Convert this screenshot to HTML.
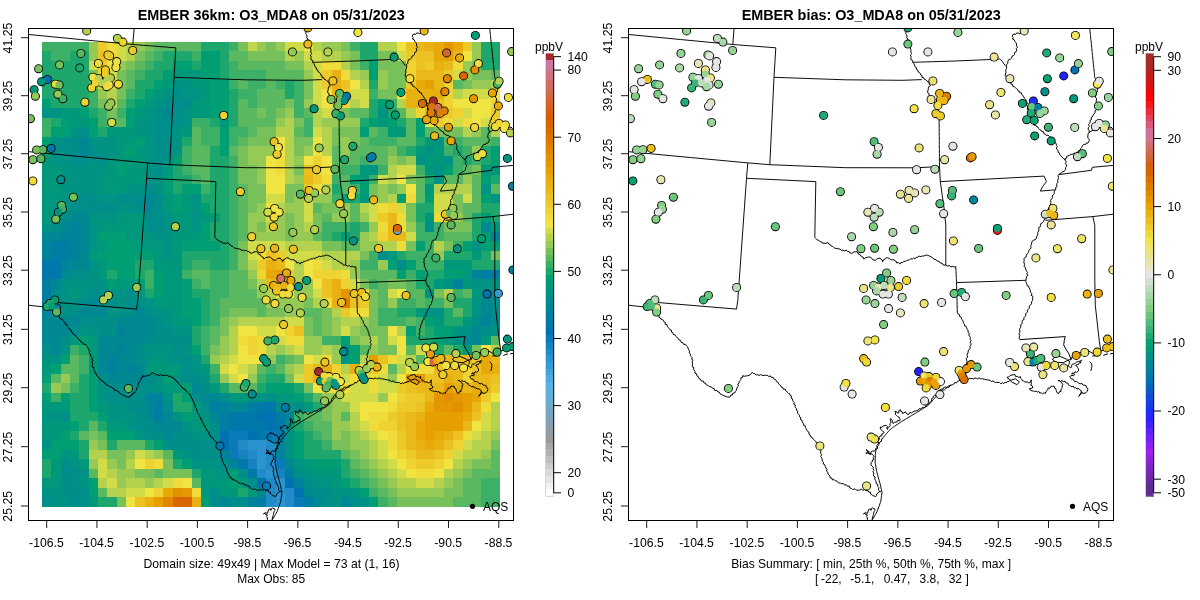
<!DOCTYPE html>
<html><head><meta charset="utf-8"><title>EMBER</title><style>html,body{margin:0;padding:0;background:#fff}body{width:1200px;height:600px;overflow:hidden;font-family:"Liberation Sans",sans-serif}</style></head><body>
<svg width="1200" height="600" viewBox="0 0 1200 600" style="display:block;will-change:transform">
<rect width="1200" height="600" fill="#fff"/>
<defs><clipPath id="cl"><rect x="28.5" y="28.5" width="485" height="492"/></clipPath><clipPath id="cr"><rect x="628.5" y="28.5" width="485" height="492"/></clipPath></defs>
<g shape-rendering="crispEdges">
<rect x="42.00" y="42.00" width="47.02" height="9.78" fill="#3cb067"/>
<rect x="88.72" y="42.00" width="9.64" height="9.78" fill="#96ca54"/>
<rect x="98.07" y="42.00" width="9.64" height="9.78" fill="#ecca29"/>
<rect x="107.41" y="42.00" width="9.64" height="9.78" fill="#efdb3a"/>
<rect x="116.76" y="42.00" width="9.64" height="9.78" fill="#d2db48"/>
<rect x="126.10" y="42.00" width="9.64" height="9.78" fill="#b4d24e"/>
<rect x="135.45" y="42.00" width="9.64" height="9.78" fill="#96ca54"/>
<rect x="144.79" y="42.00" width="9.64" height="9.78" fill="#78c15a"/>
<rect x="154.14" y="42.00" width="47.02" height="9.78" fill="#5ab861"/>
<rect x="200.86" y="42.00" width="28.33" height="9.78" fill="#1ea76d"/>
<rect x="228.90" y="42.00" width="9.64" height="9.78" fill="#3cb067"/>
<rect x="238.24" y="42.00" width="9.64" height="9.78" fill="#78c15a"/>
<rect x="247.59" y="42.00" width="9.64" height="9.78" fill="#c3d74b"/>
<rect x="256.93" y="42.00" width="9.64" height="9.78" fill="#96ca54"/>
<rect x="266.28" y="42.00" width="9.64" height="9.78" fill="#78c15a"/>
<rect x="275.62" y="42.00" width="9.64" height="9.78" fill="#96ca54"/>
<rect x="284.97" y="42.00" width="18.99" height="9.78" fill="#d2db48"/>
<rect x="303.66" y="42.00" width="9.64" height="9.78" fill="#f0e442"/>
<rect x="313.00" y="42.00" width="9.64" height="9.78" fill="#b4d24e"/>
<rect x="322.35" y="42.00" width="18.99" height="9.78" fill="#96ca54"/>
<rect x="341.04" y="42.00" width="9.64" height="9.78" fill="#78c15a"/>
<rect x="350.38" y="42.00" width="9.64" height="9.78" fill="#3cb067"/>
<rect x="359.73" y="42.00" width="18.99" height="9.78" fill="#1ea76d"/>
<rect x="378.42" y="42.00" width="18.99" height="9.78" fill="#b4d24e"/>
<rect x="397.11" y="42.00" width="9.64" height="9.78" fill="#f0e442"/>
<rect x="406.45" y="42.00" width="9.64" height="9.78" fill="#ebc221"/>
<rect x="415.80" y="42.00" width="9.64" height="9.78" fill="#eab919"/>
<rect x="425.14" y="42.00" width="9.64" height="9.78" fill="#e8b010"/>
<rect x="434.49" y="42.00" width="9.64" height="9.78" fill="#e7a808"/>
<rect x="443.83" y="42.00" width="9.64" height="9.78" fill="#e49700"/>
<rect x="453.18" y="42.00" width="9.64" height="9.78" fill="#e7a808"/>
<rect x="462.52" y="42.00" width="9.64" height="9.78" fill="#ecca29"/>
<rect x="471.87" y="42.00" width="9.64" height="9.78" fill="#96ca54"/>
<rect x="481.21" y="42.00" width="18.99" height="9.78" fill="#1ea76d"/>
<rect x="42.00" y="51.48" width="9.64" height="9.78" fill="#1ea76d"/>
<rect x="51.34" y="51.48" width="18.99" height="9.78" fill="#3cb067"/>
<rect x="70.03" y="51.48" width="18.99" height="9.78" fill="#1ea76d"/>
<rect x="88.72" y="51.48" width="9.64" height="9.78" fill="#96ca54"/>
<rect x="98.07" y="51.48" width="9.64" height="9.78" fill="#ebc221"/>
<rect x="107.41" y="51.48" width="9.64" height="9.78" fill="#efdb3a"/>
<rect x="116.76" y="51.48" width="9.64" height="9.78" fill="#d2db48"/>
<rect x="126.10" y="51.48" width="9.64" height="9.78" fill="#b4d24e"/>
<rect x="135.45" y="51.48" width="9.64" height="9.78" fill="#78c15a"/>
<rect x="144.79" y="51.48" width="9.64" height="9.78" fill="#5ab861"/>
<rect x="154.14" y="51.48" width="9.64" height="9.78" fill="#3cb067"/>
<rect x="163.48" y="51.48" width="28.33" height="9.78" fill="#1ea76d"/>
<rect x="191.52" y="51.48" width="9.64" height="9.78" fill="#3cb067"/>
<rect x="200.86" y="51.48" width="18.99" height="9.78" fill="#009e73"/>
<rect x="219.55" y="51.48" width="9.64" height="9.78" fill="#1ea76d"/>
<rect x="228.90" y="51.48" width="18.99" height="9.78" fill="#5ab861"/>
<rect x="247.59" y="51.48" width="37.68" height="9.78" fill="#78c15a"/>
<rect x="284.97" y="51.48" width="9.64" height="9.78" fill="#b4d24e"/>
<rect x="294.31" y="51.48" width="9.64" height="9.78" fill="#96ca54"/>
<rect x="303.66" y="51.48" width="18.99" height="9.78" fill="#d2db48"/>
<rect x="322.35" y="51.48" width="18.99" height="9.78" fill="#b4d24e"/>
<rect x="341.04" y="51.48" width="9.64" height="9.78" fill="#96ca54"/>
<rect x="350.38" y="51.48" width="9.64" height="9.78" fill="#78c15a"/>
<rect x="359.73" y="51.48" width="18.99" height="9.78" fill="#1ea76d"/>
<rect x="378.42" y="51.48" width="18.99" height="9.78" fill="#78c15a"/>
<rect x="397.11" y="51.48" width="9.64" height="9.78" fill="#d2db48"/>
<rect x="406.45" y="51.48" width="9.64" height="9.78" fill="#ecca29"/>
<rect x="415.80" y="51.48" width="18.99" height="9.78" fill="#ebc221"/>
<rect x="434.49" y="51.48" width="9.64" height="9.78" fill="#e7a808"/>
<rect x="443.83" y="51.48" width="9.64" height="9.78" fill="#e69f00"/>
<rect x="453.18" y="51.48" width="9.64" height="9.78" fill="#eab919"/>
<rect x="462.52" y="51.48" width="9.64" height="9.78" fill="#f0e442"/>
<rect x="471.87" y="51.48" width="9.64" height="9.78" fill="#96ca54"/>
<rect x="481.21" y="51.48" width="18.99" height="9.78" fill="#1ea76d"/>
<rect x="42.00" y="60.97" width="47.02" height="9.78" fill="#1ea76d"/>
<rect x="88.72" y="60.97" width="9.64" height="9.78" fill="#d2db48"/>
<rect x="98.07" y="60.97" width="9.64" height="9.78" fill="#ecca29"/>
<rect x="107.41" y="60.97" width="9.64" height="9.78" fill="#f0e442"/>
<rect x="116.76" y="60.97" width="9.64" height="9.78" fill="#96ca54"/>
<rect x="126.10" y="60.97" width="9.64" height="9.78" fill="#78c15a"/>
<rect x="135.45" y="60.97" width="9.64" height="9.78" fill="#5ab861"/>
<rect x="144.79" y="60.97" width="9.64" height="9.78" fill="#3cb067"/>
<rect x="154.14" y="60.97" width="18.99" height="9.78" fill="#1ea76d"/>
<rect x="172.83" y="60.97" width="18.99" height="9.78" fill="#009e73"/>
<rect x="191.52" y="60.97" width="9.64" height="9.78" fill="#1ea76d"/>
<rect x="200.86" y="60.97" width="18.99" height="9.78" fill="#009e73"/>
<rect x="219.55" y="60.97" width="9.64" height="9.78" fill="#1ea76d"/>
<rect x="228.90" y="60.97" width="9.64" height="9.78" fill="#3cb067"/>
<rect x="238.24" y="60.97" width="47.02" height="9.78" fill="#5ab861"/>
<rect x="284.97" y="60.97" width="18.99" height="9.78" fill="#78c15a"/>
<rect x="303.66" y="60.97" width="9.64" height="9.78" fill="#b4d24e"/>
<rect x="313.00" y="60.97" width="9.64" height="9.78" fill="#d2db48"/>
<rect x="322.35" y="60.97" width="18.99" height="9.78" fill="#efdb3a"/>
<rect x="341.04" y="60.97" width="9.64" height="9.78" fill="#b4d24e"/>
<rect x="350.38" y="60.97" width="9.64" height="9.78" fill="#78c15a"/>
<rect x="359.73" y="60.97" width="9.64" height="9.78" fill="#3cb067"/>
<rect x="369.07" y="60.97" width="9.64" height="9.78" fill="#009e73"/>
<rect x="378.42" y="60.97" width="28.33" height="9.78" fill="#78c15a"/>
<rect x="406.45" y="60.97" width="9.64" height="9.78" fill="#eed332"/>
<rect x="415.80" y="60.97" width="9.64" height="9.78" fill="#ebc221"/>
<rect x="425.14" y="60.97" width="9.64" height="9.78" fill="#ecca29"/>
<rect x="434.49" y="60.97" width="9.64" height="9.78" fill="#e8b010"/>
<rect x="443.83" y="60.97" width="9.64" height="9.78" fill="#eab919"/>
<rect x="453.18" y="60.97" width="9.64" height="9.78" fill="#efdb3a"/>
<rect x="462.52" y="60.97" width="9.64" height="9.78" fill="#96ca54"/>
<rect x="471.87" y="60.97" width="9.64" height="9.78" fill="#78c15a"/>
<rect x="481.21" y="60.97" width="18.99" height="9.78" fill="#1ea76d"/>
<rect x="42.00" y="70.45" width="47.02" height="9.78" fill="#1ea76d"/>
<rect x="88.72" y="70.45" width="9.64" height="9.78" fill="#78c15a"/>
<rect x="98.07" y="70.45" width="9.64" height="9.78" fill="#eed332"/>
<rect x="107.41" y="70.45" width="9.64" height="9.78" fill="#d2db48"/>
<rect x="116.76" y="70.45" width="9.64" height="9.78" fill="#78c15a"/>
<rect x="126.10" y="70.45" width="9.64" height="9.78" fill="#5ab861"/>
<rect x="135.45" y="70.45" width="9.64" height="9.78" fill="#3cb067"/>
<rect x="144.79" y="70.45" width="18.99" height="9.78" fill="#1ea76d"/>
<rect x="163.48" y="70.45" width="9.64" height="9.78" fill="#009e73"/>
<rect x="172.83" y="70.45" width="28.33" height="9.78" fill="#00987b"/>
<rect x="200.86" y="70.45" width="18.99" height="9.78" fill="#009e73"/>
<rect x="219.55" y="70.45" width="9.64" height="9.78" fill="#1ea76d"/>
<rect x="228.90" y="70.45" width="37.68" height="9.78" fill="#3cb067"/>
<rect x="266.28" y="70.45" width="37.68" height="9.78" fill="#5ab861"/>
<rect x="303.66" y="70.45" width="9.64" height="9.78" fill="#96ca54"/>
<rect x="313.00" y="70.45" width="9.64" height="9.78" fill="#d2db48"/>
<rect x="322.35" y="70.45" width="9.64" height="9.78" fill="#ecca29"/>
<rect x="331.69" y="70.45" width="9.64" height="9.78" fill="#e8b010"/>
<rect x="341.04" y="70.45" width="9.64" height="9.78" fill="#efdb3a"/>
<rect x="350.38" y="70.45" width="9.64" height="9.78" fill="#b4d24e"/>
<rect x="359.73" y="70.45" width="9.64" height="9.78" fill="#96ca54"/>
<rect x="369.07" y="70.45" width="9.64" height="9.78" fill="#009e73"/>
<rect x="378.42" y="70.45" width="9.64" height="9.78" fill="#96ca54"/>
<rect x="387.76" y="70.45" width="18.99" height="9.78" fill="#78c15a"/>
<rect x="406.45" y="70.45" width="9.64" height="9.78" fill="#eed332"/>
<rect x="415.80" y="70.45" width="28.33" height="9.78" fill="#eab919"/>
<rect x="443.83" y="70.45" width="9.64" height="9.78" fill="#ecca29"/>
<rect x="453.18" y="70.45" width="9.64" height="9.78" fill="#d2db48"/>
<rect x="462.52" y="70.45" width="9.64" height="9.78" fill="#96ca54"/>
<rect x="471.87" y="70.45" width="18.99" height="9.78" fill="#78c15a"/>
<rect x="490.56" y="70.45" width="9.64" height="9.78" fill="#5ab861"/>
<rect x="42.00" y="79.93" width="47.02" height="9.78" fill="#1ea76d"/>
<rect x="88.72" y="79.93" width="9.64" height="9.78" fill="#5ab861"/>
<rect x="98.07" y="79.93" width="18.99" height="9.78" fill="#d2db48"/>
<rect x="116.76" y="79.93" width="9.64" height="9.78" fill="#78c15a"/>
<rect x="126.10" y="79.93" width="9.64" height="9.78" fill="#5ab861"/>
<rect x="135.45" y="79.93" width="18.99" height="9.78" fill="#1ea76d"/>
<rect x="154.14" y="79.93" width="9.64" height="9.78" fill="#009e73"/>
<rect x="163.48" y="79.93" width="9.64" height="9.78" fill="#00987b"/>
<rect x="172.83" y="79.93" width="18.99" height="9.78" fill="#009383"/>
<rect x="191.52" y="79.93" width="18.99" height="9.78" fill="#00987b"/>
<rect x="210.21" y="79.93" width="18.99" height="9.78" fill="#009e73"/>
<rect x="228.90" y="79.93" width="9.64" height="9.78" fill="#3cb067"/>
<rect x="238.24" y="79.93" width="9.64" height="9.78" fill="#5ab861"/>
<rect x="247.59" y="79.93" width="18.99" height="9.78" fill="#3cb067"/>
<rect x="266.28" y="79.93" width="9.64" height="9.78" fill="#5ab861"/>
<rect x="275.62" y="79.93" width="9.64" height="9.78" fill="#3cb067"/>
<rect x="284.97" y="79.93" width="9.64" height="9.78" fill="#1ea76d"/>
<rect x="294.31" y="79.93" width="9.64" height="9.78" fill="#3cb067"/>
<rect x="303.66" y="79.93" width="9.64" height="9.78" fill="#78c15a"/>
<rect x="313.00" y="79.93" width="9.64" height="9.78" fill="#d2db48"/>
<rect x="322.35" y="79.93" width="9.64" height="9.78" fill="#ecca29"/>
<rect x="331.69" y="79.93" width="9.64" height="9.78" fill="#e8b010"/>
<rect x="341.04" y="79.93" width="9.64" height="9.78" fill="#ebc221"/>
<rect x="350.38" y="79.93" width="9.64" height="9.78" fill="#f0e442"/>
<rect x="359.73" y="79.93" width="9.64" height="9.78" fill="#b4d24e"/>
<rect x="369.07" y="79.93" width="9.64" height="9.78" fill="#1ea76d"/>
<rect x="378.42" y="79.93" width="9.64" height="9.78" fill="#96ca54"/>
<rect x="387.76" y="79.93" width="18.99" height="9.78" fill="#78c15a"/>
<rect x="406.45" y="79.93" width="9.64" height="9.78" fill="#ecca29"/>
<rect x="415.80" y="79.93" width="9.64" height="9.78" fill="#e7a808"/>
<rect x="425.14" y="79.93" width="9.64" height="9.78" fill="#e69f00"/>
<rect x="434.49" y="79.93" width="9.64" height="9.78" fill="#eab919"/>
<rect x="443.83" y="79.93" width="9.64" height="9.78" fill="#eed332"/>
<rect x="453.18" y="79.93" width="9.64" height="9.78" fill="#5ab861"/>
<rect x="462.52" y="79.93" width="9.64" height="9.78" fill="#78c15a"/>
<rect x="471.87" y="79.93" width="18.99" height="9.78" fill="#96ca54"/>
<rect x="490.56" y="79.93" width="9.64" height="9.78" fill="#b4d24e"/>
<rect x="42.00" y="89.42" width="47.02" height="9.78" fill="#1ea76d"/>
<rect x="88.72" y="89.42" width="9.64" height="9.78" fill="#3cb067"/>
<rect x="98.07" y="89.42" width="9.64" height="9.78" fill="#96ca54"/>
<rect x="107.41" y="89.42" width="9.64" height="9.78" fill="#b4d24e"/>
<rect x="116.76" y="89.42" width="9.64" height="9.78" fill="#78c15a"/>
<rect x="126.10" y="89.42" width="9.64" height="9.78" fill="#3cb067"/>
<rect x="135.45" y="89.42" width="9.64" height="9.78" fill="#1ea76d"/>
<rect x="144.79" y="89.42" width="9.64" height="9.78" fill="#009e73"/>
<rect x="154.14" y="89.42" width="9.64" height="9.78" fill="#00987b"/>
<rect x="163.48" y="89.42" width="9.64" height="9.78" fill="#009383"/>
<rect x="172.83" y="89.42" width="9.64" height="9.78" fill="#008e8b"/>
<rect x="182.17" y="89.42" width="18.99" height="9.78" fill="#009383"/>
<rect x="200.86" y="89.42" width="9.64" height="9.78" fill="#00987b"/>
<rect x="210.21" y="89.42" width="18.99" height="9.78" fill="#009e73"/>
<rect x="228.90" y="89.42" width="9.64" height="9.78" fill="#1ea76d"/>
<rect x="238.24" y="89.42" width="18.99" height="9.78" fill="#3cb067"/>
<rect x="256.93" y="89.42" width="28.33" height="9.78" fill="#5ab861"/>
<rect x="284.97" y="89.42" width="9.64" height="9.78" fill="#1ea76d"/>
<rect x="294.31" y="89.42" width="9.64" height="9.78" fill="#3cb067"/>
<rect x="303.66" y="89.42" width="9.64" height="9.78" fill="#78c15a"/>
<rect x="313.00" y="89.42" width="9.64" height="9.78" fill="#d2db48"/>
<rect x="322.35" y="89.42" width="9.64" height="9.78" fill="#f0e442"/>
<rect x="331.69" y="89.42" width="9.64" height="9.78" fill="#eab919"/>
<rect x="341.04" y="89.42" width="9.64" height="9.78" fill="#ecca29"/>
<rect x="350.38" y="89.42" width="18.99" height="9.78" fill="#d2db48"/>
<rect x="369.07" y="89.42" width="9.64" height="9.78" fill="#3cb067"/>
<rect x="378.42" y="89.42" width="18.99" height="9.78" fill="#78c15a"/>
<rect x="397.11" y="89.42" width="9.64" height="9.78" fill="#f0e442"/>
<rect x="406.45" y="89.42" width="37.68" height="9.78" fill="#e8b010"/>
<rect x="443.83" y="89.42" width="9.64" height="9.78" fill="#eed332"/>
<rect x="453.18" y="89.42" width="9.64" height="9.78" fill="#b4d24e"/>
<rect x="462.52" y="89.42" width="28.33" height="9.78" fill="#d2db48"/>
<rect x="490.56" y="89.42" width="9.64" height="9.78" fill="#f0e442"/>
<rect x="42.00" y="98.90" width="9.64" height="9.78" fill="#009e73"/>
<rect x="51.34" y="98.90" width="37.68" height="9.78" fill="#1ea76d"/>
<rect x="88.72" y="98.90" width="9.64" height="9.78" fill="#3cb067"/>
<rect x="98.07" y="98.90" width="9.64" height="9.78" fill="#78c15a"/>
<rect x="107.41" y="98.90" width="9.64" height="9.78" fill="#b4d24e"/>
<rect x="116.76" y="98.90" width="9.64" height="9.78" fill="#5ab861"/>
<rect x="126.10" y="98.90" width="9.64" height="9.78" fill="#1ea76d"/>
<rect x="135.45" y="98.90" width="9.64" height="9.78" fill="#009e73"/>
<rect x="144.79" y="98.90" width="9.64" height="9.78" fill="#00987b"/>
<rect x="154.14" y="98.90" width="9.64" height="9.78" fill="#009383"/>
<rect x="163.48" y="98.90" width="28.33" height="9.78" fill="#008e8b"/>
<rect x="191.52" y="98.90" width="18.99" height="9.78" fill="#00987b"/>
<rect x="210.21" y="98.90" width="18.99" height="9.78" fill="#009e73"/>
<rect x="228.90" y="98.90" width="9.64" height="9.78" fill="#1ea76d"/>
<rect x="238.24" y="98.90" width="9.64" height="9.78" fill="#5ab861"/>
<rect x="247.59" y="98.90" width="9.64" height="9.78" fill="#3cb067"/>
<rect x="256.93" y="98.90" width="28.33" height="9.78" fill="#5ab861"/>
<rect x="284.97" y="98.90" width="9.64" height="9.78" fill="#78c15a"/>
<rect x="294.31" y="98.90" width="9.64" height="9.78" fill="#3cb067"/>
<rect x="303.66" y="98.90" width="9.64" height="9.78" fill="#96ca54"/>
<rect x="313.00" y="98.90" width="9.64" height="9.78" fill="#d2db48"/>
<rect x="322.35" y="98.90" width="9.64" height="9.78" fill="#f0e442"/>
<rect x="331.69" y="98.90" width="9.64" height="9.78" fill="#d2db48"/>
<rect x="341.04" y="98.90" width="9.64" height="9.78" fill="#eed332"/>
<rect x="350.38" y="98.90" width="9.64" height="9.78" fill="#b4d24e"/>
<rect x="359.73" y="98.90" width="9.64" height="9.78" fill="#d2db48"/>
<rect x="369.07" y="98.90" width="9.64" height="9.78" fill="#1ea76d"/>
<rect x="378.42" y="98.90" width="9.64" height="9.78" fill="#009e73"/>
<rect x="387.76" y="98.90" width="9.64" height="9.78" fill="#3cb067"/>
<rect x="397.11" y="98.90" width="9.64" height="9.78" fill="#b4d24e"/>
<rect x="406.45" y="98.90" width="18.99" height="9.78" fill="#e8b010"/>
<rect x="425.14" y="98.90" width="9.64" height="9.78" fill="#eab919"/>
<rect x="434.49" y="98.90" width="9.64" height="9.78" fill="#ebc221"/>
<rect x="443.83" y="98.90" width="9.64" height="9.78" fill="#eed332"/>
<rect x="453.18" y="98.90" width="37.68" height="9.78" fill="#f0e442"/>
<rect x="490.56" y="98.90" width="9.64" height="9.78" fill="#eed332"/>
<rect x="42.00" y="108.38" width="18.99" height="9.78" fill="#009383"/>
<rect x="60.69" y="108.38" width="18.99" height="9.78" fill="#00987b"/>
<rect x="79.38" y="108.38" width="9.64" height="9.78" fill="#009e73"/>
<rect x="88.72" y="108.38" width="9.64" height="9.78" fill="#1ea76d"/>
<rect x="98.07" y="108.38" width="9.64" height="9.78" fill="#3cb067"/>
<rect x="107.41" y="108.38" width="9.64" height="9.78" fill="#78c15a"/>
<rect x="116.76" y="108.38" width="9.64" height="9.78" fill="#3cb067"/>
<rect x="126.10" y="108.38" width="9.64" height="9.78" fill="#009e73"/>
<rect x="135.45" y="108.38" width="9.64" height="9.78" fill="#00987b"/>
<rect x="144.79" y="108.38" width="9.64" height="9.78" fill="#009383"/>
<rect x="154.14" y="108.38" width="9.64" height="9.78" fill="#008e8b"/>
<rect x="163.48" y="108.38" width="9.64" height="9.78" fill="#008892"/>
<rect x="172.83" y="108.38" width="9.64" height="9.78" fill="#008e8b"/>
<rect x="182.17" y="108.38" width="9.64" height="9.78" fill="#009383"/>
<rect x="191.52" y="108.38" width="18.99" height="9.78" fill="#00987b"/>
<rect x="210.21" y="108.38" width="18.99" height="9.78" fill="#009e73"/>
<rect x="228.90" y="108.38" width="9.64" height="9.78" fill="#1ea76d"/>
<rect x="238.24" y="108.38" width="18.99" height="9.78" fill="#5ab861"/>
<rect x="256.93" y="108.38" width="9.64" height="9.78" fill="#78c15a"/>
<rect x="266.28" y="108.38" width="9.64" height="9.78" fill="#5ab861"/>
<rect x="275.62" y="108.38" width="9.64" height="9.78" fill="#78c15a"/>
<rect x="284.97" y="108.38" width="9.64" height="9.78" fill="#96ca54"/>
<rect x="294.31" y="108.38" width="9.64" height="9.78" fill="#3cb067"/>
<rect x="303.66" y="108.38" width="9.64" height="9.78" fill="#5ab861"/>
<rect x="313.00" y="108.38" width="9.64" height="9.78" fill="#b4d24e"/>
<rect x="322.35" y="108.38" width="9.64" height="9.78" fill="#d2db48"/>
<rect x="331.69" y="108.38" width="9.64" height="9.78" fill="#96ca54"/>
<rect x="341.04" y="108.38" width="9.64" height="9.78" fill="#78c15a"/>
<rect x="350.38" y="108.38" width="18.99" height="9.78" fill="#5ab861"/>
<rect x="369.07" y="108.38" width="9.64" height="9.78" fill="#1ea76d"/>
<rect x="378.42" y="108.38" width="9.64" height="9.78" fill="#009383"/>
<rect x="387.76" y="108.38" width="9.64" height="9.78" fill="#1ea76d"/>
<rect x="397.11" y="108.38" width="9.64" height="9.78" fill="#5ab861"/>
<rect x="406.45" y="108.38" width="9.64" height="9.78" fill="#b4d24e"/>
<rect x="415.80" y="108.38" width="9.64" height="9.78" fill="#eed332"/>
<rect x="425.14" y="108.38" width="9.64" height="9.78" fill="#eab919"/>
<rect x="434.49" y="108.38" width="9.64" height="9.78" fill="#ebc221"/>
<rect x="443.83" y="108.38" width="9.64" height="9.78" fill="#ecca29"/>
<rect x="453.18" y="108.38" width="9.64" height="9.78" fill="#eed332"/>
<rect x="462.52" y="108.38" width="9.64" height="9.78" fill="#d2db48"/>
<rect x="471.87" y="108.38" width="18.99" height="9.78" fill="#f0e442"/>
<rect x="490.56" y="108.38" width="9.64" height="9.78" fill="#ecca29"/>
<rect x="42.00" y="117.86" width="9.64" height="9.78" fill="#3cb067"/>
<rect x="51.34" y="117.86" width="9.64" height="9.78" fill="#1ea76d"/>
<rect x="60.69" y="117.86" width="9.64" height="9.78" fill="#009e73"/>
<rect x="70.03" y="117.86" width="18.99" height="9.78" fill="#00987b"/>
<rect x="88.72" y="117.86" width="9.64" height="9.78" fill="#009e73"/>
<rect x="98.07" y="117.86" width="9.64" height="9.78" fill="#3cb067"/>
<rect x="107.41" y="117.86" width="18.99" height="9.78" fill="#5ab861"/>
<rect x="126.10" y="117.86" width="9.64" height="9.78" fill="#009e73"/>
<rect x="135.45" y="117.86" width="18.99" height="9.78" fill="#009383"/>
<rect x="154.14" y="117.86" width="28.33" height="9.78" fill="#008e8b"/>
<rect x="182.17" y="117.86" width="9.64" height="9.78" fill="#009383"/>
<rect x="191.52" y="117.86" width="18.99" height="9.78" fill="#3cb067"/>
<rect x="210.21" y="117.86" width="9.64" height="9.78" fill="#1ea76d"/>
<rect x="219.55" y="117.86" width="9.64" height="9.78" fill="#00987b"/>
<rect x="228.90" y="117.86" width="9.64" height="9.78" fill="#1ea76d"/>
<rect x="238.24" y="117.86" width="37.68" height="9.78" fill="#5ab861"/>
<rect x="275.62" y="117.86" width="9.64" height="9.78" fill="#96ca54"/>
<rect x="284.97" y="117.86" width="9.64" height="9.78" fill="#b4d24e"/>
<rect x="294.31" y="117.86" width="9.64" height="9.78" fill="#78c15a"/>
<rect x="303.66" y="117.86" width="9.64" height="9.78" fill="#3cb067"/>
<rect x="313.00" y="117.86" width="9.64" height="9.78" fill="#b4d24e"/>
<rect x="322.35" y="117.86" width="37.68" height="9.78" fill="#96ca54"/>
<rect x="359.73" y="117.86" width="9.64" height="9.78" fill="#1ea76d"/>
<rect x="369.07" y="117.86" width="9.64" height="9.78" fill="#009e73"/>
<rect x="378.42" y="117.86" width="9.64" height="9.78" fill="#00987b"/>
<rect x="387.76" y="117.86" width="9.64" height="9.78" fill="#009e73"/>
<rect x="397.11" y="117.86" width="9.64" height="9.78" fill="#1ea76d"/>
<rect x="406.45" y="117.86" width="9.64" height="9.78" fill="#5ab861"/>
<rect x="415.80" y="117.86" width="9.64" height="9.78" fill="#009e73"/>
<rect x="425.14" y="117.86" width="9.64" height="9.78" fill="#f0e442"/>
<rect x="434.49" y="117.86" width="9.64" height="9.78" fill="#ecca29"/>
<rect x="443.83" y="117.86" width="9.64" height="9.78" fill="#efdb3a"/>
<rect x="453.18" y="117.86" width="9.64" height="9.78" fill="#d2db48"/>
<rect x="462.52" y="117.86" width="9.64" height="9.78" fill="#efdb3a"/>
<rect x="471.87" y="117.86" width="9.64" height="9.78" fill="#f0e442"/>
<rect x="481.21" y="117.86" width="9.64" height="9.78" fill="#d2db48"/>
<rect x="490.56" y="117.86" width="9.64" height="9.78" fill="#ecca29"/>
<rect x="42.00" y="127.35" width="9.64" height="9.78" fill="#3cb067"/>
<rect x="51.34" y="127.35" width="18.99" height="9.78" fill="#009e73"/>
<rect x="70.03" y="127.35" width="9.64" height="9.78" fill="#009383"/>
<rect x="79.38" y="127.35" width="9.64" height="9.78" fill="#008e8b"/>
<rect x="88.72" y="127.35" width="9.64" height="9.78" fill="#009e73"/>
<rect x="98.07" y="127.35" width="9.64" height="9.78" fill="#1ea76d"/>
<rect x="107.41" y="127.35" width="28.33" height="9.78" fill="#00987b"/>
<rect x="135.45" y="127.35" width="18.99" height="9.78" fill="#009383"/>
<rect x="154.14" y="127.35" width="18.99" height="9.78" fill="#008e8b"/>
<rect x="172.83" y="127.35" width="9.64" height="9.78" fill="#009383"/>
<rect x="182.17" y="127.35" width="9.64" height="9.78" fill="#00987b"/>
<rect x="191.52" y="127.35" width="9.64" height="9.78" fill="#5ab861"/>
<rect x="200.86" y="127.35" width="18.99" height="9.78" fill="#3cb067"/>
<rect x="219.55" y="127.35" width="9.64" height="9.78" fill="#009e73"/>
<rect x="228.90" y="127.35" width="18.99" height="9.78" fill="#3cb067"/>
<rect x="247.59" y="127.35" width="9.64" height="9.78" fill="#5ab861"/>
<rect x="256.93" y="127.35" width="18.99" height="9.78" fill="#78c15a"/>
<rect x="275.62" y="127.35" width="18.99" height="9.78" fill="#b4d24e"/>
<rect x="294.31" y="127.35" width="9.64" height="9.78" fill="#5ab861"/>
<rect x="303.66" y="127.35" width="9.64" height="9.78" fill="#3cb067"/>
<rect x="313.00" y="127.35" width="9.64" height="9.78" fill="#d2db48"/>
<rect x="322.35" y="127.35" width="9.64" height="9.78" fill="#b4d24e"/>
<rect x="331.69" y="127.35" width="28.33" height="9.78" fill="#78c15a"/>
<rect x="359.73" y="127.35" width="9.64" height="9.78" fill="#009e73"/>
<rect x="369.07" y="127.35" width="9.64" height="9.78" fill="#5ab861"/>
<rect x="378.42" y="127.35" width="9.64" height="9.78" fill="#3cb067"/>
<rect x="387.76" y="127.35" width="18.99" height="9.78" fill="#00987b"/>
<rect x="406.45" y="127.35" width="9.64" height="9.78" fill="#5ab861"/>
<rect x="415.80" y="127.35" width="9.64" height="9.78" fill="#009e73"/>
<rect x="425.14" y="127.35" width="9.64" height="9.78" fill="#5ab861"/>
<rect x="434.49" y="127.35" width="28.33" height="9.78" fill="#78c15a"/>
<rect x="462.52" y="127.35" width="9.64" height="9.78" fill="#b4d24e"/>
<rect x="471.87" y="127.35" width="9.64" height="9.78" fill="#96ca54"/>
<rect x="481.21" y="127.35" width="9.64" height="9.78" fill="#5ab861"/>
<rect x="490.56" y="127.35" width="9.64" height="9.78" fill="#b4d24e"/>
<rect x="42.00" y="136.83" width="9.64" height="9.78" fill="#009e73"/>
<rect x="51.34" y="136.83" width="9.64" height="9.78" fill="#009383"/>
<rect x="60.69" y="136.83" width="18.99" height="9.78" fill="#008e8b"/>
<rect x="79.38" y="136.83" width="9.64" height="9.78" fill="#008892"/>
<rect x="88.72" y="136.83" width="28.33" height="9.78" fill="#009383"/>
<rect x="116.76" y="136.83" width="18.99" height="9.78" fill="#00987b"/>
<rect x="135.45" y="136.83" width="9.64" height="9.78" fill="#009e73"/>
<rect x="144.79" y="136.83" width="9.64" height="9.78" fill="#009383"/>
<rect x="154.14" y="136.83" width="18.99" height="9.78" fill="#008e8b"/>
<rect x="172.83" y="136.83" width="9.64" height="9.78" fill="#009383"/>
<rect x="182.17" y="136.83" width="9.64" height="9.78" fill="#1ea76d"/>
<rect x="191.52" y="136.83" width="9.64" height="9.78" fill="#5ab861"/>
<rect x="200.86" y="136.83" width="18.99" height="9.78" fill="#3cb067"/>
<rect x="219.55" y="136.83" width="9.64" height="9.78" fill="#009e73"/>
<rect x="228.90" y="136.83" width="9.64" height="9.78" fill="#3cb067"/>
<rect x="238.24" y="136.83" width="9.64" height="9.78" fill="#5ab861"/>
<rect x="247.59" y="136.83" width="28.33" height="9.78" fill="#78c15a"/>
<rect x="275.62" y="136.83" width="9.64" height="9.78" fill="#f0e442"/>
<rect x="284.97" y="136.83" width="9.64" height="9.78" fill="#b4d24e"/>
<rect x="294.31" y="136.83" width="18.99" height="9.78" fill="#78c15a"/>
<rect x="313.00" y="136.83" width="9.64" height="9.78" fill="#f0e442"/>
<rect x="322.35" y="136.83" width="9.64" height="9.78" fill="#b4d24e"/>
<rect x="331.69" y="136.83" width="9.64" height="9.78" fill="#78c15a"/>
<rect x="341.04" y="136.83" width="9.64" height="9.78" fill="#96ca54"/>
<rect x="350.38" y="136.83" width="9.64" height="9.78" fill="#78c15a"/>
<rect x="359.73" y="136.83" width="9.64" height="9.78" fill="#5ab861"/>
<rect x="369.07" y="136.83" width="28.33" height="9.78" fill="#3cb067"/>
<rect x="397.11" y="136.83" width="18.99" height="9.78" fill="#5ab861"/>
<rect x="415.80" y="136.83" width="9.64" height="9.78" fill="#1ea76d"/>
<rect x="425.14" y="136.83" width="9.64" height="9.78" fill="#00987b"/>
<rect x="434.49" y="136.83" width="9.64" height="9.78" fill="#009383"/>
<rect x="443.83" y="136.83" width="9.64" height="9.78" fill="#5ab861"/>
<rect x="453.18" y="136.83" width="9.64" height="9.78" fill="#3cb067"/>
<rect x="462.52" y="136.83" width="28.33" height="9.78" fill="#5ab861"/>
<rect x="490.56" y="136.83" width="9.64" height="9.78" fill="#3cb067"/>
<rect x="42.00" y="146.31" width="9.64" height="9.78" fill="#009e73"/>
<rect x="51.34" y="146.31" width="28.33" height="9.78" fill="#008e8b"/>
<rect x="79.38" y="146.31" width="9.64" height="9.78" fill="#008892"/>
<rect x="88.72" y="146.31" width="9.64" height="9.78" fill="#008e8b"/>
<rect x="98.07" y="146.31" width="18.99" height="9.78" fill="#009383"/>
<rect x="116.76" y="146.31" width="9.64" height="9.78" fill="#00987b"/>
<rect x="126.10" y="146.31" width="9.64" height="9.78" fill="#009e73"/>
<rect x="135.45" y="146.31" width="9.64" height="9.78" fill="#00987b"/>
<rect x="144.79" y="146.31" width="9.64" height="9.78" fill="#009383"/>
<rect x="154.14" y="146.31" width="18.99" height="9.78" fill="#008e8b"/>
<rect x="172.83" y="146.31" width="9.64" height="9.78" fill="#009383"/>
<rect x="182.17" y="146.31" width="9.64" height="9.78" fill="#3cb067"/>
<rect x="191.52" y="146.31" width="18.99" height="9.78" fill="#5ab861"/>
<rect x="210.21" y="146.31" width="9.64" height="9.78" fill="#1ea76d"/>
<rect x="219.55" y="146.31" width="9.64" height="9.78" fill="#009e73"/>
<rect x="228.90" y="146.31" width="9.64" height="9.78" fill="#5ab861"/>
<rect x="238.24" y="146.31" width="9.64" height="9.78" fill="#78c15a"/>
<rect x="247.59" y="146.31" width="28.33" height="9.78" fill="#96ca54"/>
<rect x="275.62" y="146.31" width="9.64" height="9.78" fill="#f0e442"/>
<rect x="284.97" y="146.31" width="9.64" height="9.78" fill="#b4d24e"/>
<rect x="294.31" y="146.31" width="9.64" height="9.78" fill="#78c15a"/>
<rect x="303.66" y="146.31" width="9.64" height="9.78" fill="#96ca54"/>
<rect x="313.00" y="146.31" width="9.64" height="9.78" fill="#f0e442"/>
<rect x="322.35" y="146.31" width="9.64" height="9.78" fill="#b4d24e"/>
<rect x="331.69" y="146.31" width="9.64" height="9.78" fill="#5ab861"/>
<rect x="341.04" y="146.31" width="9.64" height="9.78" fill="#96ca54"/>
<rect x="350.38" y="146.31" width="37.68" height="9.78" fill="#5ab861"/>
<rect x="387.76" y="146.31" width="9.64" height="9.78" fill="#78c15a"/>
<rect x="397.11" y="146.31" width="9.64" height="9.78" fill="#3cb067"/>
<rect x="406.45" y="146.31" width="9.64" height="9.78" fill="#1ea76d"/>
<rect x="415.80" y="146.31" width="9.64" height="9.78" fill="#00987b"/>
<rect x="425.14" y="146.31" width="9.64" height="9.78" fill="#009383"/>
<rect x="434.49" y="146.31" width="9.64" height="9.78" fill="#00987b"/>
<rect x="443.83" y="146.31" width="9.64" height="9.78" fill="#3cb067"/>
<rect x="453.18" y="146.31" width="9.64" height="9.78" fill="#1ea76d"/>
<rect x="462.52" y="146.31" width="9.64" height="9.78" fill="#3cb067"/>
<rect x="471.87" y="146.31" width="9.64" height="9.78" fill="#96ca54"/>
<rect x="481.21" y="146.31" width="9.64" height="9.78" fill="#1ea76d"/>
<rect x="490.56" y="146.31" width="9.64" height="9.78" fill="#009e73"/>
<rect x="42.00" y="155.80" width="9.64" height="9.78" fill="#00987b"/>
<rect x="51.34" y="155.80" width="18.99" height="9.78" fill="#009383"/>
<rect x="70.03" y="155.80" width="18.99" height="9.78" fill="#008e8b"/>
<rect x="88.72" y="155.80" width="9.64" height="9.78" fill="#009383"/>
<rect x="98.07" y="155.80" width="9.64" height="9.78" fill="#008e8b"/>
<rect x="107.41" y="155.80" width="37.68" height="9.78" fill="#00987b"/>
<rect x="144.79" y="155.80" width="9.64" height="9.78" fill="#009383"/>
<rect x="154.14" y="155.80" width="9.64" height="9.78" fill="#008e8b"/>
<rect x="163.48" y="155.80" width="9.64" height="9.78" fill="#009383"/>
<rect x="172.83" y="155.80" width="9.64" height="9.78" fill="#009e73"/>
<rect x="182.17" y="155.80" width="9.64" height="9.78" fill="#3cb067"/>
<rect x="191.52" y="155.80" width="18.99" height="9.78" fill="#5ab861"/>
<rect x="210.21" y="155.80" width="18.99" height="9.78" fill="#1ea76d"/>
<rect x="228.90" y="155.80" width="9.64" height="9.78" fill="#3cb067"/>
<rect x="238.24" y="155.80" width="9.64" height="9.78" fill="#78c15a"/>
<rect x="247.59" y="155.80" width="18.99" height="9.78" fill="#96ca54"/>
<rect x="266.28" y="155.80" width="9.64" height="9.78" fill="#f0e442"/>
<rect x="275.62" y="155.80" width="9.64" height="9.78" fill="#efdb3a"/>
<rect x="284.97" y="155.80" width="9.64" height="9.78" fill="#b4d24e"/>
<rect x="294.31" y="155.80" width="9.64" height="9.78" fill="#96ca54"/>
<rect x="303.66" y="155.80" width="9.64" height="9.78" fill="#f0e442"/>
<rect x="313.00" y="155.80" width="9.64" height="9.78" fill="#eed332"/>
<rect x="322.35" y="155.80" width="9.64" height="9.78" fill="#f0e442"/>
<rect x="331.69" y="155.80" width="28.33" height="9.78" fill="#5ab861"/>
<rect x="359.73" y="155.80" width="9.64" height="9.78" fill="#3cb067"/>
<rect x="369.07" y="155.80" width="18.99" height="9.78" fill="#5ab861"/>
<rect x="387.76" y="155.80" width="9.64" height="9.78" fill="#96ca54"/>
<rect x="397.11" y="155.80" width="9.64" height="9.78" fill="#78c15a"/>
<rect x="406.45" y="155.80" width="9.64" height="9.78" fill="#96ca54"/>
<rect x="415.80" y="155.80" width="9.64" height="9.78" fill="#009383"/>
<rect x="425.14" y="155.80" width="18.99" height="9.78" fill="#00987b"/>
<rect x="443.83" y="155.80" width="9.64" height="9.78" fill="#009383"/>
<rect x="453.18" y="155.80" width="9.64" height="9.78" fill="#3cb067"/>
<rect x="462.52" y="155.80" width="9.64" height="9.78" fill="#1ea76d"/>
<rect x="471.87" y="155.80" width="9.64" height="9.78" fill="#3cb067"/>
<rect x="481.21" y="155.80" width="9.64" height="9.78" fill="#1ea76d"/>
<rect x="490.56" y="155.80" width="9.64" height="9.78" fill="#009e73"/>
<rect x="42.00" y="165.28" width="18.99" height="9.78" fill="#00987b"/>
<rect x="60.69" y="165.28" width="47.02" height="9.78" fill="#009383"/>
<rect x="107.41" y="165.28" width="9.64" height="9.78" fill="#00987b"/>
<rect x="116.76" y="165.28" width="9.64" height="9.78" fill="#009e73"/>
<rect x="126.10" y="165.28" width="18.99" height="9.78" fill="#00987b"/>
<rect x="144.79" y="165.28" width="9.64" height="9.78" fill="#009383"/>
<rect x="154.14" y="165.28" width="9.64" height="9.78" fill="#008e8b"/>
<rect x="163.48" y="165.28" width="9.64" height="9.78" fill="#00987b"/>
<rect x="172.83" y="165.28" width="9.64" height="9.78" fill="#1ea76d"/>
<rect x="182.17" y="165.28" width="9.64" height="9.78" fill="#3cb067"/>
<rect x="191.52" y="165.28" width="18.99" height="9.78" fill="#5ab861"/>
<rect x="210.21" y="165.28" width="18.99" height="9.78" fill="#1ea76d"/>
<rect x="228.90" y="165.28" width="9.64" height="9.78" fill="#3cb067"/>
<rect x="238.24" y="165.28" width="18.99" height="9.78" fill="#78c15a"/>
<rect x="256.93" y="165.28" width="9.64" height="9.78" fill="#96ca54"/>
<rect x="266.28" y="165.28" width="9.64" height="9.78" fill="#f0e442"/>
<rect x="275.62" y="165.28" width="9.64" height="9.78" fill="#efdb3a"/>
<rect x="284.97" y="165.28" width="9.64" height="9.78" fill="#b4d24e"/>
<rect x="294.31" y="165.28" width="9.64" height="9.78" fill="#78c15a"/>
<rect x="303.66" y="165.28" width="9.64" height="9.78" fill="#ebc221"/>
<rect x="313.00" y="165.28" width="9.64" height="9.78" fill="#eed332"/>
<rect x="322.35" y="165.28" width="9.64" height="9.78" fill="#f0e442"/>
<rect x="331.69" y="165.28" width="9.64" height="9.78" fill="#5ab861"/>
<rect x="341.04" y="165.28" width="18.99" height="9.78" fill="#3cb067"/>
<rect x="359.73" y="165.28" width="9.64" height="9.78" fill="#00987b"/>
<rect x="369.07" y="165.28" width="9.64" height="9.78" fill="#009383"/>
<rect x="378.42" y="165.28" width="9.64" height="9.78" fill="#3cb067"/>
<rect x="387.76" y="165.28" width="9.64" height="9.78" fill="#b4d24e"/>
<rect x="397.11" y="165.28" width="18.99" height="9.78" fill="#d2db48"/>
<rect x="415.80" y="165.28" width="9.64" height="9.78" fill="#3cb067"/>
<rect x="425.14" y="165.28" width="9.64" height="9.78" fill="#00987b"/>
<rect x="434.49" y="165.28" width="9.64" height="9.78" fill="#009383"/>
<rect x="443.83" y="165.28" width="9.64" height="9.78" fill="#009e73"/>
<rect x="453.18" y="165.28" width="9.64" height="9.78" fill="#3cb067"/>
<rect x="462.52" y="165.28" width="9.64" height="9.78" fill="#5ab861"/>
<rect x="471.87" y="165.28" width="9.64" height="9.78" fill="#78c15a"/>
<rect x="481.21" y="165.28" width="18.99" height="9.78" fill="#00987b"/>
<rect x="42.00" y="174.76" width="18.99" height="9.78" fill="#00987b"/>
<rect x="60.69" y="174.76" width="37.68" height="9.78" fill="#009383"/>
<rect x="98.07" y="174.76" width="47.02" height="9.78" fill="#00987b"/>
<rect x="144.79" y="174.76" width="18.99" height="9.78" fill="#009383"/>
<rect x="163.48" y="174.76" width="9.64" height="9.78" fill="#009e73"/>
<rect x="172.83" y="174.76" width="18.99" height="9.78" fill="#1ea76d"/>
<rect x="191.52" y="174.76" width="9.64" height="9.78" fill="#3cb067"/>
<rect x="200.86" y="174.76" width="9.64" height="9.78" fill="#5ab861"/>
<rect x="210.21" y="174.76" width="18.99" height="9.78" fill="#1ea76d"/>
<rect x="228.90" y="174.76" width="9.64" height="9.78" fill="#3cb067"/>
<rect x="238.24" y="174.76" width="18.99" height="9.78" fill="#78c15a"/>
<rect x="256.93" y="174.76" width="9.64" height="9.78" fill="#96ca54"/>
<rect x="266.28" y="174.76" width="18.99" height="9.78" fill="#f0e442"/>
<rect x="284.97" y="174.76" width="9.64" height="9.78" fill="#b4d24e"/>
<rect x="294.31" y="174.76" width="9.64" height="9.78" fill="#96ca54"/>
<rect x="303.66" y="174.76" width="9.64" height="9.78" fill="#eab919"/>
<rect x="313.00" y="174.76" width="9.64" height="9.78" fill="#ecca29"/>
<rect x="322.35" y="174.76" width="9.64" height="9.78" fill="#efdb3a"/>
<rect x="331.69" y="174.76" width="9.64" height="9.78" fill="#3cb067"/>
<rect x="341.04" y="174.76" width="9.64" height="9.78" fill="#5ab861"/>
<rect x="350.38" y="174.76" width="9.64" height="9.78" fill="#009e73"/>
<rect x="359.73" y="174.76" width="9.64" height="9.78" fill="#00987b"/>
<rect x="369.07" y="174.76" width="9.64" height="9.78" fill="#3cb067"/>
<rect x="378.42" y="174.76" width="9.64" height="9.78" fill="#d2db48"/>
<rect x="387.76" y="174.76" width="9.64" height="9.78" fill="#b4d24e"/>
<rect x="397.11" y="174.76" width="9.64" height="9.78" fill="#f0e442"/>
<rect x="406.45" y="174.76" width="9.64" height="9.78" fill="#78c15a"/>
<rect x="415.80" y="174.76" width="9.64" height="9.78" fill="#5ab861"/>
<rect x="425.14" y="174.76" width="9.64" height="9.78" fill="#1ea76d"/>
<rect x="434.49" y="174.76" width="9.64" height="9.78" fill="#009383"/>
<rect x="443.83" y="174.76" width="18.99" height="9.78" fill="#5ab861"/>
<rect x="462.52" y="174.76" width="9.64" height="9.78" fill="#96ca54"/>
<rect x="471.87" y="174.76" width="9.64" height="9.78" fill="#5ab861"/>
<rect x="481.21" y="174.76" width="9.64" height="9.78" fill="#009e73"/>
<rect x="490.56" y="174.76" width="9.64" height="9.78" fill="#1ea76d"/>
<rect x="42.00" y="184.25" width="18.99" height="9.78" fill="#00987b"/>
<rect x="60.69" y="184.25" width="37.68" height="9.78" fill="#009383"/>
<rect x="98.07" y="184.25" width="28.33" height="9.78" fill="#00987b"/>
<rect x="126.10" y="184.25" width="18.99" height="9.78" fill="#009383"/>
<rect x="144.79" y="184.25" width="9.64" height="9.78" fill="#008e8b"/>
<rect x="154.14" y="184.25" width="9.64" height="9.78" fill="#009383"/>
<rect x="163.48" y="184.25" width="9.64" height="9.78" fill="#009e73"/>
<rect x="172.83" y="184.25" width="9.64" height="9.78" fill="#1ea76d"/>
<rect x="182.17" y="184.25" width="18.99" height="9.78" fill="#009e73"/>
<rect x="200.86" y="184.25" width="9.64" height="9.78" fill="#3cb067"/>
<rect x="210.21" y="184.25" width="18.99" height="9.78" fill="#1ea76d"/>
<rect x="228.90" y="184.25" width="9.64" height="9.78" fill="#3cb067"/>
<rect x="238.24" y="184.25" width="9.64" height="9.78" fill="#5ab861"/>
<rect x="247.59" y="184.25" width="18.99" height="9.78" fill="#78c15a"/>
<rect x="266.28" y="184.25" width="18.99" height="9.78" fill="#f0e442"/>
<rect x="284.97" y="184.25" width="18.99" height="9.78" fill="#78c15a"/>
<rect x="303.66" y="184.25" width="9.64" height="9.78" fill="#ecca29"/>
<rect x="313.00" y="184.25" width="9.64" height="9.78" fill="#efdb3a"/>
<rect x="322.35" y="184.25" width="9.64" height="9.78" fill="#b4d24e"/>
<rect x="331.69" y="184.25" width="9.64" height="9.78" fill="#1ea76d"/>
<rect x="341.04" y="184.25" width="9.64" height="9.78" fill="#5ab861"/>
<rect x="350.38" y="184.25" width="9.64" height="9.78" fill="#3cb067"/>
<rect x="359.73" y="184.25" width="9.64" height="9.78" fill="#009e73"/>
<rect x="369.07" y="184.25" width="9.64" height="9.78" fill="#78c15a"/>
<rect x="378.42" y="184.25" width="9.64" height="9.78" fill="#96ca54"/>
<rect x="387.76" y="184.25" width="9.64" height="9.78" fill="#78c15a"/>
<rect x="397.11" y="184.25" width="9.64" height="9.78" fill="#96ca54"/>
<rect x="406.45" y="184.25" width="9.64" height="9.78" fill="#f0e442"/>
<rect x="415.80" y="184.25" width="9.64" height="9.78" fill="#5ab861"/>
<rect x="425.14" y="184.25" width="9.64" height="9.78" fill="#00987b"/>
<rect x="434.49" y="184.25" width="37.68" height="9.78" fill="#b4d24e"/>
<rect x="471.87" y="184.25" width="9.64" height="9.78" fill="#5ab861"/>
<rect x="481.21" y="184.25" width="9.64" height="9.78" fill="#009383"/>
<rect x="490.56" y="184.25" width="9.64" height="9.78" fill="#5ab861"/>
<rect x="42.00" y="193.73" width="18.99" height="9.78" fill="#00987b"/>
<rect x="60.69" y="193.73" width="18.99" height="9.78" fill="#009383"/>
<rect x="79.38" y="193.73" width="18.99" height="9.78" fill="#008e8b"/>
<rect x="98.07" y="193.73" width="18.99" height="9.78" fill="#009383"/>
<rect x="116.76" y="193.73" width="28.33" height="9.78" fill="#008e8b"/>
<rect x="144.79" y="193.73" width="9.64" height="9.78" fill="#008892"/>
<rect x="154.14" y="193.73" width="9.64" height="9.78" fill="#008e8b"/>
<rect x="163.48" y="193.73" width="9.64" height="9.78" fill="#00987b"/>
<rect x="172.83" y="193.73" width="9.64" height="9.78" fill="#009e73"/>
<rect x="182.17" y="193.73" width="9.64" height="9.78" fill="#00987b"/>
<rect x="191.52" y="193.73" width="9.64" height="9.78" fill="#009383"/>
<rect x="200.86" y="193.73" width="28.33" height="9.78" fill="#1ea76d"/>
<rect x="228.90" y="193.73" width="9.64" height="9.78" fill="#3cb067"/>
<rect x="238.24" y="193.73" width="9.64" height="9.78" fill="#5ab861"/>
<rect x="247.59" y="193.73" width="18.99" height="9.78" fill="#78c15a"/>
<rect x="266.28" y="193.73" width="18.99" height="9.78" fill="#d2db48"/>
<rect x="284.97" y="193.73" width="9.64" height="9.78" fill="#78c15a"/>
<rect x="294.31" y="193.73" width="9.64" height="9.78" fill="#96ca54"/>
<rect x="303.66" y="193.73" width="9.64" height="9.78" fill="#d2db48"/>
<rect x="313.00" y="193.73" width="18.99" height="9.78" fill="#96ca54"/>
<rect x="331.69" y="193.73" width="9.64" height="9.78" fill="#3cb067"/>
<rect x="341.04" y="193.73" width="9.64" height="9.78" fill="#009e73"/>
<rect x="350.38" y="193.73" width="9.64" height="9.78" fill="#1ea76d"/>
<rect x="359.73" y="193.73" width="9.64" height="9.78" fill="#00987b"/>
<rect x="369.07" y="193.73" width="9.64" height="9.78" fill="#78c15a"/>
<rect x="378.42" y="193.73" width="9.64" height="9.78" fill="#96ca54"/>
<rect x="387.76" y="193.73" width="9.64" height="9.78" fill="#b4d24e"/>
<rect x="397.11" y="193.73" width="9.64" height="9.78" fill="#009e73"/>
<rect x="406.45" y="193.73" width="9.64" height="9.78" fill="#efdb3a"/>
<rect x="415.80" y="193.73" width="9.64" height="9.78" fill="#5ab861"/>
<rect x="425.14" y="193.73" width="9.64" height="9.78" fill="#009e73"/>
<rect x="434.49" y="193.73" width="18.99" height="9.78" fill="#d2db48"/>
<rect x="453.18" y="193.73" width="9.64" height="9.78" fill="#78c15a"/>
<rect x="462.52" y="193.73" width="9.64" height="9.78" fill="#d2db48"/>
<rect x="471.87" y="193.73" width="9.64" height="9.78" fill="#5ab861"/>
<rect x="481.21" y="193.73" width="9.64" height="9.78" fill="#009e73"/>
<rect x="490.56" y="193.73" width="9.64" height="9.78" fill="#009383"/>
<rect x="42.00" y="203.21" width="9.64" height="9.78" fill="#00987b"/>
<rect x="51.34" y="203.21" width="18.99" height="9.78" fill="#009383"/>
<rect x="70.03" y="203.21" width="47.02" height="9.78" fill="#008e8b"/>
<rect x="116.76" y="203.21" width="18.99" height="9.78" fill="#009383"/>
<rect x="135.45" y="203.21" width="9.64" height="9.78" fill="#008e8b"/>
<rect x="144.79" y="203.21" width="9.64" height="9.78" fill="#008892"/>
<rect x="154.14" y="203.21" width="9.64" height="9.78" fill="#008e8b"/>
<rect x="163.48" y="203.21" width="9.64" height="9.78" fill="#00987b"/>
<rect x="172.83" y="203.21" width="9.64" height="9.78" fill="#009e73"/>
<rect x="182.17" y="203.21" width="9.64" height="9.78" fill="#00987b"/>
<rect x="191.52" y="203.21" width="9.64" height="9.78" fill="#009383"/>
<rect x="200.86" y="203.21" width="9.64" height="9.78" fill="#009e73"/>
<rect x="210.21" y="203.21" width="18.99" height="9.78" fill="#1ea76d"/>
<rect x="228.90" y="203.21" width="9.64" height="9.78" fill="#3cb067"/>
<rect x="238.24" y="203.21" width="9.64" height="9.78" fill="#5ab861"/>
<rect x="247.59" y="203.21" width="9.64" height="9.78" fill="#78c15a"/>
<rect x="256.93" y="203.21" width="9.64" height="9.78" fill="#96ca54"/>
<rect x="266.28" y="203.21" width="9.64" height="9.78" fill="#f0e442"/>
<rect x="275.62" y="203.21" width="9.64" height="9.78" fill="#b4d24e"/>
<rect x="284.97" y="203.21" width="18.99" height="9.78" fill="#96ca54"/>
<rect x="303.66" y="203.21" width="9.64" height="9.78" fill="#d2db48"/>
<rect x="313.00" y="203.21" width="9.64" height="9.78" fill="#5ab861"/>
<rect x="322.35" y="203.21" width="18.99" height="9.78" fill="#78c15a"/>
<rect x="341.04" y="203.21" width="9.64" height="9.78" fill="#96ca54"/>
<rect x="350.38" y="203.21" width="9.64" height="9.78" fill="#5ab861"/>
<rect x="359.73" y="203.21" width="9.64" height="9.78" fill="#b4d24e"/>
<rect x="369.07" y="203.21" width="9.64" height="9.78" fill="#d2db48"/>
<rect x="378.42" y="203.21" width="9.64" height="9.78" fill="#efdb3a"/>
<rect x="387.76" y="203.21" width="9.64" height="9.78" fill="#eed332"/>
<rect x="397.11" y="203.21" width="9.64" height="9.78" fill="#d2db48"/>
<rect x="406.45" y="203.21" width="9.64" height="9.78" fill="#78c15a"/>
<rect x="415.80" y="203.21" width="18.99" height="9.78" fill="#1ea76d"/>
<rect x="434.49" y="203.21" width="18.99" height="9.78" fill="#d2db48"/>
<rect x="453.18" y="203.21" width="9.64" height="9.78" fill="#78c15a"/>
<rect x="462.52" y="203.21" width="18.99" height="9.78" fill="#5ab861"/>
<rect x="481.21" y="203.21" width="18.99" height="9.78" fill="#1ea76d"/>
<rect x="42.00" y="212.70" width="9.64" height="9.78" fill="#00987b"/>
<rect x="51.34" y="212.70" width="9.64" height="9.78" fill="#009383"/>
<rect x="60.69" y="212.70" width="9.64" height="9.78" fill="#008e8b"/>
<rect x="70.03" y="212.70" width="18.99" height="9.78" fill="#008892"/>
<rect x="88.72" y="212.70" width="28.33" height="9.78" fill="#009383"/>
<rect x="116.76" y="212.70" width="28.33" height="9.78" fill="#00987b"/>
<rect x="144.79" y="212.70" width="18.99" height="9.78" fill="#008e8b"/>
<rect x="163.48" y="212.70" width="9.64" height="9.78" fill="#009383"/>
<rect x="172.83" y="212.70" width="18.99" height="9.78" fill="#00987b"/>
<rect x="191.52" y="212.70" width="9.64" height="9.78" fill="#009383"/>
<rect x="200.86" y="212.70" width="9.64" height="9.78" fill="#00987b"/>
<rect x="210.21" y="212.70" width="9.64" height="9.78" fill="#009e73"/>
<rect x="219.55" y="212.70" width="9.64" height="9.78" fill="#1ea76d"/>
<rect x="228.90" y="212.70" width="9.64" height="9.78" fill="#3cb067"/>
<rect x="238.24" y="212.70" width="9.64" height="9.78" fill="#5ab861"/>
<rect x="247.59" y="212.70" width="18.99" height="9.78" fill="#96ca54"/>
<rect x="266.28" y="212.70" width="9.64" height="9.78" fill="#d2db48"/>
<rect x="275.62" y="212.70" width="9.64" height="9.78" fill="#96ca54"/>
<rect x="284.97" y="212.70" width="9.64" height="9.78" fill="#78c15a"/>
<rect x="294.31" y="212.70" width="9.64" height="9.78" fill="#96ca54"/>
<rect x="303.66" y="212.70" width="9.64" height="9.78" fill="#d2db48"/>
<rect x="313.00" y="212.70" width="9.64" height="9.78" fill="#78c15a"/>
<rect x="322.35" y="212.70" width="9.64" height="9.78" fill="#5ab861"/>
<rect x="331.69" y="212.70" width="18.99" height="9.78" fill="#96ca54"/>
<rect x="350.38" y="212.70" width="9.64" height="9.78" fill="#5ab861"/>
<rect x="359.73" y="212.70" width="9.64" height="9.78" fill="#96ca54"/>
<rect x="369.07" y="212.70" width="9.64" height="9.78" fill="#d2db48"/>
<rect x="378.42" y="212.70" width="9.64" height="9.78" fill="#ecca29"/>
<rect x="387.76" y="212.70" width="9.64" height="9.78" fill="#eab919"/>
<rect x="397.11" y="212.70" width="9.64" height="9.78" fill="#efdb3a"/>
<rect x="406.45" y="212.70" width="9.64" height="9.78" fill="#78c15a"/>
<rect x="415.80" y="212.70" width="9.64" height="9.78" fill="#1ea76d"/>
<rect x="425.14" y="212.70" width="9.64" height="9.78" fill="#00987b"/>
<rect x="434.49" y="212.70" width="9.64" height="9.78" fill="#efdb3a"/>
<rect x="443.83" y="212.70" width="9.64" height="9.78" fill="#eed332"/>
<rect x="453.18" y="212.70" width="9.64" height="9.78" fill="#96ca54"/>
<rect x="462.52" y="212.70" width="9.64" height="9.78" fill="#5ab861"/>
<rect x="471.87" y="212.70" width="9.64" height="9.78" fill="#1ea76d"/>
<rect x="481.21" y="212.70" width="9.64" height="9.78" fill="#009e73"/>
<rect x="490.56" y="212.70" width="9.64" height="9.78" fill="#1ea76d"/>
<rect x="42.00" y="222.18" width="9.64" height="9.78" fill="#009383"/>
<rect x="51.34" y="222.18" width="9.64" height="9.78" fill="#008e8b"/>
<rect x="60.69" y="222.18" width="9.64" height="9.78" fill="#008892"/>
<rect x="70.03" y="222.18" width="9.64" height="9.78" fill="#00829a"/>
<rect x="79.38" y="222.18" width="9.64" height="9.78" fill="#008892"/>
<rect x="88.72" y="222.18" width="9.64" height="9.78" fill="#009383"/>
<rect x="98.07" y="222.18" width="47.02" height="9.78" fill="#00987b"/>
<rect x="144.79" y="222.18" width="18.99" height="9.78" fill="#008e8b"/>
<rect x="163.48" y="222.18" width="9.64" height="9.78" fill="#009383"/>
<rect x="172.83" y="222.18" width="18.99" height="9.78" fill="#00987b"/>
<rect x="191.52" y="222.18" width="9.64" height="9.78" fill="#009383"/>
<rect x="200.86" y="222.18" width="9.64" height="9.78" fill="#009e73"/>
<rect x="210.21" y="222.18" width="18.99" height="9.78" fill="#1ea76d"/>
<rect x="228.90" y="222.18" width="9.64" height="9.78" fill="#3cb067"/>
<rect x="238.24" y="222.18" width="9.64" height="9.78" fill="#5ab861"/>
<rect x="247.59" y="222.18" width="9.64" height="9.78" fill="#96ca54"/>
<rect x="256.93" y="222.18" width="9.64" height="9.78" fill="#78c15a"/>
<rect x="266.28" y="222.18" width="9.64" height="9.78" fill="#b4d24e"/>
<rect x="275.62" y="222.18" width="9.64" height="9.78" fill="#96ca54"/>
<rect x="284.97" y="222.18" width="9.64" height="9.78" fill="#78c15a"/>
<rect x="294.31" y="222.18" width="9.64" height="9.78" fill="#96ca54"/>
<rect x="303.66" y="222.18" width="9.64" height="9.78" fill="#b4d24e"/>
<rect x="313.00" y="222.18" width="9.64" height="9.78" fill="#78c15a"/>
<rect x="322.35" y="222.18" width="28.33" height="9.78" fill="#3cb067"/>
<rect x="350.38" y="222.18" width="9.64" height="9.78" fill="#1ea76d"/>
<rect x="359.73" y="222.18" width="9.64" height="9.78" fill="#3cb067"/>
<rect x="369.07" y="222.18" width="9.64" height="9.78" fill="#96ca54"/>
<rect x="378.42" y="222.18" width="9.64" height="9.78" fill="#efdb3a"/>
<rect x="387.76" y="222.18" width="9.64" height="9.78" fill="#eab919"/>
<rect x="397.11" y="222.18" width="9.64" height="9.78" fill="#efdb3a"/>
<rect x="406.45" y="222.18" width="9.64" height="9.78" fill="#96ca54"/>
<rect x="415.80" y="222.18" width="9.64" height="9.78" fill="#3cb067"/>
<rect x="425.14" y="222.18" width="9.64" height="9.78" fill="#008e8b"/>
<rect x="434.49" y="222.18" width="9.64" height="9.78" fill="#3cb067"/>
<rect x="443.83" y="222.18" width="28.33" height="9.78" fill="#78c15a"/>
<rect x="471.87" y="222.18" width="9.64" height="9.78" fill="#1ea76d"/>
<rect x="481.21" y="222.18" width="9.64" height="9.78" fill="#008892"/>
<rect x="490.56" y="222.18" width="9.64" height="9.78" fill="#00987b"/>
<rect x="42.00" y="231.66" width="18.99" height="9.78" fill="#008892"/>
<rect x="60.69" y="231.66" width="18.99" height="9.78" fill="#00829a"/>
<rect x="79.38" y="231.66" width="9.64" height="9.78" fill="#008892"/>
<rect x="88.72" y="231.66" width="9.64" height="9.78" fill="#009383"/>
<rect x="98.07" y="231.66" width="28.33" height="9.78" fill="#009e73"/>
<rect x="126.10" y="231.66" width="18.99" height="9.78" fill="#00987b"/>
<rect x="144.79" y="231.66" width="28.33" height="9.78" fill="#009383"/>
<rect x="172.83" y="231.66" width="28.33" height="9.78" fill="#00987b"/>
<rect x="200.86" y="231.66" width="9.64" height="9.78" fill="#009e73"/>
<rect x="210.21" y="231.66" width="18.99" height="9.78" fill="#1ea76d"/>
<rect x="228.90" y="231.66" width="9.64" height="9.78" fill="#3cb067"/>
<rect x="238.24" y="231.66" width="9.64" height="9.78" fill="#5ab861"/>
<rect x="247.59" y="231.66" width="37.68" height="9.78" fill="#96ca54"/>
<rect x="284.97" y="231.66" width="9.64" height="9.78" fill="#78c15a"/>
<rect x="294.31" y="231.66" width="18.99" height="9.78" fill="#96ca54"/>
<rect x="313.00" y="231.66" width="9.64" height="9.78" fill="#5ab861"/>
<rect x="322.35" y="231.66" width="9.64" height="9.78" fill="#3cb067"/>
<rect x="331.69" y="231.66" width="9.64" height="9.78" fill="#1ea76d"/>
<rect x="341.04" y="231.66" width="9.64" height="9.78" fill="#009e73"/>
<rect x="350.38" y="231.66" width="9.64" height="9.78" fill="#1ea76d"/>
<rect x="359.73" y="231.66" width="9.64" height="9.78" fill="#96ca54"/>
<rect x="369.07" y="231.66" width="9.64" height="9.78" fill="#b4d24e"/>
<rect x="378.42" y="231.66" width="9.64" height="9.78" fill="#eed332"/>
<rect x="387.76" y="231.66" width="18.99" height="9.78" fill="#eab919"/>
<rect x="406.45" y="231.66" width="9.64" height="9.78" fill="#d2db48"/>
<rect x="415.80" y="231.66" width="28.33" height="9.78" fill="#3cb067"/>
<rect x="443.83" y="231.66" width="28.33" height="9.78" fill="#5ab861"/>
<rect x="471.87" y="231.66" width="9.64" height="9.78" fill="#1ea76d"/>
<rect x="481.21" y="231.66" width="9.64" height="9.78" fill="#009e73"/>
<rect x="490.56" y="231.66" width="9.64" height="9.78" fill="#00829a"/>
<rect x="42.00" y="241.14" width="9.64" height="9.78" fill="#00829a"/>
<rect x="51.34" y="241.14" width="18.99" height="9.78" fill="#007da2"/>
<rect x="70.03" y="241.14" width="9.64" height="9.78" fill="#00829a"/>
<rect x="79.38" y="241.14" width="9.64" height="9.78" fill="#008892"/>
<rect x="88.72" y="241.14" width="9.64" height="9.78" fill="#009383"/>
<rect x="98.07" y="241.14" width="9.64" height="9.78" fill="#00987b"/>
<rect x="107.41" y="241.14" width="28.33" height="9.78" fill="#009e73"/>
<rect x="135.45" y="241.14" width="28.33" height="9.78" fill="#00987b"/>
<rect x="163.48" y="241.14" width="9.64" height="9.78" fill="#009383"/>
<rect x="172.83" y="241.14" width="9.64" height="9.78" fill="#00987b"/>
<rect x="182.17" y="241.14" width="37.68" height="9.78" fill="#009e73"/>
<rect x="219.55" y="241.14" width="9.64" height="9.78" fill="#1ea76d"/>
<rect x="228.90" y="241.14" width="9.64" height="9.78" fill="#3cb067"/>
<rect x="238.24" y="241.14" width="9.64" height="9.78" fill="#78c15a"/>
<rect x="247.59" y="241.14" width="37.68" height="9.78" fill="#d2db48"/>
<rect x="284.97" y="241.14" width="37.68" height="9.78" fill="#b4d24e"/>
<rect x="322.35" y="241.14" width="18.99" height="9.78" fill="#78c15a"/>
<rect x="341.04" y="241.14" width="18.99" height="9.78" fill="#5ab861"/>
<rect x="359.73" y="241.14" width="18.99" height="9.78" fill="#96ca54"/>
<rect x="378.42" y="241.14" width="18.99" height="9.78" fill="#b4d24e"/>
<rect x="397.11" y="241.14" width="9.64" height="9.78" fill="#efdb3a"/>
<rect x="406.45" y="241.14" width="9.64" height="9.78" fill="#78c15a"/>
<rect x="415.80" y="241.14" width="9.64" height="9.78" fill="#009e73"/>
<rect x="425.14" y="241.14" width="9.64" height="9.78" fill="#3cb067"/>
<rect x="434.49" y="241.14" width="9.64" height="9.78" fill="#b4d24e"/>
<rect x="443.83" y="241.14" width="9.64" height="9.78" fill="#78c15a"/>
<rect x="453.18" y="241.14" width="9.64" height="9.78" fill="#3cb067"/>
<rect x="462.52" y="241.14" width="9.64" height="9.78" fill="#009e73"/>
<rect x="471.87" y="241.14" width="9.64" height="9.78" fill="#009383"/>
<rect x="481.21" y="241.14" width="18.99" height="9.78" fill="#009e73"/>
<rect x="42.00" y="250.63" width="9.64" height="9.78" fill="#00829a"/>
<rect x="51.34" y="250.63" width="18.99" height="9.78" fill="#007da2"/>
<rect x="70.03" y="250.63" width="9.64" height="9.78" fill="#00829a"/>
<rect x="79.38" y="250.63" width="9.64" height="9.78" fill="#008892"/>
<rect x="88.72" y="250.63" width="9.64" height="9.78" fill="#00987b"/>
<rect x="98.07" y="250.63" width="56.37" height="9.78" fill="#009e73"/>
<rect x="154.14" y="250.63" width="9.64" height="9.78" fill="#00987b"/>
<rect x="163.48" y="250.63" width="9.64" height="9.78" fill="#009383"/>
<rect x="172.83" y="250.63" width="9.64" height="9.78" fill="#00987b"/>
<rect x="182.17" y="250.63" width="47.02" height="9.78" fill="#1ea76d"/>
<rect x="228.90" y="250.63" width="9.64" height="9.78" fill="#3cb067"/>
<rect x="238.24" y="250.63" width="9.64" height="9.78" fill="#78c15a"/>
<rect x="247.59" y="250.63" width="9.64" height="9.78" fill="#d2db48"/>
<rect x="256.93" y="250.63" width="9.64" height="9.78" fill="#efdb3a"/>
<rect x="266.28" y="250.63" width="9.64" height="9.78" fill="#ebc221"/>
<rect x="275.62" y="250.63" width="9.64" height="9.78" fill="#ecca29"/>
<rect x="284.97" y="250.63" width="37.68" height="9.78" fill="#d2db48"/>
<rect x="322.35" y="250.63" width="37.68" height="9.78" fill="#b4d24e"/>
<rect x="359.73" y="250.63" width="9.64" height="9.78" fill="#78c15a"/>
<rect x="369.07" y="250.63" width="9.64" height="9.78" fill="#3cb067"/>
<rect x="378.42" y="250.63" width="9.64" height="9.78" fill="#008e8b"/>
<rect x="387.76" y="250.63" width="9.64" height="9.78" fill="#00987b"/>
<rect x="397.11" y="250.63" width="9.64" height="9.78" fill="#1ea76d"/>
<rect x="406.45" y="250.63" width="28.33" height="9.78" fill="#3cb067"/>
<rect x="434.49" y="250.63" width="9.64" height="9.78" fill="#96ca54"/>
<rect x="443.83" y="250.63" width="28.33" height="9.78" fill="#1ea76d"/>
<rect x="471.87" y="250.63" width="9.64" height="9.78" fill="#00987b"/>
<rect x="481.21" y="250.63" width="9.64" height="9.78" fill="#1ea76d"/>
<rect x="490.56" y="250.63" width="9.64" height="9.78" fill="#78c15a"/>
<rect x="42.00" y="260.11" width="18.99" height="9.78" fill="#0078aa"/>
<rect x="60.69" y="260.11" width="9.64" height="9.78" fill="#00829a"/>
<rect x="70.03" y="260.11" width="18.99" height="9.78" fill="#008892"/>
<rect x="88.72" y="260.11" width="9.64" height="9.78" fill="#009383"/>
<rect x="98.07" y="260.11" width="9.64" height="9.78" fill="#00987b"/>
<rect x="107.41" y="260.11" width="28.33" height="9.78" fill="#009e73"/>
<rect x="135.45" y="260.11" width="18.99" height="9.78" fill="#1ea76d"/>
<rect x="154.14" y="260.11" width="28.33" height="9.78" fill="#00987b"/>
<rect x="182.17" y="260.11" width="9.64" height="9.78" fill="#1ea76d"/>
<rect x="191.52" y="260.11" width="18.99" height="9.78" fill="#3cb067"/>
<rect x="210.21" y="260.11" width="18.99" height="9.78" fill="#1ea76d"/>
<rect x="228.90" y="260.11" width="9.64" height="9.78" fill="#3cb067"/>
<rect x="238.24" y="260.11" width="9.64" height="9.78" fill="#78c15a"/>
<rect x="247.59" y="260.11" width="9.64" height="9.78" fill="#b4d24e"/>
<rect x="256.93" y="260.11" width="9.64" height="9.78" fill="#ecca29"/>
<rect x="266.28" y="260.11" width="9.64" height="9.78" fill="#e8b010"/>
<rect x="275.62" y="260.11" width="9.64" height="9.78" fill="#eab919"/>
<rect x="284.97" y="260.11" width="9.64" height="9.78" fill="#f0e442"/>
<rect x="294.31" y="260.11" width="9.64" height="9.78" fill="#b4d24e"/>
<rect x="303.66" y="260.11" width="9.64" height="9.78" fill="#f0e442"/>
<rect x="313.00" y="260.11" width="9.64" height="9.78" fill="#efdb3a"/>
<rect x="322.35" y="260.11" width="9.64" height="9.78" fill="#d2db48"/>
<rect x="331.69" y="260.11" width="18.99" height="9.78" fill="#b4d24e"/>
<rect x="350.38" y="260.11" width="9.64" height="9.78" fill="#96ca54"/>
<rect x="359.73" y="260.11" width="18.99" height="9.78" fill="#3cb067"/>
<rect x="378.42" y="260.11" width="9.64" height="9.78" fill="#96ca54"/>
<rect x="387.76" y="260.11" width="9.64" height="9.78" fill="#009e73"/>
<rect x="397.11" y="260.11" width="9.64" height="9.78" fill="#008e8b"/>
<rect x="406.45" y="260.11" width="9.64" height="9.78" fill="#009e73"/>
<rect x="415.80" y="260.11" width="28.33" height="9.78" fill="#3cb067"/>
<rect x="443.83" y="260.11" width="28.33" height="9.78" fill="#00987b"/>
<rect x="471.87" y="260.11" width="28.33" height="9.78" fill="#1ea76d"/>
<rect x="42.00" y="269.59" width="18.99" height="9.78" fill="#0078aa"/>
<rect x="60.69" y="269.59" width="9.64" height="9.78" fill="#008892"/>
<rect x="70.03" y="269.59" width="18.99" height="9.78" fill="#008e8b"/>
<rect x="88.72" y="269.59" width="9.64" height="9.78" fill="#009383"/>
<rect x="98.07" y="269.59" width="9.64" height="9.78" fill="#00987b"/>
<rect x="107.41" y="269.59" width="9.64" height="9.78" fill="#1ea76d"/>
<rect x="116.76" y="269.59" width="18.99" height="9.78" fill="#009e73"/>
<rect x="135.45" y="269.59" width="9.64" height="9.78" fill="#1ea76d"/>
<rect x="144.79" y="269.59" width="9.64" height="9.78" fill="#3cb067"/>
<rect x="154.14" y="269.59" width="9.64" height="9.78" fill="#009e73"/>
<rect x="163.48" y="269.59" width="18.99" height="9.78" fill="#00987b"/>
<rect x="182.17" y="269.59" width="9.64" height="9.78" fill="#3cb067"/>
<rect x="191.52" y="269.59" width="18.99" height="9.78" fill="#5ab861"/>
<rect x="210.21" y="269.59" width="18.99" height="9.78" fill="#3cb067"/>
<rect x="228.90" y="269.59" width="18.99" height="9.78" fill="#5ab861"/>
<rect x="247.59" y="269.59" width="9.64" height="9.78" fill="#96ca54"/>
<rect x="256.93" y="269.59" width="9.64" height="9.78" fill="#eed332"/>
<rect x="266.28" y="269.59" width="9.64" height="9.78" fill="#e7a808"/>
<rect x="275.62" y="269.59" width="9.64" height="9.78" fill="#e69f00"/>
<rect x="284.97" y="269.59" width="9.64" height="9.78" fill="#ecca29"/>
<rect x="294.31" y="269.59" width="9.64" height="9.78" fill="#b4d24e"/>
<rect x="303.66" y="269.59" width="9.64" height="9.78" fill="#f0e442"/>
<rect x="313.00" y="269.59" width="28.33" height="9.78" fill="#eed332"/>
<rect x="341.04" y="269.59" width="9.64" height="9.78" fill="#efdb3a"/>
<rect x="350.38" y="269.59" width="9.64" height="9.78" fill="#96ca54"/>
<rect x="359.73" y="269.59" width="37.68" height="9.78" fill="#5ab861"/>
<rect x="397.11" y="269.59" width="9.64" height="9.78" fill="#009e73"/>
<rect x="406.45" y="269.59" width="9.64" height="9.78" fill="#3cb067"/>
<rect x="415.80" y="269.59" width="9.64" height="9.78" fill="#009e73"/>
<rect x="425.14" y="269.59" width="18.99" height="9.78" fill="#1ea76d"/>
<rect x="443.83" y="269.59" width="18.99" height="9.78" fill="#009e73"/>
<rect x="462.52" y="269.59" width="9.64" height="9.78" fill="#00987b"/>
<rect x="471.87" y="269.59" width="9.64" height="9.78" fill="#00829a"/>
<rect x="481.21" y="269.59" width="18.99" height="9.78" fill="#007da2"/>
<rect x="42.00" y="279.08" width="9.64" height="9.78" fill="#007da2"/>
<rect x="51.34" y="279.08" width="9.64" height="9.78" fill="#008892"/>
<rect x="60.69" y="279.08" width="47.02" height="9.78" fill="#009383"/>
<rect x="107.41" y="279.08" width="9.64" height="9.78" fill="#009e73"/>
<rect x="116.76" y="279.08" width="18.99" height="9.78" fill="#00987b"/>
<rect x="135.45" y="279.08" width="9.64" height="9.78" fill="#009e73"/>
<rect x="144.79" y="279.08" width="9.64" height="9.78" fill="#3cb067"/>
<rect x="154.14" y="279.08" width="9.64" height="9.78" fill="#009e73"/>
<rect x="163.48" y="279.08" width="18.99" height="9.78" fill="#00987b"/>
<rect x="182.17" y="279.08" width="9.64" height="9.78" fill="#009e73"/>
<rect x="191.52" y="279.08" width="9.64" height="9.78" fill="#3cb067"/>
<rect x="200.86" y="279.08" width="9.64" height="9.78" fill="#5ab861"/>
<rect x="210.21" y="279.08" width="18.99" height="9.78" fill="#3cb067"/>
<rect x="228.90" y="279.08" width="18.99" height="9.78" fill="#5ab861"/>
<rect x="247.59" y="279.08" width="9.64" height="9.78" fill="#78c15a"/>
<rect x="256.93" y="279.08" width="9.64" height="9.78" fill="#b4d24e"/>
<rect x="266.28" y="279.08" width="9.64" height="9.78" fill="#eab919"/>
<rect x="275.62" y="279.08" width="9.64" height="9.78" fill="#e8b010"/>
<rect x="284.97" y="279.08" width="9.64" height="9.78" fill="#ecca29"/>
<rect x="294.31" y="279.08" width="9.64" height="9.78" fill="#b4d24e"/>
<rect x="303.66" y="279.08" width="9.64" height="9.78" fill="#96ca54"/>
<rect x="313.00" y="279.08" width="9.64" height="9.78" fill="#f0e442"/>
<rect x="322.35" y="279.08" width="9.64" height="9.78" fill="#ebc221"/>
<rect x="331.69" y="279.08" width="9.64" height="9.78" fill="#e8b010"/>
<rect x="341.04" y="279.08" width="9.64" height="9.78" fill="#eed332"/>
<rect x="350.38" y="279.08" width="9.64" height="9.78" fill="#d2db48"/>
<rect x="359.73" y="279.08" width="9.64" height="9.78" fill="#78c15a"/>
<rect x="369.07" y="279.08" width="9.64" height="9.78" fill="#3cb067"/>
<rect x="378.42" y="279.08" width="9.64" height="9.78" fill="#5ab861"/>
<rect x="387.76" y="279.08" width="18.99" height="9.78" fill="#78c15a"/>
<rect x="406.45" y="279.08" width="9.64" height="9.78" fill="#5ab861"/>
<rect x="415.80" y="279.08" width="18.99" height="9.78" fill="#1ea76d"/>
<rect x="434.49" y="279.08" width="9.64" height="9.78" fill="#00987b"/>
<rect x="443.83" y="279.08" width="9.64" height="9.78" fill="#009383"/>
<rect x="453.18" y="279.08" width="9.64" height="9.78" fill="#00829a"/>
<rect x="462.52" y="279.08" width="9.64" height="9.78" fill="#00987b"/>
<rect x="471.87" y="279.08" width="28.33" height="9.78" fill="#009383"/>
<rect x="42.00" y="288.56" width="9.64" height="9.78" fill="#007da2"/>
<rect x="51.34" y="288.56" width="9.64" height="9.78" fill="#008e8b"/>
<rect x="60.69" y="288.56" width="9.64" height="9.78" fill="#009383"/>
<rect x="70.03" y="288.56" width="9.64" height="9.78" fill="#00987b"/>
<rect x="79.38" y="288.56" width="9.64" height="9.78" fill="#009383"/>
<rect x="88.72" y="288.56" width="18.99" height="9.78" fill="#008e8b"/>
<rect x="107.41" y="288.56" width="18.99" height="9.78" fill="#009383"/>
<rect x="126.10" y="288.56" width="9.64" height="9.78" fill="#008e8b"/>
<rect x="135.45" y="288.56" width="9.64" height="9.78" fill="#00987b"/>
<rect x="144.79" y="288.56" width="9.64" height="9.78" fill="#1ea76d"/>
<rect x="154.14" y="288.56" width="9.64" height="9.78" fill="#009e73"/>
<rect x="163.48" y="288.56" width="18.99" height="9.78" fill="#00987b"/>
<rect x="182.17" y="288.56" width="9.64" height="9.78" fill="#009e73"/>
<rect x="191.52" y="288.56" width="18.99" height="9.78" fill="#1ea76d"/>
<rect x="210.21" y="288.56" width="18.99" height="9.78" fill="#3cb067"/>
<rect x="228.90" y="288.56" width="28.33" height="9.78" fill="#5ab861"/>
<rect x="256.93" y="288.56" width="9.64" height="9.78" fill="#96ca54"/>
<rect x="266.28" y="288.56" width="9.64" height="9.78" fill="#b4d24e"/>
<rect x="275.62" y="288.56" width="18.99" height="9.78" fill="#f0e442"/>
<rect x="294.31" y="288.56" width="18.99" height="9.78" fill="#96ca54"/>
<rect x="313.00" y="288.56" width="9.64" height="9.78" fill="#d2db48"/>
<rect x="322.35" y="288.56" width="9.64" height="9.78" fill="#ebc221"/>
<rect x="331.69" y="288.56" width="9.64" height="9.78" fill="#e8b010"/>
<rect x="341.04" y="288.56" width="9.64" height="9.78" fill="#e49700"/>
<rect x="350.38" y="288.56" width="9.64" height="9.78" fill="#eed332"/>
<rect x="359.73" y="288.56" width="9.64" height="9.78" fill="#d2db48"/>
<rect x="369.07" y="288.56" width="9.64" height="9.78" fill="#78c15a"/>
<rect x="378.42" y="288.56" width="9.64" height="9.78" fill="#5ab861"/>
<rect x="387.76" y="288.56" width="9.64" height="9.78" fill="#d2db48"/>
<rect x="397.11" y="288.56" width="9.64" height="9.78" fill="#f0e442"/>
<rect x="406.45" y="288.56" width="18.99" height="9.78" fill="#5ab861"/>
<rect x="425.14" y="288.56" width="9.64" height="9.78" fill="#009383"/>
<rect x="434.49" y="288.56" width="9.64" height="9.78" fill="#78c15a"/>
<rect x="443.83" y="288.56" width="9.64" height="9.78" fill="#b4d24e"/>
<rect x="453.18" y="288.56" width="9.64" height="9.78" fill="#3cb067"/>
<rect x="462.52" y="288.56" width="9.64" height="9.78" fill="#5ab861"/>
<rect x="471.87" y="288.56" width="9.64" height="9.78" fill="#00987b"/>
<rect x="481.21" y="288.56" width="18.99" height="9.78" fill="#008e8b"/>
<rect x="42.00" y="298.04" width="9.64" height="9.78" fill="#00829a"/>
<rect x="51.34" y="298.04" width="9.64" height="9.78" fill="#008e8b"/>
<rect x="60.69" y="298.04" width="18.99" height="9.78" fill="#009383"/>
<rect x="79.38" y="298.04" width="9.64" height="9.78" fill="#008e8b"/>
<rect x="88.72" y="298.04" width="9.64" height="9.78" fill="#008892"/>
<rect x="98.07" y="298.04" width="18.99" height="9.78" fill="#008e8b"/>
<rect x="116.76" y="298.04" width="9.64" height="9.78" fill="#009383"/>
<rect x="126.10" y="298.04" width="18.99" height="9.78" fill="#008e8b"/>
<rect x="144.79" y="298.04" width="9.64" height="9.78" fill="#009383"/>
<rect x="154.14" y="298.04" width="28.33" height="9.78" fill="#00987b"/>
<rect x="182.17" y="298.04" width="18.99" height="9.78" fill="#009e73"/>
<rect x="200.86" y="298.04" width="9.64" height="9.78" fill="#1ea76d"/>
<rect x="210.21" y="298.04" width="9.64" height="9.78" fill="#3cb067"/>
<rect x="219.55" y="298.04" width="47.02" height="9.78" fill="#5ab861"/>
<rect x="266.28" y="298.04" width="37.68" height="9.78" fill="#96ca54"/>
<rect x="303.66" y="298.04" width="9.64" height="9.78" fill="#78c15a"/>
<rect x="313.00" y="298.04" width="9.64" height="9.78" fill="#b4d24e"/>
<rect x="322.35" y="298.04" width="9.64" height="9.78" fill="#efdb3a"/>
<rect x="331.69" y="298.04" width="9.64" height="9.78" fill="#e8b010"/>
<rect x="341.04" y="298.04" width="9.64" height="9.78" fill="#de7e00"/>
<rect x="350.38" y="298.04" width="9.64" height="9.78" fill="#ebc221"/>
<rect x="359.73" y="298.04" width="9.64" height="9.78" fill="#ecca29"/>
<rect x="369.07" y="298.04" width="9.64" height="9.78" fill="#78c15a"/>
<rect x="378.42" y="298.04" width="9.64" height="9.78" fill="#5ab861"/>
<rect x="387.76" y="298.04" width="9.64" height="9.78" fill="#96ca54"/>
<rect x="397.11" y="298.04" width="18.99" height="9.78" fill="#3cb067"/>
<rect x="415.80" y="298.04" width="9.64" height="9.78" fill="#5ab861"/>
<rect x="425.14" y="298.04" width="18.99" height="9.78" fill="#3cb067"/>
<rect x="443.83" y="298.04" width="9.64" height="9.78" fill="#78c15a"/>
<rect x="453.18" y="298.04" width="18.99" height="9.78" fill="#1ea76d"/>
<rect x="471.87" y="298.04" width="9.64" height="9.78" fill="#009383"/>
<rect x="481.21" y="298.04" width="9.64" height="9.78" fill="#008892"/>
<rect x="490.56" y="298.04" width="9.64" height="9.78" fill="#008e8b"/>
<rect x="42.00" y="307.53" width="9.64" height="9.78" fill="#00829a"/>
<rect x="51.34" y="307.53" width="9.64" height="9.78" fill="#008e8b"/>
<rect x="60.69" y="307.53" width="9.64" height="9.78" fill="#009383"/>
<rect x="70.03" y="307.53" width="9.64" height="9.78" fill="#008e8b"/>
<rect x="79.38" y="307.53" width="28.33" height="9.78" fill="#008892"/>
<rect x="107.41" y="307.53" width="18.99" height="9.78" fill="#009383"/>
<rect x="126.10" y="307.53" width="9.64" height="9.78" fill="#008e8b"/>
<rect x="135.45" y="307.53" width="9.64" height="9.78" fill="#008892"/>
<rect x="144.79" y="307.53" width="9.64" height="9.78" fill="#008e8b"/>
<rect x="154.14" y="307.53" width="18.99" height="9.78" fill="#009383"/>
<rect x="172.83" y="307.53" width="9.64" height="9.78" fill="#00987b"/>
<rect x="182.17" y="307.53" width="18.99" height="9.78" fill="#009e73"/>
<rect x="200.86" y="307.53" width="9.64" height="9.78" fill="#1ea76d"/>
<rect x="210.21" y="307.53" width="9.64" height="9.78" fill="#3cb067"/>
<rect x="219.55" y="307.53" width="9.64" height="9.78" fill="#5ab861"/>
<rect x="228.90" y="307.53" width="28.33" height="9.78" fill="#78c15a"/>
<rect x="256.93" y="307.53" width="9.64" height="9.78" fill="#5ab861"/>
<rect x="266.28" y="307.53" width="18.99" height="9.78" fill="#78c15a"/>
<rect x="284.97" y="307.53" width="18.99" height="9.78" fill="#96ca54"/>
<rect x="303.66" y="307.53" width="18.99" height="9.78" fill="#5ab861"/>
<rect x="322.35" y="307.53" width="9.64" height="9.78" fill="#78c15a"/>
<rect x="331.69" y="307.53" width="9.64" height="9.78" fill="#b4d24e"/>
<rect x="341.04" y="307.53" width="9.64" height="9.78" fill="#ecca29"/>
<rect x="350.38" y="307.53" width="18.99" height="9.78" fill="#efdb3a"/>
<rect x="369.07" y="307.53" width="9.64" height="9.78" fill="#78c15a"/>
<rect x="378.42" y="307.53" width="18.99" height="9.78" fill="#3cb067"/>
<rect x="397.11" y="307.53" width="18.99" height="9.78" fill="#1ea76d"/>
<rect x="415.80" y="307.53" width="9.64" height="9.78" fill="#00987b"/>
<rect x="425.14" y="307.53" width="18.99" height="9.78" fill="#009383"/>
<rect x="443.83" y="307.53" width="9.64" height="9.78" fill="#1ea76d"/>
<rect x="453.18" y="307.53" width="9.64" height="9.78" fill="#5ab861"/>
<rect x="462.52" y="307.53" width="9.64" height="9.78" fill="#1ea76d"/>
<rect x="471.87" y="307.53" width="9.64" height="9.78" fill="#009383"/>
<rect x="481.21" y="307.53" width="9.64" height="9.78" fill="#008892"/>
<rect x="490.56" y="307.53" width="9.64" height="9.78" fill="#008e8b"/>
<rect x="42.00" y="317.01" width="37.68" height="9.78" fill="#008892"/>
<rect x="79.38" y="317.01" width="37.68" height="9.78" fill="#008e8b"/>
<rect x="116.76" y="317.01" width="37.68" height="9.78" fill="#008892"/>
<rect x="154.14" y="317.01" width="9.64" height="9.78" fill="#008e8b"/>
<rect x="163.48" y="317.01" width="9.64" height="9.78" fill="#009383"/>
<rect x="172.83" y="317.01" width="18.99" height="9.78" fill="#00987b"/>
<rect x="191.52" y="317.01" width="9.64" height="9.78" fill="#009e73"/>
<rect x="200.86" y="317.01" width="9.64" height="9.78" fill="#1ea76d"/>
<rect x="210.21" y="317.01" width="9.64" height="9.78" fill="#3cb067"/>
<rect x="219.55" y="317.01" width="9.64" height="9.78" fill="#78c15a"/>
<rect x="228.90" y="317.01" width="9.64" height="9.78" fill="#96ca54"/>
<rect x="238.24" y="317.01" width="47.02" height="9.78" fill="#b4d24e"/>
<rect x="284.97" y="317.01" width="18.99" height="9.78" fill="#d2db48"/>
<rect x="303.66" y="317.01" width="9.64" height="9.78" fill="#78c15a"/>
<rect x="313.00" y="317.01" width="9.64" height="9.78" fill="#5ab861"/>
<rect x="322.35" y="317.01" width="9.64" height="9.78" fill="#78c15a"/>
<rect x="331.69" y="317.01" width="9.64" height="9.78" fill="#96ca54"/>
<rect x="341.04" y="317.01" width="18.99" height="9.78" fill="#b4d24e"/>
<rect x="359.73" y="317.01" width="9.64" height="9.78" fill="#96ca54"/>
<rect x="369.07" y="317.01" width="9.64" height="9.78" fill="#78c15a"/>
<rect x="378.42" y="317.01" width="28.33" height="9.78" fill="#3cb067"/>
<rect x="406.45" y="317.01" width="9.64" height="9.78" fill="#5ab861"/>
<rect x="415.80" y="317.01" width="9.64" height="9.78" fill="#3cb067"/>
<rect x="425.14" y="317.01" width="9.64" height="9.78" fill="#009e73"/>
<rect x="434.49" y="317.01" width="9.64" height="9.78" fill="#00987b"/>
<rect x="443.83" y="317.01" width="18.99" height="9.78" fill="#1ea76d"/>
<rect x="462.52" y="317.01" width="9.64" height="9.78" fill="#00987b"/>
<rect x="471.87" y="317.01" width="9.64" height="9.78" fill="#008e8b"/>
<rect x="481.21" y="317.01" width="9.64" height="9.78" fill="#00829a"/>
<rect x="490.56" y="317.01" width="9.64" height="9.78" fill="#008e8b"/>
<rect x="42.00" y="326.49" width="28.33" height="9.78" fill="#008892"/>
<rect x="70.03" y="326.49" width="9.64" height="9.78" fill="#008e8b"/>
<rect x="79.38" y="326.49" width="18.99" height="9.78" fill="#009383"/>
<rect x="98.07" y="326.49" width="18.99" height="9.78" fill="#008e8b"/>
<rect x="116.76" y="326.49" width="9.64" height="9.78" fill="#00829a"/>
<rect x="126.10" y="326.49" width="28.33" height="9.78" fill="#008892"/>
<rect x="154.14" y="326.49" width="18.99" height="9.78" fill="#008e8b"/>
<rect x="172.83" y="326.49" width="18.99" height="9.78" fill="#009383"/>
<rect x="191.52" y="326.49" width="9.64" height="9.78" fill="#1ea76d"/>
<rect x="200.86" y="326.49" width="9.64" height="9.78" fill="#3cb067"/>
<rect x="210.21" y="326.49" width="9.64" height="9.78" fill="#5ab861"/>
<rect x="219.55" y="326.49" width="9.64" height="9.78" fill="#78c15a"/>
<rect x="228.90" y="326.49" width="9.64" height="9.78" fill="#b4d24e"/>
<rect x="238.24" y="326.49" width="18.99" height="9.78" fill="#f0e442"/>
<rect x="256.93" y="326.49" width="18.99" height="9.78" fill="#d2db48"/>
<rect x="275.62" y="326.49" width="9.64" height="9.78" fill="#f0e442"/>
<rect x="284.97" y="326.49" width="9.64" height="9.78" fill="#eed332"/>
<rect x="294.31" y="326.49" width="9.64" height="9.78" fill="#ebc221"/>
<rect x="303.66" y="326.49" width="9.64" height="9.78" fill="#78c15a"/>
<rect x="313.00" y="326.49" width="9.64" height="9.78" fill="#5ab861"/>
<rect x="322.35" y="326.49" width="9.64" height="9.78" fill="#78c15a"/>
<rect x="331.69" y="326.49" width="9.64" height="9.78" fill="#96ca54"/>
<rect x="341.04" y="326.49" width="9.64" height="9.78" fill="#d2db48"/>
<rect x="350.38" y="326.49" width="9.64" height="9.78" fill="#96ca54"/>
<rect x="359.73" y="326.49" width="28.33" height="9.78" fill="#78c15a"/>
<rect x="387.76" y="326.49" width="9.64" height="9.78" fill="#f0e442"/>
<rect x="397.11" y="326.49" width="9.64" height="9.78" fill="#b4d24e"/>
<rect x="406.45" y="326.49" width="9.64" height="9.78" fill="#009e73"/>
<rect x="415.80" y="326.49" width="9.64" height="9.78" fill="#3cb067"/>
<rect x="425.14" y="326.49" width="9.64" height="9.78" fill="#1ea76d"/>
<rect x="434.49" y="326.49" width="18.99" height="9.78" fill="#009e73"/>
<rect x="453.18" y="326.49" width="18.99" height="9.78" fill="#009383"/>
<rect x="471.87" y="326.49" width="9.64" height="9.78" fill="#008892"/>
<rect x="481.21" y="326.49" width="9.64" height="9.78" fill="#008e8b"/>
<rect x="490.56" y="326.49" width="9.64" height="9.78" fill="#009383"/>
<rect x="42.00" y="335.97" width="18.99" height="9.78" fill="#008892"/>
<rect x="60.69" y="335.97" width="9.64" height="9.78" fill="#008e8b"/>
<rect x="70.03" y="335.97" width="9.64" height="9.78" fill="#00987b"/>
<rect x="79.38" y="335.97" width="9.64" height="9.78" fill="#009e73"/>
<rect x="88.72" y="335.97" width="9.64" height="9.78" fill="#00987b"/>
<rect x="98.07" y="335.97" width="47.02" height="9.78" fill="#008892"/>
<rect x="144.79" y="335.97" width="47.02" height="9.78" fill="#008e8b"/>
<rect x="191.52" y="335.97" width="9.64" height="9.78" fill="#1ea76d"/>
<rect x="200.86" y="335.97" width="9.64" height="9.78" fill="#3cb067"/>
<rect x="210.21" y="335.97" width="9.64" height="9.78" fill="#5ab861"/>
<rect x="219.55" y="335.97" width="9.64" height="9.78" fill="#96ca54"/>
<rect x="228.90" y="335.97" width="9.64" height="9.78" fill="#b4d24e"/>
<rect x="238.24" y="335.97" width="9.64" height="9.78" fill="#efdb3a"/>
<rect x="247.59" y="335.97" width="9.64" height="9.78" fill="#eed332"/>
<rect x="256.93" y="335.97" width="9.64" height="9.78" fill="#efdb3a"/>
<rect x="266.28" y="335.97" width="9.64" height="9.78" fill="#b4d24e"/>
<rect x="275.62" y="335.97" width="9.64" height="9.78" fill="#d2db48"/>
<rect x="284.97" y="335.97" width="18.99" height="9.78" fill="#efdb3a"/>
<rect x="303.66" y="335.97" width="18.99" height="9.78" fill="#96ca54"/>
<rect x="322.35" y="335.97" width="18.99" height="9.78" fill="#3cb067"/>
<rect x="341.04" y="335.97" width="9.64" height="9.78" fill="#009e73"/>
<rect x="350.38" y="335.97" width="9.64" height="9.78" fill="#78c15a"/>
<rect x="359.73" y="335.97" width="9.64" height="9.78" fill="#96ca54"/>
<rect x="369.07" y="335.97" width="9.64" height="9.78" fill="#b4d24e"/>
<rect x="378.42" y="335.97" width="9.64" height="9.78" fill="#78c15a"/>
<rect x="387.76" y="335.97" width="9.64" height="9.78" fill="#d2db48"/>
<rect x="397.11" y="335.97" width="9.64" height="9.78" fill="#f0e442"/>
<rect x="406.45" y="335.97" width="28.33" height="9.78" fill="#1ea76d"/>
<rect x="434.49" y="335.97" width="9.64" height="9.78" fill="#009e73"/>
<rect x="443.83" y="335.97" width="9.64" height="9.78" fill="#00987b"/>
<rect x="453.18" y="335.97" width="9.64" height="9.78" fill="#009383"/>
<rect x="462.52" y="335.97" width="18.99" height="9.78" fill="#008892"/>
<rect x="481.21" y="335.97" width="9.64" height="9.78" fill="#00987b"/>
<rect x="490.56" y="335.97" width="9.64" height="9.78" fill="#5ab861"/>
<rect x="42.00" y="345.46" width="9.64" height="9.78" fill="#008e8b"/>
<rect x="51.34" y="345.46" width="9.64" height="9.78" fill="#008892"/>
<rect x="60.69" y="345.46" width="9.64" height="9.78" fill="#009383"/>
<rect x="70.03" y="345.46" width="9.64" height="9.78" fill="#3cb067"/>
<rect x="79.38" y="345.46" width="9.64" height="9.78" fill="#1ea76d"/>
<rect x="88.72" y="345.46" width="9.64" height="9.78" fill="#00987b"/>
<rect x="98.07" y="345.46" width="18.99" height="9.78" fill="#008892"/>
<rect x="116.76" y="345.46" width="9.64" height="9.78" fill="#00829a"/>
<rect x="126.10" y="345.46" width="9.64" height="9.78" fill="#008892"/>
<rect x="135.45" y="345.46" width="9.64" height="9.78" fill="#008e8b"/>
<rect x="144.79" y="345.46" width="28.33" height="9.78" fill="#009383"/>
<rect x="172.83" y="345.46" width="9.64" height="9.78" fill="#008e8b"/>
<rect x="182.17" y="345.46" width="9.64" height="9.78" fill="#009383"/>
<rect x="191.52" y="345.46" width="9.64" height="9.78" fill="#009e73"/>
<rect x="200.86" y="345.46" width="9.64" height="9.78" fill="#3cb067"/>
<rect x="210.21" y="345.46" width="9.64" height="9.78" fill="#78c15a"/>
<rect x="219.55" y="345.46" width="9.64" height="9.78" fill="#96ca54"/>
<rect x="228.90" y="345.46" width="9.64" height="9.78" fill="#b4d24e"/>
<rect x="238.24" y="345.46" width="9.64" height="9.78" fill="#f0e442"/>
<rect x="247.59" y="345.46" width="9.64" height="9.78" fill="#eed332"/>
<rect x="256.93" y="345.46" width="9.64" height="9.78" fill="#efdb3a"/>
<rect x="266.28" y="345.46" width="9.64" height="9.78" fill="#b4d24e"/>
<rect x="275.62" y="345.46" width="9.64" height="9.78" fill="#96ca54"/>
<rect x="284.97" y="345.46" width="9.64" height="9.78" fill="#b4d24e"/>
<rect x="294.31" y="345.46" width="9.64" height="9.78" fill="#d2db48"/>
<rect x="303.66" y="345.46" width="18.99" height="9.78" fill="#96ca54"/>
<rect x="322.35" y="345.46" width="9.64" height="9.78" fill="#b4d24e"/>
<rect x="331.69" y="345.46" width="9.64" height="9.78" fill="#96ca54"/>
<rect x="341.04" y="345.46" width="9.64" height="9.78" fill="#009383"/>
<rect x="350.38" y="345.46" width="9.64" height="9.78" fill="#009e73"/>
<rect x="359.73" y="345.46" width="9.64" height="9.78" fill="#5ab861"/>
<rect x="369.07" y="345.46" width="9.64" height="9.78" fill="#96ca54"/>
<rect x="378.42" y="345.46" width="18.99" height="9.78" fill="#78c15a"/>
<rect x="397.11" y="345.46" width="9.64" height="9.78" fill="#f0e442"/>
<rect x="406.45" y="345.46" width="9.64" height="9.78" fill="#5ab861"/>
<rect x="415.80" y="345.46" width="9.64" height="9.78" fill="#d2db48"/>
<rect x="425.14" y="345.46" width="9.64" height="9.78" fill="#ecca29"/>
<rect x="434.49" y="345.46" width="9.64" height="9.78" fill="#1ea76d"/>
<rect x="443.83" y="345.46" width="9.64" height="9.78" fill="#5ab861"/>
<rect x="453.18" y="345.46" width="9.64" height="9.78" fill="#1ea76d"/>
<rect x="462.52" y="345.46" width="9.64" height="9.78" fill="#00987b"/>
<rect x="471.87" y="345.46" width="9.64" height="9.78" fill="#78c15a"/>
<rect x="481.21" y="345.46" width="9.64" height="9.78" fill="#f0e442"/>
<rect x="490.56" y="345.46" width="9.64" height="9.78" fill="#b4d24e"/>
<rect x="42.00" y="354.94" width="18.99" height="9.78" fill="#009383"/>
<rect x="60.69" y="354.94" width="9.64" height="9.78" fill="#009e73"/>
<rect x="70.03" y="354.94" width="9.64" height="9.78" fill="#5ab861"/>
<rect x="79.38" y="354.94" width="9.64" height="9.78" fill="#3cb067"/>
<rect x="88.72" y="354.94" width="9.64" height="9.78" fill="#00987b"/>
<rect x="98.07" y="354.94" width="9.64" height="9.78" fill="#008892"/>
<rect x="107.41" y="354.94" width="9.64" height="9.78" fill="#00829a"/>
<rect x="116.76" y="354.94" width="18.99" height="9.78" fill="#008892"/>
<rect x="135.45" y="354.94" width="9.64" height="9.78" fill="#008e8b"/>
<rect x="144.79" y="354.94" width="9.64" height="9.78" fill="#009383"/>
<rect x="154.14" y="354.94" width="9.64" height="9.78" fill="#00987b"/>
<rect x="163.48" y="354.94" width="18.99" height="9.78" fill="#009383"/>
<rect x="182.17" y="354.94" width="9.64" height="9.78" fill="#008e8b"/>
<rect x="191.52" y="354.94" width="9.64" height="9.78" fill="#009383"/>
<rect x="200.86" y="354.94" width="9.64" height="9.78" fill="#1ea76d"/>
<rect x="210.21" y="354.94" width="9.64" height="9.78" fill="#96ca54"/>
<rect x="219.55" y="354.94" width="9.64" height="9.78" fill="#b4d24e"/>
<rect x="228.90" y="354.94" width="9.64" height="9.78" fill="#d2db48"/>
<rect x="238.24" y="354.94" width="28.33" height="9.78" fill="#f0e442"/>
<rect x="266.28" y="354.94" width="9.64" height="9.78" fill="#96ca54"/>
<rect x="275.62" y="354.94" width="9.64" height="9.78" fill="#3cb067"/>
<rect x="284.97" y="354.94" width="9.64" height="9.78" fill="#5ab861"/>
<rect x="294.31" y="354.94" width="9.64" height="9.78" fill="#78c15a"/>
<rect x="303.66" y="354.94" width="9.64" height="9.78" fill="#f0e442"/>
<rect x="313.00" y="354.94" width="9.64" height="9.78" fill="#d2db48"/>
<rect x="322.35" y="354.94" width="9.64" height="9.78" fill="#efdb3a"/>
<rect x="331.69" y="354.94" width="9.64" height="9.78" fill="#96ca54"/>
<rect x="341.04" y="354.94" width="9.64" height="9.78" fill="#009383"/>
<rect x="350.38" y="354.94" width="9.64" height="9.78" fill="#009e73"/>
<rect x="359.73" y="354.94" width="9.64" height="9.78" fill="#b4d24e"/>
<rect x="369.07" y="354.94" width="9.64" height="9.78" fill="#e69f00"/>
<rect x="378.42" y="354.94" width="9.64" height="9.78" fill="#ebc221"/>
<rect x="387.76" y="354.94" width="9.64" height="9.78" fill="#efdb3a"/>
<rect x="397.11" y="354.94" width="9.64" height="9.78" fill="#d2db48"/>
<rect x="406.45" y="354.94" width="9.64" height="9.78" fill="#b4d24e"/>
<rect x="415.80" y="354.94" width="9.64" height="9.78" fill="#5ab861"/>
<rect x="425.14" y="354.94" width="9.64" height="9.78" fill="#efdb3a"/>
<rect x="434.49" y="354.94" width="18.99" height="9.78" fill="#eab919"/>
<rect x="453.18" y="354.94" width="9.64" height="9.78" fill="#ebc221"/>
<rect x="462.52" y="354.94" width="9.64" height="9.78" fill="#eab919"/>
<rect x="471.87" y="354.94" width="9.64" height="9.78" fill="#ecca29"/>
<rect x="481.21" y="354.94" width="9.64" height="9.78" fill="#e7a808"/>
<rect x="490.56" y="354.94" width="9.64" height="9.78" fill="#eab919"/>
<rect x="42.00" y="364.42" width="9.64" height="9.78" fill="#00987b"/>
<rect x="51.34" y="364.42" width="9.64" height="9.78" fill="#009e73"/>
<rect x="60.69" y="364.42" width="18.99" height="9.78" fill="#5ab861"/>
<rect x="79.38" y="364.42" width="9.64" height="9.78" fill="#3cb067"/>
<rect x="88.72" y="364.42" width="9.64" height="9.78" fill="#00987b"/>
<rect x="98.07" y="364.42" width="9.64" height="9.78" fill="#008892"/>
<rect x="107.41" y="364.42" width="9.64" height="9.78" fill="#00829a"/>
<rect x="116.76" y="364.42" width="9.64" height="9.78" fill="#008892"/>
<rect x="126.10" y="364.42" width="9.64" height="9.78" fill="#00829a"/>
<rect x="135.45" y="364.42" width="9.64" height="9.78" fill="#008892"/>
<rect x="144.79" y="364.42" width="37.68" height="9.78" fill="#00987b"/>
<rect x="182.17" y="364.42" width="9.64" height="9.78" fill="#008e8b"/>
<rect x="191.52" y="364.42" width="9.64" height="9.78" fill="#009383"/>
<rect x="200.86" y="364.42" width="9.64" height="9.78" fill="#00987b"/>
<rect x="210.21" y="364.42" width="9.64" height="9.78" fill="#3cb067"/>
<rect x="219.55" y="364.42" width="9.64" height="9.78" fill="#d2db48"/>
<rect x="228.90" y="364.42" width="9.64" height="9.78" fill="#f0e442"/>
<rect x="238.24" y="364.42" width="9.64" height="9.78" fill="#d2db48"/>
<rect x="247.59" y="364.42" width="9.64" height="9.78" fill="#b4d24e"/>
<rect x="256.93" y="364.42" width="9.64" height="9.78" fill="#5ab861"/>
<rect x="266.28" y="364.42" width="9.64" height="9.78" fill="#3cb067"/>
<rect x="275.62" y="364.42" width="9.64" height="9.78" fill="#5ab861"/>
<rect x="284.97" y="364.42" width="9.64" height="9.78" fill="#96ca54"/>
<rect x="294.31" y="364.42" width="9.64" height="9.78" fill="#b4d24e"/>
<rect x="303.66" y="364.42" width="9.64" height="9.78" fill="#ecca29"/>
<rect x="313.00" y="364.42" width="9.64" height="9.78" fill="#eab919"/>
<rect x="322.35" y="364.42" width="9.64" height="9.78" fill="#e8b010"/>
<rect x="331.69" y="364.42" width="9.64" height="9.78" fill="#eed332"/>
<rect x="341.04" y="364.42" width="9.64" height="9.78" fill="#b4d24e"/>
<rect x="350.38" y="364.42" width="9.64" height="9.78" fill="#e8b010"/>
<rect x="359.73" y="364.42" width="9.64" height="9.78" fill="#f0e442"/>
<rect x="369.07" y="364.42" width="9.64" height="9.78" fill="#ecca29"/>
<rect x="378.42" y="364.42" width="9.64" height="9.78" fill="#efdb3a"/>
<rect x="387.76" y="364.42" width="9.64" height="9.78" fill="#5ab861"/>
<rect x="397.11" y="364.42" width="9.64" height="9.78" fill="#b4d24e"/>
<rect x="406.45" y="364.42" width="9.64" height="9.78" fill="#f0e442"/>
<rect x="415.80" y="364.42" width="18.99" height="9.78" fill="#efdb3a"/>
<rect x="434.49" y="364.42" width="28.33" height="9.78" fill="#eab919"/>
<rect x="462.52" y="364.42" width="9.64" height="9.78" fill="#eed332"/>
<rect x="471.87" y="364.42" width="9.64" height="9.78" fill="#ebc221"/>
<rect x="481.21" y="364.42" width="9.64" height="9.78" fill="#e7a808"/>
<rect x="490.56" y="364.42" width="9.64" height="9.78" fill="#e8b010"/>
<rect x="42.00" y="373.91" width="9.64" height="9.78" fill="#009e73"/>
<rect x="51.34" y="373.91" width="9.64" height="9.78" fill="#5ab861"/>
<rect x="60.69" y="373.91" width="9.64" height="9.78" fill="#96ca54"/>
<rect x="70.03" y="373.91" width="9.64" height="9.78" fill="#5ab861"/>
<rect x="79.38" y="373.91" width="9.64" height="9.78" fill="#1ea76d"/>
<rect x="88.72" y="373.91" width="9.64" height="9.78" fill="#009e73"/>
<rect x="98.07" y="373.91" width="9.64" height="9.78" fill="#008e8b"/>
<rect x="107.41" y="373.91" width="37.68" height="9.78" fill="#008892"/>
<rect x="144.79" y="373.91" width="9.64" height="9.78" fill="#008e8b"/>
<rect x="154.14" y="373.91" width="9.64" height="9.78" fill="#009383"/>
<rect x="163.48" y="373.91" width="9.64" height="9.78" fill="#009e73"/>
<rect x="172.83" y="373.91" width="9.64" height="9.78" fill="#009383"/>
<rect x="182.17" y="373.91" width="18.99" height="9.78" fill="#008e8b"/>
<rect x="200.86" y="373.91" width="9.64" height="9.78" fill="#009383"/>
<rect x="210.21" y="373.91" width="9.64" height="9.78" fill="#1ea76d"/>
<rect x="219.55" y="373.91" width="9.64" height="9.78" fill="#96ca54"/>
<rect x="228.90" y="373.91" width="9.64" height="9.78" fill="#d2db48"/>
<rect x="238.24" y="373.91" width="9.64" height="9.78" fill="#f0e442"/>
<rect x="247.59" y="373.91" width="9.64" height="9.78" fill="#96ca54"/>
<rect x="256.93" y="373.91" width="9.64" height="9.78" fill="#3cb067"/>
<rect x="266.28" y="373.91" width="18.99" height="9.78" fill="#1ea76d"/>
<rect x="284.97" y="373.91" width="9.64" height="9.78" fill="#78c15a"/>
<rect x="294.31" y="373.91" width="9.64" height="9.78" fill="#d2db48"/>
<rect x="303.66" y="373.91" width="9.64" height="9.78" fill="#ecca29"/>
<rect x="313.00" y="373.91" width="9.64" height="9.78" fill="#e8b010"/>
<rect x="322.35" y="373.91" width="9.64" height="9.78" fill="#eab919"/>
<rect x="331.69" y="373.91" width="9.64" height="9.78" fill="#ecca29"/>
<rect x="341.04" y="373.91" width="9.64" height="9.78" fill="#d2db48"/>
<rect x="350.38" y="373.91" width="9.64" height="9.78" fill="#efdb3a"/>
<rect x="359.73" y="373.91" width="9.64" height="9.78" fill="#d2db48"/>
<rect x="369.07" y="373.91" width="9.64" height="9.78" fill="#efdb3a"/>
<rect x="378.42" y="373.91" width="9.64" height="9.78" fill="#d2db48"/>
<rect x="387.76" y="373.91" width="9.64" height="9.78" fill="#96ca54"/>
<rect x="397.11" y="373.91" width="9.64" height="9.78" fill="#f0e442"/>
<rect x="406.45" y="373.91" width="9.64" height="9.78" fill="#e69f00"/>
<rect x="415.80" y="373.91" width="9.64" height="9.78" fill="#e49700"/>
<rect x="425.14" y="373.91" width="18.99" height="9.78" fill="#ebc221"/>
<rect x="443.83" y="373.91" width="9.64" height="9.78" fill="#e8b010"/>
<rect x="453.18" y="373.91" width="9.64" height="9.78" fill="#eab919"/>
<rect x="462.52" y="373.91" width="9.64" height="9.78" fill="#eed332"/>
<rect x="471.87" y="373.91" width="18.99" height="9.78" fill="#eab919"/>
<rect x="490.56" y="373.91" width="9.64" height="9.78" fill="#ebc221"/>
<rect x="42.00" y="383.39" width="9.64" height="9.78" fill="#1ea76d"/>
<rect x="51.34" y="383.39" width="9.64" height="9.78" fill="#96ca54"/>
<rect x="60.69" y="383.39" width="9.64" height="9.78" fill="#78c15a"/>
<rect x="70.03" y="383.39" width="9.64" height="9.78" fill="#3cb067"/>
<rect x="79.38" y="383.39" width="9.64" height="9.78" fill="#1ea76d"/>
<rect x="88.72" y="383.39" width="9.64" height="9.78" fill="#009e73"/>
<rect x="98.07" y="383.39" width="9.64" height="9.78" fill="#009383"/>
<rect x="107.41" y="383.39" width="47.02" height="9.78" fill="#008e8b"/>
<rect x="154.14" y="383.39" width="9.64" height="9.78" fill="#009383"/>
<rect x="163.48" y="383.39" width="18.99" height="9.78" fill="#00987b"/>
<rect x="182.17" y="383.39" width="9.64" height="9.78" fill="#009e73"/>
<rect x="191.52" y="383.39" width="9.64" height="9.78" fill="#008892"/>
<rect x="200.86" y="383.39" width="9.64" height="9.78" fill="#008e8b"/>
<rect x="210.21" y="383.39" width="9.64" height="9.78" fill="#00987b"/>
<rect x="219.55" y="383.39" width="9.64" height="9.78" fill="#1ea76d"/>
<rect x="228.90" y="383.39" width="28.33" height="9.78" fill="#5ab861"/>
<rect x="256.93" y="383.39" width="9.64" height="9.78" fill="#1ea76d"/>
<rect x="266.28" y="383.39" width="28.33" height="9.78" fill="#009e73"/>
<rect x="294.31" y="383.39" width="9.64" height="9.78" fill="#1ea76d"/>
<rect x="303.66" y="383.39" width="9.64" height="9.78" fill="#78c15a"/>
<rect x="313.00" y="383.39" width="9.64" height="9.78" fill="#f0e442"/>
<rect x="322.35" y="383.39" width="28.33" height="9.78" fill="#efdb3a"/>
<rect x="350.38" y="383.39" width="18.99" height="9.78" fill="#d2db48"/>
<rect x="369.07" y="383.39" width="9.64" height="9.78" fill="#efdb3a"/>
<rect x="378.42" y="383.39" width="18.99" height="9.78" fill="#d2db48"/>
<rect x="397.11" y="383.39" width="9.64" height="9.78" fill="#ecca29"/>
<rect x="406.45" y="383.39" width="9.64" height="9.78" fill="#ebc221"/>
<rect x="415.80" y="383.39" width="28.33" height="9.78" fill="#eab919"/>
<rect x="443.83" y="383.39" width="9.64" height="9.78" fill="#e69f00"/>
<rect x="453.18" y="383.39" width="9.64" height="9.78" fill="#e8b010"/>
<rect x="462.52" y="383.39" width="9.64" height="9.78" fill="#eab919"/>
<rect x="471.87" y="383.39" width="9.64" height="9.78" fill="#e8b010"/>
<rect x="481.21" y="383.39" width="9.64" height="9.78" fill="#eab919"/>
<rect x="490.56" y="383.39" width="9.64" height="9.78" fill="#ecca29"/>
<rect x="42.00" y="392.87" width="9.64" height="9.78" fill="#009e73"/>
<rect x="51.34" y="392.87" width="9.64" height="9.78" fill="#3cb067"/>
<rect x="60.69" y="392.87" width="9.64" height="9.78" fill="#009e73"/>
<rect x="70.03" y="392.87" width="18.99" height="9.78" fill="#1ea76d"/>
<rect x="88.72" y="392.87" width="9.64" height="9.78" fill="#009e73"/>
<rect x="98.07" y="392.87" width="9.64" height="9.78" fill="#009383"/>
<rect x="107.41" y="392.87" width="37.68" height="9.78" fill="#008e8b"/>
<rect x="144.79" y="392.87" width="18.99" height="9.78" fill="#00829a"/>
<rect x="163.48" y="392.87" width="9.64" height="9.78" fill="#009383"/>
<rect x="172.83" y="392.87" width="9.64" height="9.78" fill="#1ea76d"/>
<rect x="182.17" y="392.87" width="9.64" height="9.78" fill="#009e73"/>
<rect x="191.52" y="392.87" width="9.64" height="9.78" fill="#008e8b"/>
<rect x="200.86" y="392.87" width="18.99" height="9.78" fill="#008892"/>
<rect x="219.55" y="392.87" width="9.64" height="9.78" fill="#008e8b"/>
<rect x="228.90" y="392.87" width="18.99" height="9.78" fill="#00987b"/>
<rect x="247.59" y="392.87" width="18.99" height="9.78" fill="#009383"/>
<rect x="266.28" y="392.87" width="9.64" height="9.78" fill="#008e8b"/>
<rect x="275.62" y="392.87" width="18.99" height="9.78" fill="#00987b"/>
<rect x="294.31" y="392.87" width="9.64" height="9.78" fill="#009e73"/>
<rect x="303.66" y="392.87" width="9.64" height="9.78" fill="#1ea76d"/>
<rect x="313.00" y="392.87" width="9.64" height="9.78" fill="#5ab861"/>
<rect x="322.35" y="392.87" width="18.99" height="9.78" fill="#96ca54"/>
<rect x="341.04" y="392.87" width="37.68" height="9.78" fill="#d2db48"/>
<rect x="378.42" y="392.87" width="9.64" height="9.78" fill="#96ca54"/>
<rect x="387.76" y="392.87" width="9.64" height="9.78" fill="#f0e442"/>
<rect x="397.11" y="392.87" width="9.64" height="9.78" fill="#eed332"/>
<rect x="406.45" y="392.87" width="18.99" height="9.78" fill="#ecca29"/>
<rect x="425.14" y="392.87" width="9.64" height="9.78" fill="#eab919"/>
<rect x="434.49" y="392.87" width="9.64" height="9.78" fill="#e49700"/>
<rect x="443.83" y="392.87" width="9.64" height="9.78" fill="#e28f00"/>
<rect x="453.18" y="392.87" width="9.64" height="9.78" fill="#e49700"/>
<rect x="462.52" y="392.87" width="9.64" height="9.78" fill="#e69f00"/>
<rect x="471.87" y="392.87" width="9.64" height="9.78" fill="#e7a808"/>
<rect x="481.21" y="392.87" width="9.64" height="9.78" fill="#ecca29"/>
<rect x="490.56" y="392.87" width="9.64" height="9.78" fill="#f0e442"/>
<rect x="42.00" y="402.36" width="28.33" height="9.78" fill="#00987b"/>
<rect x="70.03" y="402.36" width="18.99" height="9.78" fill="#1ea76d"/>
<rect x="88.72" y="402.36" width="9.64" height="9.78" fill="#009e73"/>
<rect x="98.07" y="402.36" width="9.64" height="9.78" fill="#00987b"/>
<rect x="107.41" y="402.36" width="18.99" height="9.78" fill="#009383"/>
<rect x="126.10" y="402.36" width="18.99" height="9.78" fill="#008e8b"/>
<rect x="144.79" y="402.36" width="9.64" height="9.78" fill="#008892"/>
<rect x="154.14" y="402.36" width="9.64" height="9.78" fill="#007da2"/>
<rect x="163.48" y="402.36" width="9.64" height="9.78" fill="#008e8b"/>
<rect x="172.83" y="402.36" width="18.99" height="9.78" fill="#1ea76d"/>
<rect x="191.52" y="402.36" width="9.64" height="9.78" fill="#00987b"/>
<rect x="200.86" y="402.36" width="9.64" height="9.78" fill="#008e8b"/>
<rect x="210.21" y="402.36" width="9.64" height="9.78" fill="#007da2"/>
<rect x="219.55" y="402.36" width="9.64" height="9.78" fill="#00829a"/>
<rect x="228.90" y="402.36" width="18.99" height="9.78" fill="#008892"/>
<rect x="247.59" y="402.36" width="9.64" height="9.78" fill="#007da2"/>
<rect x="256.93" y="402.36" width="18.99" height="9.78" fill="#0078aa"/>
<rect x="275.62" y="402.36" width="9.64" height="9.78" fill="#008e8b"/>
<rect x="284.97" y="402.36" width="9.64" height="9.78" fill="#009383"/>
<rect x="294.31" y="402.36" width="9.64" height="9.78" fill="#008e8b"/>
<rect x="303.66" y="402.36" width="9.64" height="9.78" fill="#00987b"/>
<rect x="313.00" y="402.36" width="9.64" height="9.78" fill="#1ea76d"/>
<rect x="322.35" y="402.36" width="9.64" height="9.78" fill="#78c15a"/>
<rect x="331.69" y="402.36" width="18.99" height="9.78" fill="#96ca54"/>
<rect x="350.38" y="402.36" width="9.64" height="9.78" fill="#d2db48"/>
<rect x="359.73" y="402.36" width="28.33" height="9.78" fill="#f0e442"/>
<rect x="387.76" y="402.36" width="9.64" height="9.78" fill="#efdb3a"/>
<rect x="397.11" y="402.36" width="18.99" height="9.78" fill="#ecca29"/>
<rect x="415.80" y="402.36" width="9.64" height="9.78" fill="#ebc221"/>
<rect x="425.14" y="402.36" width="9.64" height="9.78" fill="#e7a808"/>
<rect x="434.49" y="402.36" width="18.99" height="9.78" fill="#e49700"/>
<rect x="453.18" y="402.36" width="9.64" height="9.78" fill="#e28f00"/>
<rect x="462.52" y="402.36" width="9.64" height="9.78" fill="#e69f00"/>
<rect x="471.87" y="402.36" width="9.64" height="9.78" fill="#eab919"/>
<rect x="481.21" y="402.36" width="9.64" height="9.78" fill="#efdb3a"/>
<rect x="490.56" y="402.36" width="9.64" height="9.78" fill="#b4d24e"/>
<rect x="42.00" y="411.84" width="18.99" height="9.78" fill="#009383"/>
<rect x="60.69" y="411.84" width="9.64" height="9.78" fill="#008e8b"/>
<rect x="70.03" y="411.84" width="28.33" height="9.78" fill="#1ea76d"/>
<rect x="98.07" y="411.84" width="9.64" height="9.78" fill="#009e73"/>
<rect x="107.41" y="411.84" width="28.33" height="9.78" fill="#009383"/>
<rect x="135.45" y="411.84" width="9.64" height="9.78" fill="#008e8b"/>
<rect x="144.79" y="411.84" width="9.64" height="9.78" fill="#008892"/>
<rect x="154.14" y="411.84" width="9.64" height="9.78" fill="#007da2"/>
<rect x="163.48" y="411.84" width="9.64" height="9.78" fill="#008892"/>
<rect x="172.83" y="411.84" width="9.64" height="9.78" fill="#009383"/>
<rect x="182.17" y="411.84" width="9.64" height="9.78" fill="#009e73"/>
<rect x="191.52" y="411.84" width="9.64" height="9.78" fill="#00987b"/>
<rect x="200.86" y="411.84" width="9.64" height="9.78" fill="#009383"/>
<rect x="210.21" y="411.84" width="9.64" height="9.78" fill="#008892"/>
<rect x="219.55" y="411.84" width="9.64" height="9.78" fill="#007da2"/>
<rect x="228.90" y="411.84" width="28.33" height="9.78" fill="#0078aa"/>
<rect x="256.93" y="411.84" width="18.99" height="9.78" fill="#0072b2"/>
<rect x="275.62" y="411.84" width="9.64" height="9.78" fill="#007da2"/>
<rect x="284.97" y="411.84" width="9.64" height="9.78" fill="#00829a"/>
<rect x="294.31" y="411.84" width="9.64" height="9.78" fill="#3cb067"/>
<rect x="303.66" y="411.84" width="18.99" height="9.78" fill="#5ab861"/>
<rect x="322.35" y="411.84" width="9.64" height="9.78" fill="#78c15a"/>
<rect x="331.69" y="411.84" width="9.64" height="9.78" fill="#96ca54"/>
<rect x="341.04" y="411.84" width="9.64" height="9.78" fill="#5ab861"/>
<rect x="350.38" y="411.84" width="9.64" height="9.78" fill="#b4d24e"/>
<rect x="359.73" y="411.84" width="9.64" height="9.78" fill="#f0e442"/>
<rect x="369.07" y="411.84" width="18.99" height="9.78" fill="#efdb3a"/>
<rect x="387.76" y="411.84" width="9.64" height="9.78" fill="#ecca29"/>
<rect x="397.11" y="411.84" width="9.64" height="9.78" fill="#ebc221"/>
<rect x="406.45" y="411.84" width="9.64" height="9.78" fill="#eab919"/>
<rect x="415.80" y="411.84" width="9.64" height="9.78" fill="#e8b010"/>
<rect x="425.14" y="411.84" width="37.68" height="9.78" fill="#e69f00"/>
<rect x="462.52" y="411.84" width="9.64" height="9.78" fill="#e7a808"/>
<rect x="471.87" y="411.84" width="9.64" height="9.78" fill="#ebc221"/>
<rect x="481.21" y="411.84" width="9.64" height="9.78" fill="#d2db48"/>
<rect x="490.56" y="411.84" width="9.64" height="9.78" fill="#b4d24e"/>
<rect x="42.00" y="421.32" width="28.33" height="9.78" fill="#00987b"/>
<rect x="70.03" y="421.32" width="9.64" height="9.78" fill="#009e73"/>
<rect x="79.38" y="421.32" width="9.64" height="9.78" fill="#1ea76d"/>
<rect x="88.72" y="421.32" width="9.64" height="9.78" fill="#5ab861"/>
<rect x="98.07" y="421.32" width="9.64" height="9.78" fill="#1ea76d"/>
<rect x="107.41" y="421.32" width="18.99" height="9.78" fill="#00987b"/>
<rect x="126.10" y="421.32" width="9.64" height="9.78" fill="#009383"/>
<rect x="135.45" y="421.32" width="18.99" height="9.78" fill="#008e8b"/>
<rect x="154.14" y="421.32" width="28.33" height="9.78" fill="#008892"/>
<rect x="182.17" y="421.32" width="9.64" height="9.78" fill="#009383"/>
<rect x="191.52" y="421.32" width="18.99" height="9.78" fill="#00987b"/>
<rect x="210.21" y="421.32" width="9.64" height="9.78" fill="#008e8b"/>
<rect x="219.55" y="421.32" width="9.64" height="9.78" fill="#007da2"/>
<rect x="228.90" y="421.32" width="37.68" height="9.78" fill="#0078aa"/>
<rect x="266.28" y="421.32" width="9.64" height="9.78" fill="#0072b2"/>
<rect x="275.62" y="421.32" width="9.64" height="9.78" fill="#0078aa"/>
<rect x="284.97" y="421.32" width="9.64" height="9.78" fill="#009383"/>
<rect x="294.31" y="421.32" width="9.64" height="9.78" fill="#1ea76d"/>
<rect x="303.66" y="421.32" width="9.64" height="9.78" fill="#3cb067"/>
<rect x="313.00" y="421.32" width="18.99" height="9.78" fill="#5ab861"/>
<rect x="331.69" y="421.32" width="18.99" height="9.78" fill="#96ca54"/>
<rect x="350.38" y="421.32" width="9.64" height="9.78" fill="#b4d24e"/>
<rect x="359.73" y="421.32" width="9.64" height="9.78" fill="#d2db48"/>
<rect x="369.07" y="421.32" width="9.64" height="9.78" fill="#efdb3a"/>
<rect x="378.42" y="421.32" width="18.99" height="9.78" fill="#eed332"/>
<rect x="397.11" y="421.32" width="9.64" height="9.78" fill="#ebc221"/>
<rect x="406.45" y="421.32" width="9.64" height="9.78" fill="#eab919"/>
<rect x="415.80" y="421.32" width="9.64" height="9.78" fill="#e7a808"/>
<rect x="425.14" y="421.32" width="37.68" height="9.78" fill="#e69f00"/>
<rect x="462.52" y="421.32" width="9.64" height="9.78" fill="#eab919"/>
<rect x="471.87" y="421.32" width="9.64" height="9.78" fill="#f0e442"/>
<rect x="481.21" y="421.32" width="9.64" height="9.78" fill="#d2db48"/>
<rect x="490.56" y="421.32" width="9.64" height="9.78" fill="#b4d24e"/>
<rect x="42.00" y="430.81" width="18.99" height="9.78" fill="#00987b"/>
<rect x="60.69" y="430.81" width="9.64" height="9.78" fill="#009e73"/>
<rect x="70.03" y="430.81" width="9.64" height="9.78" fill="#1ea76d"/>
<rect x="79.38" y="430.81" width="9.64" height="9.78" fill="#5ab861"/>
<rect x="88.72" y="430.81" width="9.64" height="9.78" fill="#78c15a"/>
<rect x="98.07" y="430.81" width="9.64" height="9.78" fill="#5ab861"/>
<rect x="107.41" y="430.81" width="28.33" height="9.78" fill="#009e73"/>
<rect x="135.45" y="430.81" width="9.64" height="9.78" fill="#009383"/>
<rect x="144.79" y="430.81" width="18.99" height="9.78" fill="#008e8b"/>
<rect x="163.48" y="430.81" width="9.64" height="9.78" fill="#008892"/>
<rect x="172.83" y="430.81" width="18.99" height="9.78" fill="#008e8b"/>
<rect x="191.52" y="430.81" width="18.99" height="9.78" fill="#009383"/>
<rect x="210.21" y="430.81" width="9.64" height="9.78" fill="#008e8b"/>
<rect x="219.55" y="430.81" width="9.64" height="9.78" fill="#0072b2"/>
<rect x="228.90" y="430.81" width="18.99" height="9.78" fill="#0b7ab9"/>
<rect x="247.59" y="430.81" width="9.64" height="9.78" fill="#0072b2"/>
<rect x="256.93" y="430.81" width="9.64" height="9.78" fill="#0078aa"/>
<rect x="266.28" y="430.81" width="9.64" height="9.78" fill="#0b7ab9"/>
<rect x="275.62" y="430.81" width="9.64" height="9.78" fill="#0078aa"/>
<rect x="284.97" y="430.81" width="9.64" height="9.78" fill="#009383"/>
<rect x="294.31" y="430.81" width="9.64" height="9.78" fill="#009e73"/>
<rect x="303.66" y="430.81" width="9.64" height="9.78" fill="#1ea76d"/>
<rect x="313.00" y="430.81" width="9.64" height="9.78" fill="#3cb067"/>
<rect x="322.35" y="430.81" width="9.64" height="9.78" fill="#5ab861"/>
<rect x="331.69" y="430.81" width="9.64" height="9.78" fill="#96ca54"/>
<rect x="341.04" y="430.81" width="9.64" height="9.78" fill="#78c15a"/>
<rect x="350.38" y="430.81" width="9.64" height="9.78" fill="#96ca54"/>
<rect x="359.73" y="430.81" width="9.64" height="9.78" fill="#b4d24e"/>
<rect x="369.07" y="430.81" width="9.64" height="9.78" fill="#d2db48"/>
<rect x="378.42" y="430.81" width="9.64" height="9.78" fill="#f0e442"/>
<rect x="387.76" y="430.81" width="9.64" height="9.78" fill="#efdb3a"/>
<rect x="397.11" y="430.81" width="9.64" height="9.78" fill="#ecca29"/>
<rect x="406.45" y="430.81" width="9.64" height="9.78" fill="#eab919"/>
<rect x="415.80" y="430.81" width="9.64" height="9.78" fill="#e7a808"/>
<rect x="425.14" y="430.81" width="9.64" height="9.78" fill="#e69f00"/>
<rect x="434.49" y="430.81" width="9.64" height="9.78" fill="#e7a808"/>
<rect x="443.83" y="430.81" width="9.64" height="9.78" fill="#e8b010"/>
<rect x="453.18" y="430.81" width="9.64" height="9.78" fill="#ebc221"/>
<rect x="462.52" y="430.81" width="9.64" height="9.78" fill="#efdb3a"/>
<rect x="471.87" y="430.81" width="9.64" height="9.78" fill="#d2db48"/>
<rect x="481.21" y="430.81" width="9.64" height="9.78" fill="#b4d24e"/>
<rect x="490.56" y="430.81" width="9.64" height="9.78" fill="#96ca54"/>
<rect x="42.00" y="440.29" width="9.64" height="9.78" fill="#009383"/>
<rect x="51.34" y="440.29" width="28.33" height="9.78" fill="#009e73"/>
<rect x="79.38" y="440.29" width="9.64" height="9.78" fill="#1ea76d"/>
<rect x="88.72" y="440.29" width="9.64" height="9.78" fill="#96ca54"/>
<rect x="98.07" y="440.29" width="9.64" height="9.78" fill="#78c15a"/>
<rect x="107.41" y="440.29" width="9.64" height="9.78" fill="#1ea76d"/>
<rect x="116.76" y="440.29" width="28.33" height="9.78" fill="#5ab861"/>
<rect x="144.79" y="440.29" width="9.64" height="9.78" fill="#1ea76d"/>
<rect x="154.14" y="440.29" width="9.64" height="9.78" fill="#009e73"/>
<rect x="163.48" y="440.29" width="56.37" height="9.78" fill="#008e8b"/>
<rect x="219.55" y="440.29" width="9.64" height="9.78" fill="#0072b2"/>
<rect x="228.90" y="440.29" width="9.64" height="9.78" fill="#0b7ab9"/>
<rect x="238.24" y="440.29" width="9.64" height="9.78" fill="#208bc7"/>
<rect x="247.59" y="440.29" width="18.99" height="9.78" fill="#2b93ce"/>
<rect x="266.28" y="440.29" width="9.64" height="9.78" fill="#208bc7"/>
<rect x="275.62" y="440.29" width="9.64" height="9.78" fill="#00829a"/>
<rect x="284.97" y="440.29" width="9.64" height="9.78" fill="#009383"/>
<rect x="294.31" y="440.29" width="9.64" height="9.78" fill="#009e73"/>
<rect x="303.66" y="440.29" width="18.99" height="9.78" fill="#1ea76d"/>
<rect x="322.35" y="440.29" width="9.64" height="9.78" fill="#3cb067"/>
<rect x="331.69" y="440.29" width="18.99" height="9.78" fill="#78c15a"/>
<rect x="350.38" y="440.29" width="18.99" height="9.78" fill="#96ca54"/>
<rect x="369.07" y="440.29" width="9.64" height="9.78" fill="#b4d24e"/>
<rect x="378.42" y="440.29" width="9.64" height="9.78" fill="#d2db48"/>
<rect x="387.76" y="440.29" width="9.64" height="9.78" fill="#efdb3a"/>
<rect x="397.11" y="440.29" width="9.64" height="9.78" fill="#ecca29"/>
<rect x="406.45" y="440.29" width="9.64" height="9.78" fill="#eab919"/>
<rect x="415.80" y="440.29" width="9.64" height="9.78" fill="#e8b010"/>
<rect x="425.14" y="440.29" width="9.64" height="9.78" fill="#e7a808"/>
<rect x="434.49" y="440.29" width="9.64" height="9.78" fill="#e8b010"/>
<rect x="443.83" y="440.29" width="9.64" height="9.78" fill="#ebc221"/>
<rect x="453.18" y="440.29" width="9.64" height="9.78" fill="#eed332"/>
<rect x="462.52" y="440.29" width="9.64" height="9.78" fill="#d2db48"/>
<rect x="471.87" y="440.29" width="18.99" height="9.78" fill="#b4d24e"/>
<rect x="490.56" y="440.29" width="9.64" height="9.78" fill="#78c15a"/>
<rect x="42.00" y="449.77" width="18.99" height="9.78" fill="#009e73"/>
<rect x="60.69" y="449.77" width="9.64" height="9.78" fill="#009383"/>
<rect x="70.03" y="449.77" width="9.64" height="9.78" fill="#00987b"/>
<rect x="79.38" y="449.77" width="9.64" height="9.78" fill="#1ea76d"/>
<rect x="88.72" y="449.77" width="18.99" height="9.78" fill="#b4d24e"/>
<rect x="107.41" y="449.77" width="18.99" height="9.78" fill="#78c15a"/>
<rect x="126.10" y="449.77" width="9.64" height="9.78" fill="#96ca54"/>
<rect x="135.45" y="449.77" width="9.64" height="9.78" fill="#d2db48"/>
<rect x="144.79" y="449.77" width="9.64" height="9.78" fill="#b4d24e"/>
<rect x="154.14" y="449.77" width="9.64" height="9.78" fill="#96ca54"/>
<rect x="163.48" y="449.77" width="9.64" height="9.78" fill="#5ab861"/>
<rect x="172.83" y="449.77" width="9.64" height="9.78" fill="#00987b"/>
<rect x="182.17" y="449.77" width="9.64" height="9.78" fill="#009383"/>
<rect x="191.52" y="449.77" width="28.33" height="9.78" fill="#008e8b"/>
<rect x="219.55" y="449.77" width="9.64" height="9.78" fill="#00829a"/>
<rect x="228.90" y="449.77" width="9.64" height="9.78" fill="#0b7ab9"/>
<rect x="238.24" y="449.77" width="9.64" height="9.78" fill="#1682c0"/>
<rect x="247.59" y="449.77" width="9.64" height="9.78" fill="#208bc7"/>
<rect x="256.93" y="449.77" width="9.64" height="9.78" fill="#2b93ce"/>
<rect x="266.28" y="449.77" width="9.64" height="9.78" fill="#208bc7"/>
<rect x="275.62" y="449.77" width="9.64" height="9.78" fill="#00829a"/>
<rect x="284.97" y="449.77" width="9.64" height="9.78" fill="#009383"/>
<rect x="294.31" y="449.77" width="9.64" height="9.78" fill="#009e73"/>
<rect x="303.66" y="449.77" width="37.68" height="9.78" fill="#1ea76d"/>
<rect x="341.04" y="449.77" width="9.64" height="9.78" fill="#5ab861"/>
<rect x="350.38" y="449.77" width="9.64" height="9.78" fill="#78c15a"/>
<rect x="359.73" y="449.77" width="9.64" height="9.78" fill="#96ca54"/>
<rect x="369.07" y="449.77" width="9.64" height="9.78" fill="#b4d24e"/>
<rect x="378.42" y="449.77" width="9.64" height="9.78" fill="#d2db48"/>
<rect x="387.76" y="449.77" width="9.64" height="9.78" fill="#f0e442"/>
<rect x="397.11" y="449.77" width="9.64" height="9.78" fill="#eed332"/>
<rect x="406.45" y="449.77" width="9.64" height="9.78" fill="#ecca29"/>
<rect x="415.80" y="449.77" width="18.99" height="9.78" fill="#eab919"/>
<rect x="434.49" y="449.77" width="9.64" height="9.78" fill="#ebc221"/>
<rect x="443.83" y="449.77" width="9.64" height="9.78" fill="#eed332"/>
<rect x="453.18" y="449.77" width="9.64" height="9.78" fill="#d2db48"/>
<rect x="462.52" y="449.77" width="18.99" height="9.78" fill="#b4d24e"/>
<rect x="481.21" y="449.77" width="9.64" height="9.78" fill="#96ca54"/>
<rect x="490.56" y="449.77" width="9.64" height="9.78" fill="#5ab861"/>
<rect x="42.00" y="459.25" width="9.64" height="9.78" fill="#1ea76d"/>
<rect x="51.34" y="459.25" width="9.64" height="9.78" fill="#00987b"/>
<rect x="60.69" y="459.25" width="9.64" height="9.78" fill="#008e8b"/>
<rect x="70.03" y="459.25" width="9.64" height="9.78" fill="#009383"/>
<rect x="79.38" y="459.25" width="9.64" height="9.78" fill="#00987b"/>
<rect x="88.72" y="459.25" width="9.64" height="9.78" fill="#96ca54"/>
<rect x="98.07" y="459.25" width="9.64" height="9.78" fill="#d2db48"/>
<rect x="107.41" y="459.25" width="9.64" height="9.78" fill="#96ca54"/>
<rect x="116.76" y="459.25" width="9.64" height="9.78" fill="#78c15a"/>
<rect x="126.10" y="459.25" width="9.64" height="9.78" fill="#b4d24e"/>
<rect x="135.45" y="459.25" width="9.64" height="9.78" fill="#f0e442"/>
<rect x="144.79" y="459.25" width="9.64" height="9.78" fill="#eed332"/>
<rect x="154.14" y="459.25" width="9.64" height="9.78" fill="#efdb3a"/>
<rect x="163.48" y="459.25" width="9.64" height="9.78" fill="#78c15a"/>
<rect x="172.83" y="459.25" width="9.64" height="9.78" fill="#1ea76d"/>
<rect x="182.17" y="459.25" width="9.64" height="9.78" fill="#009e73"/>
<rect x="191.52" y="459.25" width="28.33" height="9.78" fill="#009383"/>
<rect x="219.55" y="459.25" width="9.64" height="9.78" fill="#008e8b"/>
<rect x="228.90" y="459.25" width="9.64" height="9.78" fill="#00829a"/>
<rect x="238.24" y="459.25" width="9.64" height="9.78" fill="#0078aa"/>
<rect x="247.59" y="459.25" width="9.64" height="9.78" fill="#1682c0"/>
<rect x="256.93" y="459.25" width="9.64" height="9.78" fill="#2b93ce"/>
<rect x="266.28" y="459.25" width="9.64" height="9.78" fill="#208bc7"/>
<rect x="275.62" y="459.25" width="9.64" height="9.78" fill="#0b7ab9"/>
<rect x="284.97" y="459.25" width="9.64" height="9.78" fill="#008892"/>
<rect x="294.31" y="459.25" width="9.64" height="9.78" fill="#009383"/>
<rect x="303.66" y="459.25" width="9.64" height="9.78" fill="#00987b"/>
<rect x="313.00" y="459.25" width="28.33" height="9.78" fill="#009e73"/>
<rect x="341.04" y="459.25" width="9.64" height="9.78" fill="#1ea76d"/>
<rect x="350.38" y="459.25" width="9.64" height="9.78" fill="#5ab861"/>
<rect x="359.73" y="459.25" width="9.64" height="9.78" fill="#78c15a"/>
<rect x="369.07" y="459.25" width="9.64" height="9.78" fill="#96ca54"/>
<rect x="378.42" y="459.25" width="9.64" height="9.78" fill="#b4d24e"/>
<rect x="387.76" y="459.25" width="9.64" height="9.78" fill="#d2db48"/>
<rect x="397.11" y="459.25" width="9.64" height="9.78" fill="#f0e442"/>
<rect x="406.45" y="459.25" width="9.64" height="9.78" fill="#eed332"/>
<rect x="415.80" y="459.25" width="18.99" height="9.78" fill="#ecca29"/>
<rect x="434.49" y="459.25" width="9.64" height="9.78" fill="#eed332"/>
<rect x="443.83" y="459.25" width="9.64" height="9.78" fill="#f0e442"/>
<rect x="453.18" y="459.25" width="9.64" height="9.78" fill="#b4d24e"/>
<rect x="462.52" y="459.25" width="9.64" height="9.78" fill="#96ca54"/>
<rect x="471.87" y="459.25" width="18.99" height="9.78" fill="#78c15a"/>
<rect x="490.56" y="459.25" width="9.64" height="9.78" fill="#5ab861"/>
<rect x="42.00" y="468.74" width="9.64" height="9.78" fill="#1ea76d"/>
<rect x="51.34" y="468.74" width="9.64" height="9.78" fill="#00987b"/>
<rect x="60.69" y="468.74" width="18.99" height="9.78" fill="#008e8b"/>
<rect x="79.38" y="468.74" width="9.64" height="9.78" fill="#009383"/>
<rect x="88.72" y="468.74" width="9.64" height="9.78" fill="#5ab861"/>
<rect x="98.07" y="468.74" width="9.64" height="9.78" fill="#d2db48"/>
<rect x="107.41" y="468.74" width="9.64" height="9.78" fill="#b4d24e"/>
<rect x="116.76" y="468.74" width="18.99" height="9.78" fill="#96ca54"/>
<rect x="135.45" y="468.74" width="18.99" height="9.78" fill="#78c15a"/>
<rect x="154.14" y="468.74" width="9.64" height="9.78" fill="#5ab861"/>
<rect x="163.48" y="468.74" width="28.33" height="9.78" fill="#78c15a"/>
<rect x="191.52" y="468.74" width="9.64" height="9.78" fill="#1ea76d"/>
<rect x="200.86" y="468.74" width="18.99" height="9.78" fill="#00987b"/>
<rect x="219.55" y="468.74" width="9.64" height="9.78" fill="#009383"/>
<rect x="228.90" y="468.74" width="9.64" height="9.78" fill="#009e73"/>
<rect x="238.24" y="468.74" width="9.64" height="9.78" fill="#008e8b"/>
<rect x="247.59" y="468.74" width="9.64" height="9.78" fill="#0078aa"/>
<rect x="256.93" y="468.74" width="9.64" height="9.78" fill="#208bc7"/>
<rect x="266.28" y="468.74" width="9.64" height="9.78" fill="#2b93ce"/>
<rect x="275.62" y="468.74" width="9.64" height="9.78" fill="#1682c0"/>
<rect x="284.97" y="468.74" width="9.64" height="9.78" fill="#007da2"/>
<rect x="294.31" y="468.74" width="9.64" height="9.78" fill="#008e8b"/>
<rect x="303.66" y="468.74" width="9.64" height="9.78" fill="#009383"/>
<rect x="313.00" y="468.74" width="28.33" height="9.78" fill="#00987b"/>
<rect x="341.04" y="468.74" width="9.64" height="9.78" fill="#1ea76d"/>
<rect x="350.38" y="468.74" width="9.64" height="9.78" fill="#3cb067"/>
<rect x="359.73" y="468.74" width="9.64" height="9.78" fill="#5ab861"/>
<rect x="369.07" y="468.74" width="9.64" height="9.78" fill="#78c15a"/>
<rect x="378.42" y="468.74" width="9.64" height="9.78" fill="#96ca54"/>
<rect x="387.76" y="468.74" width="9.64" height="9.78" fill="#b4d24e"/>
<rect x="397.11" y="468.74" width="9.64" height="9.78" fill="#d2db48"/>
<rect x="406.45" y="468.74" width="9.64" height="9.78" fill="#f0e442"/>
<rect x="415.80" y="468.74" width="18.99" height="9.78" fill="#efdb3a"/>
<rect x="434.49" y="468.74" width="9.64" height="9.78" fill="#f0e442"/>
<rect x="443.83" y="468.74" width="9.64" height="9.78" fill="#b4d24e"/>
<rect x="453.18" y="468.74" width="9.64" height="9.78" fill="#96ca54"/>
<rect x="462.52" y="468.74" width="9.64" height="9.78" fill="#78c15a"/>
<rect x="471.87" y="468.74" width="28.33" height="9.78" fill="#5ab861"/>
<rect x="42.00" y="478.22" width="18.99" height="9.78" fill="#00987b"/>
<rect x="60.69" y="478.22" width="18.99" height="9.78" fill="#008e8b"/>
<rect x="79.38" y="478.22" width="9.64" height="9.78" fill="#009383"/>
<rect x="88.72" y="478.22" width="9.64" height="9.78" fill="#009e73"/>
<rect x="98.07" y="478.22" width="9.64" height="9.78" fill="#b4d24e"/>
<rect x="107.41" y="478.22" width="9.64" height="9.78" fill="#d2db48"/>
<rect x="116.76" y="478.22" width="9.64" height="9.78" fill="#96ca54"/>
<rect x="126.10" y="478.22" width="18.99" height="9.78" fill="#b4d24e"/>
<rect x="144.79" y="478.22" width="9.64" height="9.78" fill="#96ca54"/>
<rect x="154.14" y="478.22" width="9.64" height="9.78" fill="#b4d24e"/>
<rect x="163.48" y="478.22" width="9.64" height="9.78" fill="#d2db48"/>
<rect x="172.83" y="478.22" width="9.64" height="9.78" fill="#efdb3a"/>
<rect x="182.17" y="478.22" width="9.64" height="9.78" fill="#f0e442"/>
<rect x="191.52" y="478.22" width="9.64" height="9.78" fill="#5ab861"/>
<rect x="200.86" y="478.22" width="28.33" height="9.78" fill="#00987b"/>
<rect x="228.90" y="478.22" width="9.64" height="9.78" fill="#009e73"/>
<rect x="238.24" y="478.22" width="9.64" height="9.78" fill="#00987b"/>
<rect x="247.59" y="478.22" width="9.64" height="9.78" fill="#008e8b"/>
<rect x="256.93" y="478.22" width="9.64" height="9.78" fill="#0072b2"/>
<rect x="266.28" y="478.22" width="9.64" height="9.78" fill="#208bc7"/>
<rect x="275.62" y="478.22" width="9.64" height="9.78" fill="#2b93ce"/>
<rect x="284.97" y="478.22" width="9.64" height="9.78" fill="#0072b2"/>
<rect x="294.31" y="478.22" width="9.64" height="9.78" fill="#00829a"/>
<rect x="303.66" y="478.22" width="9.64" height="9.78" fill="#008e8b"/>
<rect x="313.00" y="478.22" width="18.99" height="9.78" fill="#009383"/>
<rect x="331.69" y="478.22" width="9.64" height="9.78" fill="#00987b"/>
<rect x="341.04" y="478.22" width="9.64" height="9.78" fill="#009e73"/>
<rect x="350.38" y="478.22" width="9.64" height="9.78" fill="#1ea76d"/>
<rect x="359.73" y="478.22" width="9.64" height="9.78" fill="#3cb067"/>
<rect x="369.07" y="478.22" width="9.64" height="9.78" fill="#5ab861"/>
<rect x="378.42" y="478.22" width="9.64" height="9.78" fill="#78c15a"/>
<rect x="387.76" y="478.22" width="9.64" height="9.78" fill="#96ca54"/>
<rect x="397.11" y="478.22" width="18.99" height="9.78" fill="#b4d24e"/>
<rect x="415.80" y="478.22" width="18.99" height="9.78" fill="#d2db48"/>
<rect x="434.49" y="478.22" width="9.64" height="9.78" fill="#b4d24e"/>
<rect x="443.83" y="478.22" width="9.64" height="9.78" fill="#96ca54"/>
<rect x="453.18" y="478.22" width="9.64" height="9.78" fill="#78c15a"/>
<rect x="462.52" y="478.22" width="18.99" height="9.78" fill="#5ab861"/>
<rect x="481.21" y="478.22" width="18.99" height="9.78" fill="#3cb067"/>
<rect x="42.00" y="487.70" width="18.99" height="9.78" fill="#009383"/>
<rect x="60.69" y="487.70" width="28.33" height="9.78" fill="#008e8b"/>
<rect x="88.72" y="487.70" width="9.64" height="9.78" fill="#009e73"/>
<rect x="98.07" y="487.70" width="9.64" height="9.78" fill="#5ab861"/>
<rect x="107.41" y="487.70" width="18.99" height="9.78" fill="#b4d24e"/>
<rect x="126.10" y="487.70" width="18.99" height="9.78" fill="#d2db48"/>
<rect x="144.79" y="487.70" width="9.64" height="9.78" fill="#f0e442"/>
<rect x="154.14" y="487.70" width="9.64" height="9.78" fill="#eed332"/>
<rect x="163.48" y="487.70" width="9.64" height="9.78" fill="#e7a808"/>
<rect x="172.83" y="487.70" width="9.64" height="9.78" fill="#e28f00"/>
<rect x="182.17" y="487.70" width="9.64" height="9.78" fill="#e49700"/>
<rect x="191.52" y="487.70" width="9.64" height="9.78" fill="#efdb3a"/>
<rect x="200.86" y="487.70" width="9.64" height="9.78" fill="#00987b"/>
<rect x="210.21" y="487.70" width="9.64" height="9.78" fill="#008e8b"/>
<rect x="219.55" y="487.70" width="18.99" height="9.78" fill="#00987b"/>
<rect x="238.24" y="487.70" width="9.64" height="9.78" fill="#1ea76d"/>
<rect x="247.59" y="487.70" width="9.64" height="9.78" fill="#00987b"/>
<rect x="256.93" y="487.70" width="9.64" height="9.78" fill="#008892"/>
<rect x="266.28" y="487.70" width="9.64" height="9.78" fill="#208bc7"/>
<rect x="275.62" y="487.70" width="9.64" height="9.78" fill="#2b93ce"/>
<rect x="284.97" y="487.70" width="9.64" height="9.78" fill="#208bc7"/>
<rect x="294.31" y="487.70" width="9.64" height="9.78" fill="#0072b2"/>
<rect x="303.66" y="487.70" width="9.64" height="9.78" fill="#008892"/>
<rect x="313.00" y="487.70" width="18.99" height="9.78" fill="#008e8b"/>
<rect x="331.69" y="487.70" width="28.33" height="9.78" fill="#009383"/>
<rect x="359.73" y="487.70" width="9.64" height="9.78" fill="#009e73"/>
<rect x="369.07" y="487.70" width="9.64" height="9.78" fill="#3cb067"/>
<rect x="378.42" y="487.70" width="9.64" height="9.78" fill="#5ab861"/>
<rect x="387.76" y="487.70" width="9.64" height="9.78" fill="#78c15a"/>
<rect x="397.11" y="487.70" width="47.02" height="9.78" fill="#96ca54"/>
<rect x="443.83" y="487.70" width="18.99" height="9.78" fill="#78c15a"/>
<rect x="462.52" y="487.70" width="18.99" height="9.78" fill="#5ab861"/>
<rect x="481.21" y="487.70" width="18.99" height="9.78" fill="#3cb067"/>
<rect x="42.00" y="497.19" width="9.64" height="9.78" fill="#008e8b"/>
<rect x="51.34" y="497.19" width="18.99" height="9.78" fill="#009383"/>
<rect x="70.03" y="497.19" width="18.99" height="9.78" fill="#008e8b"/>
<rect x="88.72" y="497.19" width="9.64" height="9.78" fill="#00987b"/>
<rect x="98.07" y="497.19" width="18.99" height="9.78" fill="#1ea76d"/>
<rect x="116.76" y="497.19" width="9.64" height="9.78" fill="#78c15a"/>
<rect x="126.10" y="497.19" width="9.64" height="9.78" fill="#f0e442"/>
<rect x="135.45" y="497.19" width="9.64" height="9.78" fill="#ebc221"/>
<rect x="144.79" y="497.19" width="9.64" height="9.78" fill="#e8b010"/>
<rect x="154.14" y="497.19" width="9.64" height="9.78" fill="#e69f00"/>
<rect x="163.48" y="497.19" width="9.64" height="9.78" fill="#e08700"/>
<rect x="172.83" y="497.19" width="18.99" height="9.78" fill="#d76600"/>
<rect x="191.52" y="497.19" width="9.64" height="9.78" fill="#e8b010"/>
<rect x="200.86" y="497.19" width="9.64" height="9.78" fill="#009e73"/>
<rect x="210.21" y="497.19" width="9.64" height="9.78" fill="#008e8b"/>
<rect x="219.55" y="497.19" width="9.64" height="9.78" fill="#008892"/>
<rect x="228.90" y="497.19" width="18.99" height="9.78" fill="#008e8b"/>
<rect x="247.59" y="497.19" width="9.64" height="9.78" fill="#00829a"/>
<rect x="256.93" y="497.19" width="9.64" height="9.78" fill="#007da2"/>
<rect x="266.28" y="497.19" width="9.64" height="9.78" fill="#208bc7"/>
<rect x="275.62" y="497.19" width="9.64" height="9.78" fill="#2b93ce"/>
<rect x="284.97" y="497.19" width="9.64" height="9.78" fill="#208bc7"/>
<rect x="294.31" y="497.19" width="9.64" height="9.78" fill="#0b7ab9"/>
<rect x="303.66" y="497.19" width="9.64" height="9.78" fill="#007da2"/>
<rect x="313.00" y="497.19" width="9.64" height="9.78" fill="#008892"/>
<rect x="322.35" y="497.19" width="9.64" height="9.78" fill="#008e8b"/>
<rect x="331.69" y="497.19" width="9.64" height="9.78" fill="#009383"/>
<rect x="341.04" y="497.19" width="9.64" height="9.78" fill="#008892"/>
<rect x="350.38" y="497.19" width="9.64" height="9.78" fill="#008e8b"/>
<rect x="359.73" y="497.19" width="9.64" height="9.78" fill="#009383"/>
<rect x="369.07" y="497.19" width="9.64" height="9.78" fill="#009e73"/>
<rect x="378.42" y="497.19" width="9.64" height="9.78" fill="#3cb067"/>
<rect x="387.76" y="497.19" width="9.64" height="9.78" fill="#5ab861"/>
<rect x="397.11" y="497.19" width="56.37" height="9.78" fill="#78c15a"/>
<rect x="453.18" y="497.19" width="28.33" height="9.78" fill="#5ab861"/>
<rect x="481.21" y="497.19" width="18.99" height="9.78" fill="#3cb067"/>
</g>
<g clip-path="url(#cl)" fill="none" stroke="#000" stroke-width="0.95" stroke-linejoin="round">
<path d="M28.8 34.5 L80.3 39.5 L132.8 44.5 L175.8 47.8 M132.8 44.5 L134.1 29.0 M175.8 47.8 L174.1 77.3 L169.8 164.7 M174.1 77.3 L245.3 79.8 L302.8 80.3 L321.8 79.6 M28.8 151.7 L90.3 157.5 L147.8 162.9 L169.8 164.7 L245.3 167.7 L315.3 167.8 L339.5 166.6 M147.8 162.9 L146.6 178.3 L137.8 300.3 L136.6 309.1 M146.6 178.3 L215.8 181.6 M215.8 181.6 L214.8 237.3 M356.6 282.6 L425.8 280.3 M339.5 166.6 L340.3 181.6 L344.1 207.8 L345.8 225.3 L345.8 265.1 M312.8 62.3 L355.3 61.0 L390.3 59.5 L399.8 59.0 L402.3 61.3 L405.3 65.8 M340.3 181.6 L444.1 176.1 L446.6 181.6 L442.8 186.3 L440.3 191.1 L455.3 189.8 M459.1 174.6 L491.6 170.3 L492.3 167.3 L514.0 165.3 M445.3 220.3 L492.8 216.6 L514.0 214.1 M492.8 216.6 L494.8 225.3 L494.8 280.3 L495.3 305.3 L499.2 340.3 L500.7 350.2 M136.6 309.1 L55.3 302.3 L52.3 304.8 L49.3 306.8 L47.8 307.3 L28.8 305.3"/>
<path stroke-width="1.0" d="M214.8 237.3 L216.0 238.6 L217.2 239.9 L218.9 240.5 L220.2 241.7 L221.7 241.7 L222.5 243.3 L224.1 243.1 L226.1 243.5 L227.8 242.2 L228.6 244.0 L230.4 244.7 L231.2 246.1 L232.8 246.5 L233.9 247.6 L235.3 248.4 L237.1 248.4 L238.8 249.0 L240.2 249.0 L241.2 250.4 L242.9 250.1 L244.6 250.9 L246.3 250.1 L247.4 251.5 L249.1 251.4 L249.9 253.0 L251.6 253.2 L252.9 253.0 L253.8 251.8 L255.2 251.8 L256.6 251.7 L257.9 252.8 L258.7 254.4 L260.5 255.0 L261.4 256.7 L263.3 257.3 L263.9 259.2 L265.4 257.6 L267.3 257.4 L268.8 256.8 L270.3 257.3 L271.8 258.3 L272.8 259.8 L275.3 260.3 L276.6 259.3 L277.9 258.4 L280.3 258.2 L281.0 259.5 L282.4 260.1 L282.6 261.7 L283.5 259.7 L285.4 258.9 L286.3 257.8 L287.8 257.8 L289.5 258.6 L290.8 259.7 L292.4 259.8 L294.1 259.7 L294.8 260.9 L296.3 261.4 L296.6 262.9 L298.7 262.6 L300.3 264.0 L301.1 262.4 L302.9 262.5 L303.8 261.3 L305.2 261.3 L306.5 260.8 L307.8 260.1 L309.3 259.9 L310.6 258.8 L312.4 259.0 L313.5 258.0 L315.2 258.7 L316.3 257.1 L317.8 257.3 L319.1 256.1 L320.9 256.7 L322.3 255.8 L323.7 256.2 L325.0 255.4 L326.4 255.0 L327.8 255.5 L329.6 256.0 L331.2 256.9 L332.8 257.8 L333.9 259.2 L335.9 259.5 L337.2 261.0 L339.1 261.3 L340.2 263.0 L342.2 263.2 L343.2 265.0 L345.8 265.1 L347.5 266.2 L349.3 265.6 L350.9 266.8 L352.8 266.4 L354.3 267.2 L355.8 266.5 M355.8 266.6 L355.9 267.9 L355.9 269.2 L356.0 270.6 L356.1 271.9 L356.1 273.2 L356.2 274.6 L356.2 275.9 L356.3 277.2 L356.4 278.6 L356.4 279.9 L356.5 281.3 L356.6 282.6 L356.6 284.0 L356.6 285.3 L356.7 286.7 L356.7 288.0 L356.7 289.4 L356.8 290.7 L356.8 292.1 L356.8 293.4 L356.9 294.8 L356.9 296.1 L356.9 297.5 L357.0 298.8 L357.0 300.2 L357.0 301.5 L357.1 302.9 L357.1 304.2 L357.1 305.6 L357.2 306.9 L357.2 308.2 L357.2 309.6 L357.3 310.9 L357.3 312.3 L357.8 313.8 L359.5 314.6 L359.6 316.4 L361.3 317.2 L361.5 319.2 L362.8 320.3 L363.2 321.7 L363.4 323.1 L364.5 324.2 L364.5 325.8 L366.2 326.4 L366.5 327.8 L367.3 329.3 L368.1 330.7 L368.1 332.4 L369.4 333.4 L368.7 335.3 L370.0 336.4 L370.4 337.8 L370.1 339.3 L371.2 340.8 L370.0 342.3 L371.0 343.8 L370.9 345.3 L369.8 346.4 L370.5 348.2 L369.2 349.2 L368.2 350.9 L368.0 352.9 L367.2 354.2 L367.2 355.8 L367.6 357.4 L366.1 358.7 L366.7 360.3 L367.1 361.8 L366.4 363.4 L367.9 364.7 L367.2 366.4 L367.7 367.8 L367.8 369.3 L366.4 370.4 L367.3 372.1 L366.2 373.3 L365.5 374.6 L366.5 376.3 L365.1 377.5 L365.3 379.0 M304.6 29.0 L304.4 30.6 L306.0 31.7 L305.7 33.3 L306.4 34.7 L307.1 36.1 L306.7 37.8 L308.0 39.0 L307.5 40.6 L308.7 41.8 L308.9 43.3 L308.9 44.9 L310.5 46.1 L310.1 47.9 L311.0 49.2 L310.8 50.8 L311.0 52.3 L311.7 53.7 L310.3 55.0 L311.2 56.4 L310.9 57.8 L310.9 59.6 L312.7 60.5 L312.7 62.3 L313.9 63.6 L314.6 65.2 L315.1 66.9 L316.5 67.7 L316.4 69.5 L317.9 70.2 L318.0 71.8 L319.5 72.4 L320.3 73.5 L320.6 74.9 L322.0 75.6 L321.9 77.4 L323.7 77.7 L324.0 79.1 L325.6 79.6 L326.8 80.8 L328.0 81.7 L329.1 82.7 L329.3 84.4 L330.5 85.7 L328.8 86.6 L328.4 88.4 L327.9 90.8 L327.5 92.5 L329.1 93.7 L329.0 95.3 L329.9 96.4 L331.3 96.9 L331.6 98.4 L333.2 98.9 L333.0 100.7 L334.3 101.3 L334.7 102.7 L335.4 103.9 L336.7 104.8 L336.6 106.4 L338.0 107.6 L337.5 109.5 L338.5 110.8 L339.2 112.3 L338.7 113.8 L339.8 115.3 L338.5 116.8 L339.2 118.3 L339.1 119.6 L339.1 120.9 L339.1 122.2 L339.1 123.5 L339.2 124.8 L339.2 126.1 L339.2 127.4 L339.2 128.7 L339.2 130.0 L339.2 131.4 L339.2 132.7 L339.2 134.0 L339.2 135.3 L339.3 136.6 L339.3 137.9 L339.3 139.2 L339.3 140.5 L339.3 141.8 L339.3 143.1 L339.3 144.4 L339.3 145.7 L339.3 147.0 L339.3 148.3 L339.4 149.6 L339.4 150.9 L339.4 152.2 L339.4 153.5 L339.4 154.9 L339.4 156.2 L339.4 157.5 L339.4 158.8 L339.4 160.1 L339.5 161.4 L339.5 162.7 L339.5 164.0 L339.5 165.3 L339.5 166.6 M424.3 29.0 L423.3 30.1 L424.0 31.8 L422.7 32.7 L421.3 32.7 L419.9 33.8 L418.3 33.1 L416.8 32.9 L415.6 34.4 L414.0 34.0 L412.6 34.8 L412.4 36.4 L413.1 37.6 L412.6 39.1 L414.2 39.8 L414.8 41.3 L415.8 42.6 L416.6 44.0 L416.5 45.8 L417.5 47.3 L416.3 48.6 L416.7 50.3 L416.1 51.8 L414.5 52.6 L414.5 54.4 L413.6 55.6 L412.0 56.2 L411.7 57.9 L410.4 59.1 L408.7 59.6 L407.8 61.6 L407.9 63.4 L406.3 64.7 L406.7 66.6 L406.5 68.5 L405.6 70.3 L406.1 72.2 L405.3 74.0 L405.3 75.8 L406.5 77.2 L406.5 79.1 L407.9 80.3 L408.5 81.4 L409.3 82.5 L410.9 82.9 L411.2 84.4 L412.8 84.7 L412.9 86.5 L414.4 86.8 L415.4 87.7 L416.4 88.5 L417.5 89.3 L417.9 90.9 L419.4 91.2 L419.7 92.7 L421.5 92.9 L421.7 94.5 L422.8 95.3 L423.6 96.9 L424.7 98.4 L426.0 99.8 L426.4 101.6 L427.5 103.0 L426.4 104.8 L427.4 106.3 L427.6 107.8 L427.3 109.4 L428.7 110.7 L428.2 112.3 L428.9 113.6 L429.2 114.9 L428.7 116.4 L430.3 117.5 L429.6 119.1 L430.3 120.3 L431.4 121.4 L431.9 123.0 L433.5 123.7 L434.0 125.2 L435.9 125.2 L436.5 126.6 L438.0 127.1 L438.6 128.5 L439.5 129.7 L440.9 130.1 L441.7 131.5 L443.5 131.7 L443.8 133.6 L445.3 134.0 L446.3 135.4 L448.1 135.2 L449.3 136.3 L450.7 136.9 L451.7 138.0 L452.7 139.2 L454.0 140.5 L454.6 142.4 L456.2 143.5 L456.4 145.4 L457.3 146.6 L456.4 148.0 L456.7 149.3 L458.1 150.5 L458.1 152.4 L459.7 153.1 L459.7 154.8 L460.8 155.8 L462.1 157.0 L463.2 158.4 L464.6 159.0 L465.2 160.4 M465.3 160.3 L466.3 161.7 L465.3 163.5 L466.4 164.9 L466.6 166.5 L465.5 167.7 L465.5 169.4 L464.0 171.5 L462.5 171.7 L461.4 173.0 L459.1 174.1 L458.0 175.5 L458.4 177.3 L458.3 178.8 L457.6 180.3 L458.1 182.1 L456.9 183.6 L456.7 185.3 L457.1 186.7 L455.5 187.6 L455.8 189.1 L455.4 190.3 L454.0 191.5 L454.3 193.5 L453.3 194.8 L452.1 196.0 L452.6 197.8 L451.5 199.0 L450.5 200.5 L451.0 202.3 L450.5 203.8 L450.2 205.3 L450.3 206.9 L448.5 207.8 L448.3 209.3 L448.3 210.8 L446.6 211.4 L446.6 212.8 L446.8 214.3 L445.1 215.3 L445.4 216.8 L445.1 218.7 L443.9 220.2 L443.4 221.7 L442.4 222.8 L440.8 223.6 L440.4 225.4 L440.3 226.8 L438.6 227.7 L438.9 229.4 L438.6 231.1 L437.6 232.7 L437.9 234.6 L436.9 236.1 L436.4 237.8 L435.6 239.5 L433.7 240.2 L432.2 241.1 L431.7 242.9 L431.4 244.6 L430.6 246.3 L431.1 247.8 L430.2 249.0 L428.9 250.4 L428.5 252.4 L427.3 253.7 L426.5 255.2 L426.2 256.9 L424.7 257.7 L423.9 258.9 L424.3 260.4 L423.8 261.7 L424.1 263.0 L424.5 264.3 L424.1 266.2 L425.4 267.8 L425.8 269.7 L426.7 271.3 L427.5 272.5 L426.8 274.1 L428.0 275.3 L426.6 276.3 L426.3 277.8 L426.0 280.3 L425.6 281.8 L426.6 282.9 L426.9 284.3 L427.1 285.8 L428.9 286.3 L428.9 287.9 L430.1 289.1 L430.2 290.8 L430.7 292.3 L431.8 293.5 L431.1 295.3 L432.8 296.2 L432.8 297.8 L432.6 299.2 L432.5 300.6 L431.6 301.8 L431.5 303.7 L430.3 305.3 L429.0 306.3 L429.5 308.2 L428.2 309.3 L427.1 310.2 L427.7 311.9 L426.5 312.8 L425.5 313.9 L426.0 315.7 L424.7 316.7 L423.8 317.8 L424.1 319.5 L422.6 320.2 L422.0 321.5 L422.4 323.2 L421.1 324.2 L420.7 326.0 L420.5 327.8 L419.4 329.2 L420.0 331.0 L419.6 332.5 L418.9 334.0 L419.8 335.4 L419.3 336.8 L419.2 338.2 L420.0 339.5 M419.8 339.6 L465.3 336.6 L464.3 340.3 L463.7 345.0 L466.3 349.7 L468.9 353.8 L470.5 358.0 L471.0 359.6 M465.3 160.3 L465.1 158.8 L466.7 158.0 L466.5 156.5 L467.9 155.9 L469.4 155.4 L470.9 154.4 L472.9 154.2 L474.0 153.1 L475.7 153.5 L476.7 152.1 L478.3 152.2 L478.8 150.5 L480.3 150.3 L480.6 148.6 L481.8 147.3 L482.8 145.3 L483.8 144.3 L485.5 144.5 L486.2 143.1 L488.0 143.0 L489.0 141.4 L489.3 139.8 L488.2 138.3 L487.7 136.9 L488.0 135.3 L487.9 133.8 L489.1 132.8 L490.8 131.3 L492.8 130.3 L494.0 129.6 L494.8 128.2 L496.4 128.0 L497.4 126.7 L499.2 127.4 L500.3 126.2 L501.7 127.2 L503.4 126.4 L504.8 126.9 L506.3 127.5 L507.8 127.8 L509.4 127.6 L511.0 127.0 L512.5 128.4 L514.1 127.7 M489.1 132.8 L489.4 131.0 L488.3 129.5 L488.2 127.8 L489.4 126.5 L488.5 124.6 L489.7 123.4 L490.2 121.9 L490.1 120.2 L491.5 119.5 L491.1 117.6 L492.4 116.8 L492.9 115.3 L494.0 114.0 L495.0 112.8 L495.0 110.9 L496.5 109.9 L496.2 108.1 L497.7 106.9 L497.8 105.3 L497.2 104.1 L497.6 102.6 L496.0 101.7 L496.4 100.3 L496.6 98.6 L495.3 97.0 L496.0 95.3 L496.2 94.0 L496.1 92.7 L497.6 91.7 L497.1 90.3 L497.9 88.7 L497.6 87.0 L497.7 85.3 L497.7 83.5 L495.9 82.6 L495.9 80.8 L495.9 79.1 L494.6 77.9 L494.7 76.5 L494.5 75.2 L494.4 73.8 L494.3 72.5 L494.1 71.2 L494.0 69.9 L493.9 68.6 L493.7 67.2 L493.6 65.9 L493.4 64.6 L493.3 63.3 L493.2 62.0 L493.0 60.7 L492.9 59.3 L492.8 58.0 L492.6 56.7 L492.5 55.4 L492.4 54.1 L492.2 52.7 L492.1 51.4 L492.0 50.1 L491.8 48.8 L491.7 47.5 L491.6 46.1 L491.4 44.8 L491.3 43.5 L491.2 42.2 L491.0 40.9 L490.9 39.6 L490.7 38.2 L490.6 36.9 L490.5 35.6 L490.3 34.3 L490.2 33.0 L490.1 31.6 L489.9 30.3 L489.8 29.0 M49.3 306.8 L49.9 308.2 L51.7 308.1 L52.2 309.6 L53.2 310.4 L54.2 311.7 L55.2 313.0 L56.7 313.9 L57.2 315.3 L58.9 315.4 L59.0 317.3 L60.3 317.8 L60.9 319.1 L62.2 319.6 L63.4 320.3 L63.9 321.7 L65.3 322.4 L65.2 324.3 L67.0 324.7 L67.4 326.2 L68.2 327.4 L69.1 328.5 L69.8 329.7 L71.5 330.2 L71.4 332.1 L72.9 332.7 L73.3 334.4 L75.1 334.9 L75.8 336.3 L77.0 337.4 L78.2 338.4 L78.9 339.9 L80.6 340.4 L81.1 342.3 L82.9 342.7 L83.6 344.3 L85.6 344.4 L86.5 345.8 L87.7 346.9 L88.1 348.4 L88.7 349.9 L89.7 351.1 L89.1 352.9 L90.5 354.0 L90.4 355.5 L91.3 356.6 L92.2 357.6 L91.7 359.3 L93.0 360.2 L92.0 361.9 L92.7 363.7 L92.4 365.3 L92.2 366.8 L93.9 367.6 L93.6 369.1 L94.2 370.3 L95.1 371.4 L94.8 373.1 L96.6 373.8 L96.5 375.3 L97.8 376.0 L98.5 377.2 L99.0 378.7 L100.5 379.2 L101.2 380.9 L103.3 381.1 L104.0 382.9 L105.5 383.0 L106.0 384.6 L107.2 385.1 L108.4 385.7 L109.8 386.7 L111.6 387.0 L112.7 388.5 L114.3 388.8 L114.9 390.6 L116.9 390.4 L117.8 391.8 L119.4 392.1 L120.1 393.9 L121.5 394.5 L122.9 395.2 L124.6 395.9 L126.3 396.7 L127.7 397.0 L129.1 397.2 L130.3 396.7 L130.8 395.1 L132.4 395.0 L132.8 393.2 L134.7 393.0 L135.3 391.5 L136.3 390.3 L136.7 388.8 L137.2 387.2 L138.4 386.0 L137.8 384.0 L139.2 382.9 L139.2 381.4 L140.2 380.4 L140.9 379.4 L141.0 377.9 L142.7 377.3 L142.7 375.7 L144.6 376.3 L146.3 375.8 L147.7 375.8 L149.0 375.3 L150.3 374.6 L151.4 373.6 L152.2 372.2 L153.3 373.5 L154.9 373.6 L156.1 375.0 L157.9 374.6 L159.0 375.6 L160.4 374.7 L161.7 374.9 L163.0 375.8 L164.3 375.1 L165.8 375.5 L167.4 375.2 L168.7 376.6 L170.3 375.9 L171.2 377.4 L173.1 377.3 L173.7 378.9 L175.7 379.7 L176.5 381.6 L178.0 382.2 L178.6 383.8 L179.7 384.9 L180.8 385.8 L181.4 387.2 L182.9 387.7 L183.4 389.2 L185.2 389.1 L185.6 390.7 L186.8 391.3 L187.4 392.5 L188.4 393.4 L189.9 393.9 L190.1 395.4 L191.5 396.1 L191.1 398.0 L192.4 398.8 L192.6 400.3 L193.3 401.6 L194.2 402.7 L193.9 404.3 L195.5 405.1 L195.0 406.7 L195.6 407.9 L196.7 408.9 L196.4 410.4 L197.8 411.3 L197.4 413.1 L198.6 414.2 L199.5 415.3 L199.6 416.9 L200.9 417.8 L200.4 419.5 L202.0 420.2 L202.2 421.6 L202.7 422.9 L203.7 423.9 L203.7 425.5 L205.5 426.1 L205.3 427.8 L206.3 428.8 L206.9 430.2 L207.7 431.5 L209.2 432.4 L208.9 434.4 L210.4 435.2 L210.8 437.0 L212.6 437.8 L213.3 439.3 L214.5 440.4 L215.8 441.4 L216.4 442.9 L218.1 444.0 L218.6 445.9 L220.2 447.1 L220.2 449.1 L220.9 450.4 L220.7 451.9 L220.6 453.3 L221.7 454.7 L220.7 456.4 L221.6 457.8 L222.2 459.3 L222.2 461.0 L223.5 462.2 L223.3 464.0 L225.0 465.0 L225.3 466.5 L225.9 468.0 L227.0 469.2 L226.5 471.1 L227.9 472.2 L227.9 473.9 L229.2 475.0 L230.0 476.3 L230.1 477.9 L231.9 478.0 L232.4 479.9 L234.3 479.7 L235.3 480.8 L236.8 480.9 L237.7 482.2 L238.9 483.0 L240.4 483.1 L241.8 483.8 L243.4 483.5 L244.6 485.1 L246.3 484.7 L247.3 486.2 L249.3 486.1 L249.9 488.0 L251.5 488.5 L252.6 489.5 L254.2 489.0 L255.5 489.4 L256.8 490.2 L258.3 490.1 L259.8 490.2 L261.3 489.1 L262.8 490.3 L264.3 489.5 L266.0 490.7 L268.1 490.6 L268.6 492.1 L270.4 492.1 L270.5 493.9 L271.8 494.5 L272.8 495.7 L274.3 496.1 L275.6 496.7 L276.4 495.6 L276.6 494.0 L278.0 493.1 L279.0 491.6 L280.9 491.6 M365.3 379.1 L364.1 379.8 L362.5 379.1 L361.6 380.7 L360.1 380.3 L358.8 380.7 L357.4 381.3 L356.6 382.9 L354.7 382.5 L353.9 384.0 L352.7 384.7 L351.2 385.1 L349.7 385.4 L349.2 387.2 L347.6 387.3 L346.3 387.8 L345.4 389.0 L344.1 390.1 L342.2 390.1 L341.0 391.0 L340.8 392.8 L338.9 392.9 L338.5 394.5 L337.5 395.5 L336.2 396.2 L335.4 397.3 L334.5 398.3 L333.6 399.3 L332.7 400.3 L331.9 401.3 L331.0 402.3 L330.1 403.3 L329.2 404.3 L328.3 405.3 L327.2 406.0 L326.0 406.7 L324.9 407.4 L323.7 408.2 L322.6 408.9 L321.4 409.6 L320.3 410.3 L319.1 411.1 L317.8 411.8 L316.6 412.6 L315.3 413.3 L314.1 414.1 L312.8 414.8 L311.6 415.6 L310.3 416.3 L309.1 417.1 L307.8 417.8 L306.6 418.6 L305.3 419.3 L304.1 420.1 L302.8 420.8 L301.6 421.6 L300.3 422.3 L299.2 423.1 L298.1 423.9 L297.0 424.6 L295.9 425.4 L294.7 426.2 L293.6 427.0 L292.5 427.7 L291.4 428.5 L290.3 429.3 L289.4 430.3 L288.6 431.3 L287.7 432.3 L286.8 433.3 L285.9 434.3 L285.1 435.3 L284.2 436.3 L283.3 437.3 L282.8 438.6 L281.3 439.3 L281.6 441.2 L280.0 441.8 L279.4 443.0 L278.9 444.4 L278.4 445.6 L277.2 446.6 L277.8 448.3 L276.2 449.1 L276.0 450.5 L275.6 451.9 L275.4 453.1 L275.4 454.4 L275.4 455.7 L275.3 457.1 L275.2 458.4 L275.2 459.7 L275.2 461.0 L275.1 462.3 L275.3 463.6 L275.6 464.9 L275.8 466.2 L276.1 467.6 L276.3 468.9 L276.5 470.2 L276.8 471.5 L277.0 472.8 L277.4 474.1 L277.8 475.4 L278.1 476.7 L278.5 478.1 L278.9 479.4 L279.2 480.7 L279.6 482.0 L280.0 483.3 L280.3 484.6 L280.6 485.9 L280.9 487.2 L281.1 488.4 L281.4 489.7 L281.7 491.0 L282.0 492.3 L281.8 493.8 L281.6 495.3 L281.4 496.8 L281.2 498.3 L281.0 499.8 L280.8 501.3 L280.3 502.6 L279.9 503.9 L279.4 505.2 L278.9 506.6 L278.4 507.9 L277.9 509.2 L277.5 510.5 L277.0 511.8 L276.3 513.1 L275.5 514.4 L274.8 515.7 L274.0 516.9 L273.3 518.2 L272.5 519.5 L271.8 520.8 M351.3 385.3 L349.7 385.5 L348.2 386.1 L347.0 387.4 L345.2 387.1 L343.8 387.3 L343.1 388.9 L341.7 389.1 L340.3 389.3 L339.4 390.5 L339.1 391.9 L337.3 392.5 L337.3 394.2 L336.4 395.3 L334.6 395.3 L333.3 396.3 L333.3 397.8 L331.7 398.5 L331.5 399.9 L331.3 401.3 L330.1 402.2 L329.0 403.2 L328.2 404.7 L326.1 404.8 L325.4 406.4 L324.4 407.5 L322.8 407.2 L321.7 407.9 L320.9 409.1 L319.2 408.6 L318.4 409.9 L317.1 410.6 L315.7 411.0 L314.2 411.1 L312.9 411.9 L311.7 413.0 L309.8 412.5 L308.9 414.2 L307.3 414.3 L306.3 413.1 L305.4 411.7 L304.0 413.0 L302.3 413.3 L302.2 411.8 L300.6 411.2 L300.3 409.8 L298.9 410.6 L299.0 412.4 L297.8 413.3 L296.7 411.7 L294.7 411.4 L295.9 412.4 L295.2 414.2 L296.4 415.3 L297.6 416.5 L299.3 417.4 L299.8 418.6 L300.2 419.9 L299.4 420.9 L297.7 420.4 L297.0 421.9 L295.7 422.2 L294.2 422.2 L293.4 423.5 L292.1 422.4 L292.4 420.6 L291.5 419.5 L290.7 418.4 L290.3 419.7 L290.5 421.1 L291.1 422.5 L289.7 423.9 L290.4 425.3 L289.4 426.7 L287.8 427.6 L287.5 429.4 L286.7 428.0 L287.3 426.5 L286.1 425.3 L284.8 425.7 L283.2 425.9 L282.0 427.4 L280.2 427.1 L280.5 429.1 L281.9 430.3 L282.9 431.5 L284.2 432.4 L283.4 433.4 L281.9 433.9 L281.8 435.8 L280.0 436.0 L279.3 437.3 L279.3 438.8 L278.9 440.1 L277.8 441.4 L278.8 443.0 L277.7 444.3 L276.8 445.6 L277.3 447.5 L275.5 448.6 L275.5 450.3 M275.5 450.3 L274.1 451.1 L272.5 451.0 L270.9 452.1 L270.4 454.1 L268.9 453.3 L268.9 451.3 L267.2 450.9 L266.5 449.5 L267.2 451.3 L268.8 452.5 L267.3 452.8 L265.8 453.2 L267.4 453.0 L268.8 453.6 L270.2 454.3 L271.8 453.8 L272.9 455.2 L274.1 456.2 L273.2 457.5 L273.9 459.1 L272.3 460.0 L272.5 461.5 L271.1 462.5 L270.9 464.3 L271.8 466.0 L273.4 467.4 L273.0 468.9 L274.1 470.2 L272.9 471.6 L273.7 472.9 L273.7 474.3 L273.5 476.0 L275.2 477.1 L274.7 478.9 L275.5 480.3 L276.2 481.8 L276.1 483.5 L277.9 484.6 L277.7 486.3 L278.7 487.4 L278.6 488.9 L278.7 490.3 L279.8 491.4 M271.8 520.8 L272.1 519.5 L272.4 518.2 L272.7 516.9 L273.1 515.7 L273.4 514.4 L273.7 513.1 L274.0 511.8 L275.0 510.5 L274.7 508.8 L272.5 508.0 L271.2 508.8 L271.1 510.4 L270.2 508.8 L268.7 509.4 L268.1 511.1 L267.4 513.3 L265.3 512.8 L263.5 513.7 L265.0 513.3 L265.9 514.9 L267.3 514.8 L266.7 516.3 L267.2 517.8 L267.5 519.3 L266.8 520.8 M365.3 379.1 L366.7 378.5 L368.2 379.4 L369.4 378.0 L370.9 378.6 L372.3 378.4 L373.6 379.0 L375.0 378.0 L376.3 378.3 L377.6 379.0 L379.0 377.8 L380.3 378.6 L381.7 378.8 L383.2 379.0 L384.6 379.3 L386.0 379.6 L387.4 379.9 L388.9 380.1 L390.3 380.4 L391.3 381.5 L393.0 380.8 L394.0 381.7 L395.2 382.5 L396.6 382.3 L398.0 382.6 L399.5 382.5 L400.8 383.8 L402.4 382.7 L403.8 383.6 L404.8 382.3 L406.6 382.7 L407.4 381.3 L409.0 381.5 L410.1 380.3 L409.4 379.0 L408.0 378.4 L406.9 377.4 L408.5 376.9 L409.8 376.0 L411.0 375.1 L413.0 374.9 L414.8 374.3 L415.8 376.8 L417.4 376.4 L418.9 377.5 L420.5 376.6 L420.5 378.3 L421.7 379.2 L422.2 380.6 L423.7 381.0 L424.8 381.9 L426.0 382.2 L427.4 381.7 L428.5 383.1 L429.9 382.4 L431.2 381.5 L431.2 379.8 L430.7 381.1 L431.4 382.5 L431.3 383.8 L430.7 385.1 L432.4 386.0 L433.0 387.7 L431.2 388.4 L429.3 388.8 L430.4 390.1 L432.0 390.8 L433.4 391.1 L434.7 391.5 L436.1 391.1 L437.3 392.1 L438.9 391.5 L439.8 393.1 L441.3 392.8 L442.6 393.8 L444.2 392.7 L445.5 393.4 L445.7 391.9 L446.9 390.8 L447.8 389.7 L447.9 388.1 L449.9 388.1 L451.0 386.2 L452.8 386.2 L454.3 386.4 L454.6 388.2 L455.9 388.7 L456.2 390.4 L456.7 391.9 L457.7 393.3 L459.0 393.3 L459.6 391.4 L461.1 391.4 L460.8 389.9 L461.8 388.7 L462.2 387.5 L462.0 386.1 L462.9 384.6 L462.0 383.0 L460.8 382.1 L459.6 380.9 L457.9 380.6 L459.4 380.3 L460.5 381.6 L462.0 380.5 L463.2 381.5 L465.0 381.3 L466.2 383.0 L467.9 383.0 L468.2 384.6 L469.6 385.6 L470.7 386.1 L471.9 386.8 L473.4 386.2 L474.3 387.9 L475.7 387.6 L476.8 389.0 L478.8 388.5 L479.9 389.9 L481.2 390.7 L481.2 392.3 L480.6 393.8 L479.9 395.3 L478.6 396.4 L479.4 395.3 L480.0 394.0 L481.6 393.3 L481.6 391.7 L482.5 393.2 L484.1 393.3 L485.9 392.8 L487.2 391.3 L487.8 389.8 L487.7 388.2 L486.3 387.5 L486.1 385.6 L484.5 385.2 L483.0 385.1 L481.9 383.4 L480.1 383.9 L478.8 383.0 L477.6 382.2 L476.4 381.4 L474.6 381.7 L473.7 380.2 L473.0 379.0 L471.2 379.0 L470.6 377.6 L469.6 376.7 L470.7 376.1 L472.0 375.4 L473.6 375.8 L474.6 374.5 L473.3 373.7 L471.5 373.8 L472.7 373.0 L474.2 373.4 L475.1 371.7 L476.7 372.3 L477.8 371.6 L478.7 370.1 L478.2 368.4 L477.5 367.3 L476.9 366.1 L475.5 365.4 L477.0 364.7 L478.5 364.4 L479.3 362.7 L481.0 362.9 L480.6 361.3 L481.6 360.1 L480.1 361.3 L478.3 361.4 L476.7 362.1 L475.4 363.0 L474.2 364.0 L472.5 364.1 L471.6 365.3 L471.8 367.0 L470.3 367.8 L469.4 366.6 L467.8 366.0 L468.6 364.7 L469.3 363.5 L469.3 362.1 L469.2 360.7 L467.8 360.2 L469.4 359.6 L471.0 359.8 M410.1 380.4 L415.3 378.8 L419.5 382.0 L416.9 384.6 L411.7 382.0 L410.1 380.4 M452.3 359.3 L455.3 356.8 L460.1 356.4 L466.3 359.1 L467.9 360.3 L463.2 362.7 L456.3 362.3 L452.3 359.3 M489.8 361.7 L491.7 363.8 L491.9 366.3 L491.5 368.8 L490.8 371.0 M471.0 359.6 L472.6 355.9 L480.9 352.3 L488.2 350.7 L493.4 353.8 L500.7 350.7 L510.1 350.2 L514.3 348.6 M492.3 355.9 L498.6 355.9 M503.3 355.4 L508.0 353.8 M510.1 353.8 L513.7 353.3"/>
</g>
<g clip-path="url(#cr)" fill="none" stroke="#000" stroke-width="0.95" stroke-linejoin="round">
<path d="M628.8 34.5 L680.3 39.5 L732.8 44.5 L775.8 47.8 M732.8 44.5 L734.0 29.0 M775.8 47.8 L774.0 77.3 L769.8 164.7 M774.0 77.3 L845.3 79.8 L902.8 80.3 L921.8 79.6 M628.8 151.7 L690.3 157.5 L747.8 162.9 L769.8 164.7 L845.3 167.7 L915.3 167.8 L939.5 166.6 M747.8 162.9 L746.5 178.3 L737.8 300.3 L736.5 309.1 M746.5 178.3 L815.8 181.6 M815.8 181.6 L814.8 237.3 M956.5 282.6 L1025.8 280.3 M939.5 166.6 L940.3 181.6 L944.0 207.8 L945.8 225.3 L945.8 265.1 M912.8 62.3 L955.3 61.0 L990.3 59.5 L999.8 59.0 L1002.3 61.3 L1005.3 65.8 M940.3 181.6 L1044.0 176.1 L1046.5 181.6 L1042.8 186.3 L1040.3 191.1 L1055.3 189.8 M1059.0 174.6 L1091.5 170.3 L1092.3 167.3 L1114.0 165.3 M1045.3 220.3 L1092.8 216.6 L1114.0 214.1 M1092.8 216.6 L1094.8 225.3 L1094.8 280.3 L1095.3 305.3 L1099.2 340.3 L1100.7 350.2 M736.5 309.1 L655.3 302.3 L652.3 304.8 L649.3 306.8 L647.8 307.3 L628.8 305.3"/>
<path stroke-width="1.0" d="M814.8 237.3 L816.0 238.6 L817.2 239.9 L818.9 240.5 L820.2 241.7 L821.7 241.7 L822.5 243.3 L824.1 243.1 L826.1 243.5 L827.8 242.2 L828.6 244.0 L830.4 244.7 L831.2 246.1 L832.8 246.5 L833.9 247.6 L835.3 248.4 L837.1 248.4 L838.8 249.0 L840.2 249.0 L841.2 250.4 L842.9 250.1 L844.5 250.9 L846.3 250.1 L847.4 251.5 L849.1 251.4 L849.9 253.0 L851.6 253.2 L852.9 253.0 L853.8 251.8 L855.2 251.8 L856.6 251.7 L857.9 252.8 L858.7 254.4 L860.5 255.0 L861.4 256.7 L863.3 257.3 L863.9 259.2 L865.4 257.6 L867.3 257.4 L868.8 256.8 L870.3 257.3 L871.8 258.3 L872.8 259.8 L875.3 260.3 L876.6 259.3 L877.9 258.4 L880.3 258.2 L881.0 259.5 L882.4 260.1 L882.6 261.7 L883.5 259.7 L885.4 258.9 L886.3 257.8 L887.8 257.8 L889.5 258.6 L890.8 259.7 L892.4 259.8 L894.0 259.7 L894.8 260.9 L896.3 261.4 L896.6 262.9 L898.7 262.6 L900.3 264.0 L901.1 262.4 L902.9 262.5 L903.8 261.3 L905.2 261.3 L906.5 260.8 L907.8 260.1 L909.3 259.9 L910.6 258.8 L912.4 259.0 L913.5 258.0 L915.2 258.7 L916.3 257.1 L917.8 257.3 L919.1 256.1 L920.9 256.7 L922.3 255.8 L923.7 256.2 L925.0 255.4 L926.4 255.0 L927.8 255.5 L929.6 256.0 L931.2 256.9 L932.8 257.8 L933.9 259.2 L935.9 259.5 L937.2 261.0 L939.1 261.3 L940.2 263.0 L942.2 263.2 L943.2 265.0 L945.8 265.1 L947.5 266.2 L949.3 265.6 L950.9 266.8 L952.8 266.4 L954.3 267.2 L955.8 266.5 M955.8 266.6 L955.9 267.9 L955.9 269.2 L956.0 270.6 L956.0 271.9 L956.1 273.2 L956.2 274.6 L956.2 275.9 L956.3 277.2 L956.4 278.6 L956.4 279.9 L956.5 281.3 L956.5 282.6 L956.6 284.0 L956.6 285.3 L956.7 286.7 L956.7 288.0 L956.7 289.4 L956.8 290.7 L956.8 292.1 L956.8 293.4 L956.9 294.8 L956.9 296.1 L956.9 297.5 L957.0 298.8 L957.0 300.2 L957.0 301.5 L957.1 302.9 L957.1 304.2 L957.1 305.6 L957.2 306.9 L957.2 308.2 L957.2 309.6 L957.3 310.9 L957.3 312.3 L957.8 313.8 L959.5 314.6 L959.6 316.4 L961.3 317.2 L961.5 319.2 L962.8 320.3 L963.2 321.7 L963.4 323.1 L964.5 324.2 L964.5 325.8 L966.2 326.4 L966.5 327.8 L967.3 329.3 L968.1 330.7 L968.1 332.4 L969.4 333.4 L968.7 335.3 L970.0 336.4 L970.4 337.8 L970.1 339.3 L971.2 340.8 L970.0 342.3 L971.0 343.8 L970.9 345.3 L969.8 346.4 L970.5 348.2 L969.2 349.2 L968.2 350.9 L968.0 352.9 L967.2 354.2 L967.2 355.8 L967.6 357.4 L966.1 358.7 L966.7 360.3 L967.1 361.8 L966.4 363.4 L967.9 364.7 L967.2 366.4 L967.7 367.8 L967.8 369.3 L966.4 370.4 L967.3 372.1 L966.2 373.3 L965.5 374.6 L966.5 376.3 L965.1 377.5 L965.3 379.0 M904.5 29.0 L904.4 30.6 L906.0 31.7 L905.7 33.3 L906.4 34.7 L907.1 36.1 L906.7 37.8 L908.0 39.0 L907.5 40.6 L908.7 41.8 L908.9 43.3 L908.9 44.9 L910.5 46.1 L910.1 47.9 L911.0 49.2 L910.8 50.8 L911.0 52.3 L911.7 53.7 L910.3 55.0 L911.2 56.4 L910.9 57.8 L910.9 59.6 L912.7 60.5 L912.7 62.3 L913.9 63.6 L914.6 65.2 L915.1 66.9 L916.5 67.7 L916.4 69.5 L917.9 70.2 L918.0 71.8 L919.5 72.4 L920.3 73.5 L920.6 74.9 L922.0 75.6 L921.9 77.4 L923.7 77.7 L924.0 79.1 L925.6 79.6 L926.8 80.8 L928.0 81.7 L929.1 82.7 L929.3 84.4 L930.5 85.7 L928.8 86.6 L928.4 88.4 L927.9 90.8 L927.5 92.5 L929.1 93.7 L929.0 95.3 L929.9 96.4 L931.3 96.9 L931.6 98.4 L933.2 98.9 L933.0 100.7 L934.3 101.3 L934.7 102.7 L935.4 103.9 L936.7 104.8 L936.6 106.4 L938.0 107.6 L937.5 109.5 L938.5 110.8 L939.2 112.3 L938.7 113.8 L939.8 115.3 L938.5 116.8 L939.2 118.3 L939.1 119.6 L939.1 120.9 L939.1 122.2 L939.1 123.5 L939.2 124.8 L939.2 126.1 L939.2 127.4 L939.2 128.7 L939.2 130.0 L939.2 131.4 L939.2 132.7 L939.2 134.0 L939.2 135.3 L939.3 136.6 L939.3 137.9 L939.3 139.2 L939.3 140.5 L939.3 141.8 L939.3 143.1 L939.3 144.4 L939.3 145.7 L939.3 147.0 L939.3 148.3 L939.4 149.6 L939.4 150.9 L939.4 152.2 L939.4 153.5 L939.4 154.9 L939.4 156.2 L939.4 157.5 L939.4 158.8 L939.4 160.1 L939.5 161.4 L939.5 162.7 L939.5 164.0 L939.5 165.3 L939.5 166.6 M1024.3 29.0 L1023.3 30.1 L1024.0 31.8 L1022.7 32.7 L1021.3 32.7 L1019.9 33.8 L1018.3 33.1 L1016.8 32.9 L1015.6 34.4 L1014.0 34.0 L1012.6 34.8 L1012.4 36.4 L1013.1 37.6 L1012.6 39.1 L1014.2 39.8 L1014.8 41.3 L1015.8 42.6 L1016.6 44.0 L1016.5 45.8 L1017.5 47.3 L1016.3 48.6 L1016.7 50.3 L1016.1 51.8 L1014.5 52.6 L1014.5 54.4 L1013.6 55.6 L1012.0 56.2 L1011.7 57.9 L1010.4 59.1 L1008.7 59.6 L1007.8 61.6 L1007.9 63.4 L1006.3 64.7 L1006.7 66.6 L1006.5 68.5 L1005.6 70.3 L1006.1 72.2 L1005.3 74.0 L1005.3 75.8 L1006.5 77.2 L1006.5 79.1 L1007.9 80.3 L1008.5 81.4 L1009.3 82.5 L1010.9 82.9 L1011.2 84.4 L1012.8 84.7 L1012.9 86.5 L1014.4 86.8 L1015.4 87.7 L1016.4 88.5 L1017.5 89.3 L1017.9 90.9 L1019.4 91.2 L1019.7 92.7 L1021.5 92.9 L1021.7 94.5 L1022.8 95.3 L1023.6 96.9 L1024.7 98.4 L1026.0 99.8 L1026.4 101.6 L1027.5 103.0 L1026.4 104.8 L1027.4 106.3 L1027.6 107.8 L1027.3 109.4 L1028.7 110.7 L1028.2 112.3 L1028.9 113.6 L1029.2 114.9 L1028.7 116.4 L1030.3 117.5 L1029.6 119.1 L1030.3 120.3 L1031.4 121.4 L1031.9 123.0 L1033.5 123.7 L1034.0 125.2 L1035.9 125.2 L1036.5 126.6 L1038.0 127.1 L1038.6 128.5 L1039.5 129.7 L1040.9 130.1 L1041.7 131.5 L1043.5 131.7 L1043.8 133.6 L1045.3 134.0 L1046.3 135.4 L1048.1 135.2 L1049.3 136.3 L1050.7 136.9 L1051.7 138.0 L1052.7 139.2 L1054.0 140.5 L1054.6 142.4 L1056.2 143.5 L1056.4 145.4 L1057.3 146.6 L1056.4 148.0 L1056.7 149.3 L1058.1 150.5 L1058.1 152.4 L1059.7 153.1 L1059.7 154.8 L1060.8 155.8 L1062.1 157.0 L1063.2 158.4 L1064.6 159.0 L1065.2 160.4 M1065.3 160.3 L1066.3 161.7 L1065.3 163.5 L1066.4 164.9 L1066.6 166.5 L1065.5 167.7 L1065.5 169.4 L1064.0 171.5 L1062.5 171.7 L1061.4 173.0 L1059.1 174.1 L1058.0 175.5 L1058.4 177.3 L1058.3 178.8 L1057.6 180.3 L1058.1 182.1 L1056.9 183.6 L1056.7 185.3 L1057.1 186.7 L1055.5 187.6 L1055.8 189.1 L1055.4 190.3 L1054.0 191.5 L1054.3 193.5 L1053.3 194.8 L1052.1 196.0 L1052.6 197.8 L1051.5 199.0 L1050.5 200.5 L1051.0 202.3 L1050.5 203.8 L1050.2 205.3 L1050.3 206.9 L1048.5 207.8 L1048.3 209.3 L1048.3 210.8 L1046.6 211.4 L1046.6 212.8 L1046.8 214.3 L1045.1 215.3 L1045.4 216.8 L1045.1 218.7 L1043.9 220.2 L1043.4 221.7 L1042.4 222.8 L1040.8 223.6 L1040.4 225.4 L1040.3 226.8 L1038.6 227.7 L1038.9 229.4 L1038.6 231.1 L1037.6 232.7 L1037.9 234.6 L1036.9 236.1 L1036.4 237.8 L1035.6 239.5 L1033.7 240.2 L1032.2 241.1 L1031.7 242.9 L1031.4 244.6 L1030.6 246.3 L1031.1 247.8 L1030.2 249.0 L1028.9 250.4 L1028.5 252.4 L1027.3 253.7 L1026.5 255.2 L1026.2 256.9 L1024.7 257.7 L1023.9 258.9 L1024.3 260.4 L1023.8 261.7 L1024.1 263.0 L1024.5 264.3 L1024.1 266.2 L1025.4 267.8 L1025.8 269.7 L1026.7 271.3 L1027.5 272.5 L1026.8 274.1 L1028.0 275.3 L1026.6 276.3 L1026.3 277.8 L1026.0 280.3 L1025.6 281.8 L1026.6 282.9 L1026.9 284.3 L1027.1 285.8 L1028.9 286.3 L1028.9 287.9 L1030.1 289.1 L1030.2 290.8 L1030.7 292.3 L1031.8 293.5 L1031.1 295.3 L1032.8 296.2 L1032.8 297.8 L1032.6 299.2 L1032.5 300.6 L1031.6 301.8 L1031.5 303.7 L1030.3 305.3 L1029.0 306.3 L1029.5 308.2 L1028.2 309.3 L1027.1 310.2 L1027.7 311.9 L1026.5 312.8 L1025.5 313.9 L1026.0 315.7 L1024.7 316.7 L1023.8 317.8 L1024.1 319.5 L1022.6 320.2 L1022.0 321.5 L1022.4 323.2 L1021.1 324.2 L1020.7 326.0 L1020.5 327.8 L1019.4 329.2 L1020.0 331.0 L1019.6 332.5 L1018.9 334.0 L1019.8 335.4 L1019.3 336.8 L1019.2 338.2 L1020.0 339.5 M1019.8 339.6 L1065.3 336.6 L1064.3 340.3 L1063.7 345.0 L1066.3 349.7 L1068.9 353.8 L1070.5 358.0 L1071.0 359.6 M1065.3 160.3 L1065.1 158.8 L1066.7 158.0 L1066.5 156.5 L1067.9 155.9 L1069.4 155.4 L1070.9 154.4 L1072.9 154.2 L1074.0 153.1 L1075.7 153.5 L1076.7 152.1 L1078.3 152.2 L1078.8 150.5 L1080.3 150.3 L1080.6 148.6 L1081.8 147.3 L1082.8 145.3 L1083.8 144.3 L1085.5 144.5 L1086.2 143.1 L1088.0 143.0 L1089.0 141.4 L1089.3 139.8 L1088.2 138.3 L1087.7 136.9 L1088.0 135.3 L1087.9 133.8 L1089.1 132.8 L1090.8 131.3 L1092.8 130.3 L1094.0 129.6 L1094.8 128.2 L1096.4 128.0 L1097.4 126.7 L1099.2 127.4 L1100.3 126.2 L1101.7 127.2 L1103.4 126.4 L1104.8 126.9 L1106.3 127.5 L1107.8 127.8 L1109.4 127.6 L1111.0 127.0 L1112.5 128.4 L1114.1 127.7 M1089.0 132.8 L1089.4 131.0 L1088.3 129.5 L1088.2 127.8 L1089.4 126.5 L1088.5 124.6 L1089.7 123.4 L1090.2 121.9 L1090.1 120.2 L1091.5 119.5 L1091.1 117.6 L1092.4 116.8 L1092.9 115.3 L1094.0 114.0 L1095.0 112.8 L1095.0 110.9 L1096.5 109.9 L1096.2 108.1 L1097.7 106.9 L1097.8 105.3 L1097.2 104.1 L1097.6 102.6 L1096.0 101.7 L1096.4 100.3 L1096.6 98.6 L1095.3 97.0 L1096.0 95.3 L1096.2 94.0 L1096.1 92.7 L1097.6 91.7 L1097.1 90.3 L1097.9 88.7 L1097.6 87.0 L1097.7 85.3 L1097.7 83.5 L1095.9 82.6 L1095.9 80.8 L1095.9 79.1 L1094.6 77.9 L1094.7 76.5 L1094.5 75.2 L1094.4 73.8 L1094.3 72.5 L1094.1 71.2 L1094.0 69.9 L1093.9 68.6 L1093.7 67.2 L1093.6 65.9 L1093.4 64.6 L1093.3 63.3 L1093.2 62.0 L1093.0 60.7 L1092.9 59.3 L1092.8 58.0 L1092.6 56.7 L1092.5 55.4 L1092.4 54.1 L1092.2 52.7 L1092.1 51.4 L1092.0 50.1 L1091.8 48.8 L1091.7 47.5 L1091.6 46.1 L1091.4 44.8 L1091.3 43.5 L1091.2 42.2 L1091.0 40.9 L1090.9 39.6 L1090.7 38.2 L1090.6 36.9 L1090.5 35.6 L1090.3 34.3 L1090.2 33.0 L1090.1 31.6 L1089.9 30.3 L1089.8 29.0 M649.3 306.8 L649.9 308.2 L651.7 308.1 L652.2 309.6 L653.2 310.4 L654.2 311.7 L655.2 313.0 L656.7 313.9 L657.2 315.3 L658.9 315.4 L659.0 317.3 L660.3 317.8 L660.9 319.1 L662.2 319.6 L663.4 320.3 L663.9 321.7 L665.3 322.4 L665.2 324.3 L667.0 324.7 L667.4 326.2 L668.2 327.4 L669.1 328.5 L669.8 329.7 L671.5 330.2 L671.4 332.1 L672.9 332.7 L673.3 334.4 L675.1 334.9 L675.8 336.3 L677.0 337.4 L678.2 338.4 L678.9 339.9 L680.6 340.4 L681.1 342.3 L682.9 342.7 L683.6 344.3 L685.6 344.4 L686.5 345.8 L687.7 346.9 L688.1 348.4 L688.7 349.9 L689.7 351.1 L689.1 352.9 L690.5 354.0 L690.4 355.5 L691.3 356.6 L692.2 357.6 L691.7 359.3 L693.0 360.2 L692.0 361.9 L692.7 363.7 L692.4 365.3 L692.2 366.8 L693.9 367.6 L693.6 369.1 L694.2 370.3 L695.1 371.4 L694.8 373.1 L696.6 373.8 L696.5 375.3 L697.8 376.0 L698.5 377.2 L699.0 378.7 L700.5 379.2 L701.2 380.9 L703.3 381.1 L704.0 382.9 L705.5 383.0 L706.0 384.6 L707.2 385.1 L708.4 385.7 L709.8 386.7 L711.6 387.0 L712.7 388.5 L714.3 388.8 L714.9 390.6 L716.9 390.4 L717.8 391.8 L719.4 392.1 L720.1 393.9 L721.5 394.5 L722.9 395.2 L724.6 395.9 L726.3 396.7 L727.7 397.0 L729.1 397.2 L730.3 396.7 L730.8 395.1 L732.4 395.0 L732.8 393.2 L734.7 393.0 L735.3 391.5 L736.3 390.3 L736.7 388.8 L737.2 387.2 L738.4 386.0 L737.8 384.0 L739.2 382.9 L739.2 381.4 L740.2 380.4 L740.9 379.4 L741.0 377.9 L742.7 377.3 L742.7 375.7 L744.5 376.3 L746.3 375.8 L747.7 375.8 L749.0 375.3 L750.3 374.6 L751.4 373.6 L752.2 372.2 L753.3 373.5 L754.9 373.6 L756.1 375.0 L757.9 374.6 L759.0 375.6 L760.4 374.7 L761.7 374.9 L763.0 375.8 L764.3 375.1 L765.8 375.5 L767.4 375.2 L768.7 376.6 L770.3 375.9 L771.2 377.4 L773.1 377.3 L773.7 378.9 L775.7 379.7 L776.5 381.6 L778.0 382.2 L778.6 383.8 L779.7 384.9 L780.8 385.8 L781.4 387.2 L782.9 387.7 L783.4 389.2 L785.2 389.1 L785.6 390.7 L786.8 391.3 L787.4 392.5 L788.4 393.4 L789.9 393.9 L790.1 395.4 L791.5 396.1 L791.1 398.0 L792.4 398.8 L792.6 400.3 L793.3 401.6 L794.2 402.7 L793.9 404.3 L795.5 405.1 L795.0 406.7 L795.6 407.9 L796.7 408.9 L796.4 410.4 L797.8 411.3 L797.4 413.1 L798.6 414.2 L799.5 415.3 L799.6 416.9 L800.9 417.8 L800.4 419.5 L802.0 420.2 L802.2 421.6 L802.7 422.9 L803.7 423.9 L803.7 425.5 L805.5 426.1 L805.3 427.8 L806.3 428.8 L806.9 430.2 L807.7 431.5 L809.2 432.4 L808.9 434.4 L810.4 435.2 L810.8 437.0 L812.6 437.8 L813.3 439.3 L814.5 440.4 L815.8 441.4 L816.4 442.9 L818.1 444.0 L818.6 445.9 L820.2 447.1 L820.2 449.1 L820.9 450.4 L820.7 451.9 L820.6 453.3 L821.7 454.7 L820.7 456.4 L821.6 457.8 L822.2 459.3 L822.2 461.0 L823.5 462.2 L823.3 464.0 L825.0 465.0 L825.3 466.5 L825.9 468.0 L827.0 469.2 L826.5 471.1 L827.9 472.2 L827.9 473.9 L829.2 475.0 L830.0 476.3 L830.1 477.9 L831.9 478.0 L832.4 479.9 L834.3 479.7 L835.3 480.8 L836.8 480.9 L837.7 482.2 L838.9 483.0 L840.4 483.1 L841.8 483.8 L843.4 483.5 L844.6 485.1 L846.3 484.7 L847.3 486.2 L849.3 486.1 L849.9 488.0 L851.5 488.5 L852.6 489.5 L854.2 489.0 L855.5 489.4 L856.8 490.2 L858.3 490.1 L859.8 490.2 L861.3 489.1 L862.8 490.3 L864.3 489.5 L866.0 490.7 L868.1 490.6 L868.6 492.1 L870.4 492.1 L870.5 493.9 L871.8 494.5 L872.8 495.7 L874.3 496.1 L875.6 496.7 L876.4 495.6 L876.6 494.0 L878.0 493.1 L879.0 491.6 L880.9 491.6 M965.3 379.1 L964.1 379.8 L962.5 379.1 L961.6 380.7 L960.1 380.3 L958.8 380.7 L957.4 381.3 L956.6 382.9 L954.7 382.5 L953.9 384.0 L952.7 384.7 L951.2 385.1 L949.7 385.4 L949.2 387.2 L947.6 387.3 L946.3 387.8 L945.4 389.0 L944.1 390.1 L942.2 390.1 L941.0 391.0 L940.8 392.8 L938.9 392.9 L938.5 394.5 L937.5 395.5 L936.2 396.2 L935.4 397.3 L934.5 398.3 L933.6 399.3 L932.7 400.3 L931.9 401.3 L931.0 402.3 L930.1 403.3 L929.2 404.3 L928.3 405.3 L927.2 406.0 L926.0 406.7 L924.9 407.4 L923.7 408.2 L922.6 408.9 L921.4 409.6 L920.3 410.3 L919.0 411.1 L917.8 411.8 L916.5 412.6 L915.3 413.3 L914.0 414.1 L912.8 414.8 L911.5 415.6 L910.3 416.3 L909.0 417.1 L907.8 417.8 L906.5 418.6 L905.3 419.3 L904.0 420.1 L902.8 420.8 L901.5 421.6 L900.3 422.3 L899.2 423.1 L898.1 423.9 L897.0 424.6 L895.9 425.4 L894.7 426.2 L893.6 427.0 L892.5 427.7 L891.4 428.5 L890.3 429.3 L889.4 430.3 L888.5 431.3 L887.7 432.3 L886.8 433.3 L885.9 434.3 L885.0 435.3 L884.2 436.3 L883.3 437.3 L882.8 438.6 L881.3 439.3 L881.6 441.2 L880.0 441.8 L879.4 443.0 L878.9 444.4 L878.4 445.6 L877.2 446.6 L877.8 448.3 L876.2 449.1 L876.0 450.5 L875.6 451.9 L875.5 453.1 L875.4 454.4 L875.4 455.7 L875.3 457.1 L875.2 458.4 L875.2 459.7 L875.2 461.0 L875.1 462.3 L875.3 463.6 L875.6 464.9 L875.8 466.2 L876.0 467.6 L876.3 468.9 L876.5 470.2 L876.8 471.5 L877.0 472.8 L877.4 474.1 L877.8 475.4 L878.1 476.7 L878.5 478.1 L878.9 479.4 L879.2 480.7 L879.6 482.0 L880.0 483.3 L880.3 484.6 L880.6 485.9 L880.9 487.2 L881.1 488.4 L881.4 489.7 L881.7 491.0 L882.0 492.3 L881.8 493.8 L881.6 495.3 L881.4 496.8 L881.2 498.3 L881.0 499.8 L880.8 501.3 L880.3 502.6 L879.9 503.9 L879.4 505.2 L878.9 506.6 L878.4 507.9 L878.0 509.2 L877.5 510.5 L877.0 511.8 L876.3 513.1 L875.5 514.4 L874.8 515.7 L874.0 516.9 L873.3 518.2 L872.5 519.5 L871.8 520.8 M951.3 385.3 L949.7 385.5 L948.2 386.1 L947.0 387.4 L945.2 387.1 L943.8 387.3 L943.1 388.9 L941.7 389.1 L940.3 389.3 L939.4 390.5 L939.1 391.9 L937.3 392.5 L937.3 394.2 L936.4 395.3 L934.6 395.3 L933.3 396.3 L933.3 397.8 L931.7 398.5 L931.5 399.9 L931.3 401.3 L930.1 402.2 L929.0 403.2 L928.2 404.7 L926.1 404.8 L925.4 406.4 L924.4 407.5 L922.8 407.2 L921.7 407.9 L920.9 409.1 L919.2 408.6 L918.4 409.9 L917.1 410.6 L915.7 411.0 L914.2 411.1 L912.9 411.9 L911.7 413.0 L909.8 412.5 L908.9 414.2 L907.3 414.3 L906.3 413.1 L905.4 411.7 L904.0 413.0 L902.3 413.3 L902.2 411.8 L900.6 411.2 L900.3 409.8 L898.9 410.6 L899.0 412.4 L897.8 413.3 L896.7 411.7 L894.7 411.4 L895.9 412.4 L895.2 414.2 L896.4 415.3 L897.6 416.5 L899.3 417.4 L899.8 418.6 L900.2 419.9 L899.4 420.9 L897.7 420.4 L897.0 421.9 L895.7 422.2 L894.2 422.2 L893.4 423.5 L892.1 422.4 L892.4 420.6 L891.5 419.5 L890.7 418.4 L890.3 419.7 L890.5 421.1 L891.1 422.5 L889.7 423.9 L890.4 425.3 L889.4 426.7 L887.8 427.6 L887.5 429.4 L886.7 428.0 L887.3 426.5 L886.1 425.3 L884.8 425.7 L883.2 425.9 L882.0 427.4 L880.2 427.1 L880.5 429.1 L881.9 430.3 L882.9 431.5 L884.2 432.4 L883.4 433.4 L881.9 433.9 L881.8 435.8 L880.0 436.0 L879.3 437.3 L879.3 438.8 L878.9 440.1 L877.8 441.4 L878.8 443.0 L877.7 444.3 L876.8 445.6 L877.3 447.5 L875.5 448.6 L875.5 450.3 M875.5 450.3 L874.1 451.1 L872.5 451.0 L870.9 452.1 L870.4 454.1 L868.9 453.3 L868.9 451.3 L867.2 450.9 L866.5 449.5 L867.2 451.3 L868.8 452.5 L867.3 452.8 L865.8 453.2 L867.4 453.0 L868.8 453.6 L870.2 454.3 L871.8 453.8 L872.9 455.2 L874.1 456.2 L873.2 457.5 L873.9 459.1 L872.3 460.0 L872.5 461.5 L871.1 462.5 L870.9 464.3 L871.8 466.0 L873.4 467.4 L873.0 468.9 L874.1 470.2 L872.9 471.6 L873.7 472.9 L873.7 474.3 L873.5 476.0 L875.2 477.1 L874.7 478.9 L875.5 480.3 L876.2 481.8 L876.1 483.5 L877.9 484.6 L877.7 486.3 L878.7 487.4 L878.6 488.9 L878.7 490.3 L879.8 491.4 M871.8 520.8 L872.1 519.5 L872.4 518.2 L872.7 516.9 L873.1 515.7 L873.4 514.4 L873.7 513.1 L874.0 511.8 L875.0 510.5 L874.7 508.8 L872.5 508.0 L871.2 508.8 L871.1 510.4 L870.2 508.8 L868.7 509.4 L868.1 511.1 L867.4 513.3 L865.3 512.8 L863.5 513.7 L865.0 513.3 L865.9 514.9 L867.3 514.8 L866.7 516.3 L867.2 517.8 L867.5 519.3 L866.8 520.8 M965.3 379.1 L966.7 378.5 L968.2 379.4 L969.4 378.0 L970.9 378.6 L972.3 378.4 L973.6 379.0 L975.0 378.0 L976.3 378.3 L977.6 379.0 L979.0 377.8 L980.3 378.6 L981.7 378.8 L983.2 379.0 L984.6 379.3 L986.0 379.6 L987.4 379.9 L988.9 380.1 L990.3 380.4 L991.3 381.5 L993.0 380.8 L994.0 381.7 L995.2 382.5 L996.6 382.3 L998.0 382.6 L999.5 382.5 L1000.8 383.8 L1002.4 382.7 L1003.8 383.6 L1004.8 382.3 L1006.6 382.7 L1007.4 381.3 L1009.0 381.5 L1010.1 380.3 L1009.4 379.0 L1008.0 378.4 L1006.9 377.4 L1008.5 376.9 L1009.8 376.0 L1011.0 375.1 L1013.0 374.9 L1014.8 374.3 L1015.8 376.8 L1017.4 376.4 L1018.9 377.5 L1020.5 376.6 L1020.5 378.3 L1021.7 379.2 L1022.2 380.6 L1023.7 381.0 L1024.8 381.9 L1026.0 382.2 L1027.4 381.7 L1028.5 383.1 L1029.9 382.4 L1031.2 381.5 L1031.2 379.8 L1030.7 381.1 L1031.4 382.5 L1031.3 383.8 L1030.7 385.1 L1032.4 386.0 L1033.0 387.7 L1031.2 388.4 L1029.3 388.8 L1030.4 390.1 L1032.0 390.8 L1033.4 391.1 L1034.7 391.5 L1036.1 391.1 L1037.3 392.1 L1038.9 391.5 L1039.8 393.1 L1041.3 392.8 L1042.6 393.8 L1044.2 392.7 L1045.5 393.4 L1045.7 391.9 L1046.9 390.8 L1047.8 389.7 L1047.9 388.1 L1049.9 388.1 L1051.0 386.2 L1052.8 386.2 L1054.3 386.4 L1054.6 388.2 L1055.9 388.7 L1056.2 390.4 L1056.7 391.9 L1057.7 393.3 L1059.0 393.3 L1059.6 391.4 L1061.1 391.4 L1060.8 389.9 L1061.8 388.7 L1062.2 387.5 L1062.0 386.1 L1062.9 384.6 L1062.0 383.0 L1060.8 382.1 L1059.6 380.9 L1057.9 380.6 L1059.4 380.3 L1060.5 381.6 L1062.0 380.5 L1063.2 381.5 L1065.0 381.3 L1066.2 383.0 L1067.9 383.0 L1068.2 384.6 L1069.6 385.6 L1070.7 386.1 L1071.9 386.8 L1073.4 386.2 L1074.3 387.9 L1075.7 387.6 L1076.8 389.0 L1078.8 388.5 L1079.9 389.9 L1081.2 390.7 L1081.2 392.3 L1080.6 393.8 L1079.9 395.3 L1078.6 396.4 L1079.4 395.3 L1080.0 394.0 L1081.6 393.3 L1081.6 391.7 L1082.5 393.2 L1084.1 393.3 L1085.9 392.8 L1087.2 391.3 L1087.8 389.8 L1087.7 388.2 L1086.3 387.5 L1086.1 385.6 L1084.5 385.2 L1083.0 385.1 L1081.9 383.4 L1080.1 383.9 L1078.8 383.0 L1077.6 382.2 L1076.4 381.4 L1074.6 381.7 L1073.7 380.2 L1073.0 379.0 L1071.2 379.0 L1070.6 377.6 L1069.6 376.7 L1070.7 376.1 L1072.0 375.4 L1073.6 375.8 L1074.6 374.5 L1073.3 373.7 L1071.5 373.8 L1072.7 373.0 L1074.2 373.4 L1075.1 371.7 L1076.7 372.3 L1077.8 371.6 L1078.7 370.1 L1078.2 368.4 L1077.5 367.3 L1076.9 366.1 L1075.5 365.4 L1077.0 364.7 L1078.5 364.4 L1079.3 362.7 L1081.0 362.9 L1080.6 361.3 L1081.6 360.1 L1080.1 361.3 L1078.3 361.4 L1076.7 362.1 L1075.4 363.0 L1074.2 364.0 L1072.5 364.1 L1071.6 365.3 L1071.8 367.0 L1070.3 367.8 L1069.4 366.6 L1067.8 366.0 L1068.6 364.7 L1069.3 363.5 L1069.3 362.1 L1069.2 360.7 L1067.8 360.2 L1069.4 359.6 L1071.0 359.8 M1010.1 380.4 L1015.3 378.8 L1019.5 382.0 L1016.9 384.6 L1011.7 382.0 L1010.1 380.4 M1052.3 359.3 L1055.3 356.8 L1060.1 356.4 L1066.3 359.1 L1067.9 360.3 L1063.2 362.7 L1056.3 362.3 L1052.3 359.3 M1089.8 361.7 L1091.7 363.8 L1091.9 366.3 L1091.5 368.8 L1090.8 371.0 M1071.0 359.6 L1072.6 355.9 L1080.9 352.3 L1088.2 350.7 L1093.4 353.8 L1100.7 350.7 L1110.1 350.2 L1114.3 348.6 M1092.3 355.9 L1098.6 355.9 M1103.3 355.4 L1108.0 353.8 M1110.1 353.8 L1113.7 353.3"/>
</g>
<g clip-path="url(#cl)">
<g fill="#000">
<circle cx="86.7" cy="30.9" r="4.5"/>
<circle cx="117.4" cy="38.4" r="4.5"/>
<circle cx="122.9" cy="42.1" r="4.5"/>
<circle cx="132.7" cy="50.4" r="4.5"/>
<circle cx="80.9" cy="53.4" r="4.5"/>
<circle cx="107.9" cy="54.9" r="4.5"/>
<circle cx="109.7" cy="55.9" r="4.5"/>
<circle cx="116.7" cy="61.6" r="4.5"/>
<circle cx="98.4" cy="63.4" r="4.5"/>
<circle cx="115.9" cy="67.4" r="4.5"/>
<circle cx="79.7" cy="67.9" r="4.5"/>
<circle cx="59.6" cy="64.9" r="4.5"/>
<circle cx="38.6" cy="68.7" r="4.5"/>
<circle cx="105.4" cy="69.9" r="4.5"/>
<circle cx="105.4" cy="74.2" r="4.5"/>
<circle cx="92.9" cy="77.2" r="4.5"/>
<circle cx="98.4" cy="78.4" r="4.5"/>
<circle cx="110.4" cy="77.9" r="4.5"/>
<circle cx="106.7" cy="80.4" r="4.5"/>
<circle cx="95.4" cy="82.9" r="4.5"/>
<circle cx="101.7" cy="82.9" r="4.5"/>
<circle cx="109.2" cy="84.9" r="4.5"/>
<circle cx="106.7" cy="86.7" r="4.5"/>
<circle cx="118.4" cy="84.2" r="4.5"/>
<circle cx="91.7" cy="87.9" r="4.5"/>
<circle cx="47.4" cy="79.4" r="4.5"/>
<circle cx="41.6" cy="81.7" r="4.5"/>
<circle cx="55.4" cy="84.2" r="4.5"/>
<circle cx="59.1" cy="84.9" r="4.5"/>
<circle cx="34.1" cy="89.7" r="4.5"/>
<circle cx="35.4" cy="96.2" r="4.5"/>
<circle cx="57.9" cy="94.2" r="4.5"/>
<circle cx="62.9" cy="98.7" r="4.5"/>
<circle cx="84.9" cy="102.2" r="4.5"/>
<circle cx="110.9" cy="102.9" r="4.5"/>
<circle cx="108.7" cy="106.2" r="4.5"/>
<circle cx="111.7" cy="122.4" r="4.5"/>
<circle cx="30.4" cy="118.7" r="4.5"/>
<circle cx="36.6" cy="149.9" r="4.5"/>
<circle cx="42.9" cy="149.7" r="4.5"/>
<circle cx="51.1" cy="148.4" r="4.5"/>
<circle cx="32.9" cy="159.7" r="4.5"/>
<circle cx="40.9" cy="158.7" r="4.5"/>
<circle cx="223.7" cy="115.4" r="4.5"/>
<circle cx="292.4" cy="51.9" r="4.5"/>
<circle cx="307.9" cy="44.1" r="4.5"/>
<circle cx="307.9" cy="27.9" r="4.5"/>
<circle cx="314.1" cy="108.7" r="4.5"/>
<circle cx="274.1" cy="141.7" r="4.5"/>
<circle cx="278.4" cy="147.4" r="4.5"/>
<circle cx="277.1" cy="154.2" r="4.5"/>
<circle cx="319.1" cy="147.9" r="4.5"/>
<circle cx="316.6" cy="169.7" r="4.5"/>
<circle cx="327.9" cy="51.9" r="4.5"/>
<circle cx="357.9" cy="32.4" r="4.5"/>
<circle cx="424.1" cy="30.9" r="4.5"/>
<circle cx="475.4" cy="35.4" r="4.5"/>
<circle cx="394.1" cy="57.1" r="4.5"/>
<circle cx="446.6" cy="52.9" r="4.5"/>
<circle cx="459.6" cy="57.9" r="4.5"/>
<circle cx="478.4" cy="63.6" r="4.5"/>
<circle cx="474.9" cy="69.9" r="4.5"/>
<circle cx="463.6" cy="75.9" r="4.5"/>
<circle cx="447.4" cy="78.7" r="4.5"/>
<circle cx="409.9" cy="78.7" r="4.5"/>
<circle cx="332.9" cy="80.9" r="4.5"/>
<circle cx="511.6" cy="51.6" r="4.5"/>
<circle cx="497.4" cy="84.2" r="4.5"/>
<circle cx="499.1" cy="81.2" r="4.5"/>
<circle cx="492.4" cy="92.9" r="4.5"/>
<circle cx="508.4" cy="97.4" r="4.5"/>
<circle cx="498.4" cy="105.9" r="4.5"/>
<circle cx="444.9" cy="91.7" r="4.5"/>
<circle cx="473.6" cy="98.7" r="4.5"/>
<circle cx="400.9" cy="92.4" r="4.5"/>
<circle cx="389.6" cy="104.7" r="4.5"/>
<circle cx="395.4" cy="114.9" r="4.5"/>
<circle cx="339.6" cy="93.4" r="4.5"/>
<circle cx="346.6" cy="96.2" r="4.5"/>
<circle cx="331.1" cy="99.4" r="4.5"/>
<circle cx="340.4" cy="99.9" r="4.5"/>
<circle cx="344.1" cy="100.4" r="4.5"/>
<circle cx="337.9" cy="105.4" r="4.5"/>
<circle cx="335.9" cy="113.7" r="4.5"/>
<circle cx="340.4" cy="115.9" r="4.5"/>
<circle cx="422.4" cy="103.4" r="4.5"/>
<circle cx="433.4" cy="100.9" r="4.5"/>
<circle cx="431.6" cy="106.7" r="4.5"/>
<circle cx="437.9" cy="107.4" r="4.5"/>
<circle cx="444.1" cy="110.9" r="4.5"/>
<circle cx="439.9" cy="113.4" r="4.5"/>
<circle cx="431.1" cy="112.9" r="4.5"/>
<circle cx="426.6" cy="119.7" r="4.5"/>
<circle cx="434.1" cy="120.4" r="4.5"/>
<circle cx="448.4" cy="127.2" r="4.5"/>
<circle cx="474.6" cy="127.4" r="4.5"/>
<circle cx="434.6" cy="135.9" r="4.5"/>
<circle cx="451.1" cy="140.9" r="4.5"/>
<circle cx="495.4" cy="126.7" r="4.5"/>
<circle cx="499.1" cy="123.4" r="4.5"/>
<circle cx="505.4" cy="124.9" r="4.5"/>
<circle cx="504.1" cy="128.4" r="4.5"/>
<circle cx="510.4" cy="132.9" r="4.5"/>
<circle cx="482.4" cy="153.7" r="4.5"/>
<circle cx="477.4" cy="156.7" r="4.5"/>
<circle cx="507.4" cy="158.4" r="4.5"/>
<circle cx="352.9" cy="146.2" r="4.5"/>
<circle cx="344.6" cy="159.7" r="4.5"/>
<circle cx="370.4" cy="157.9" r="4.5"/>
<circle cx="372.1" cy="156.7" r="4.5"/>
<circle cx="334.9" cy="169.2" r="4.5"/>
<circle cx="32.9" cy="180.9" r="4.5"/>
<circle cx="60.9" cy="179.7" r="4.5"/>
<circle cx="73.4" cy="197.2" r="4.5"/>
<circle cx="61.6" cy="205.4" r="4.5"/>
<circle cx="62.4" cy="209.2" r="4.5"/>
<circle cx="58.4" cy="212.2" r="4.5"/>
<circle cx="55.9" cy="219.2" r="4.5"/>
<circle cx="175.4" cy="226.7" r="4.5"/>
<circle cx="240.4" cy="191.7" r="4.5"/>
<circle cx="300.4" cy="194.2" r="4.5"/>
<circle cx="309.1" cy="190.4" r="4.5"/>
<circle cx="314.6" cy="192.9" r="4.5"/>
<circle cx="308.6" cy="198.4" r="4.5"/>
<circle cx="274.6" cy="208.4" r="4.5"/>
<circle cx="267.9" cy="212.2" r="4.5"/>
<circle cx="279.1" cy="212.2" r="4.5"/>
<circle cx="274.1" cy="217.2" r="4.5"/>
<circle cx="273.4" cy="226.7" r="4.5"/>
<circle cx="292.9" cy="232.4" r="4.5"/>
<circle cx="314.6" cy="229.7" r="4.5"/>
<circle cx="251.7" cy="236.7" r="4.5"/>
<circle cx="260.9" cy="248.7" r="4.5"/>
<circle cx="274.6" cy="248.2" r="4.5"/>
<circle cx="293.4" cy="249.2" r="4.5"/>
<circle cx="286.6" cy="272.9" r="4.5"/>
<circle cx="280.9" cy="278.4" r="4.5"/>
<circle cx="290.9" cy="280.4" r="4.5"/>
<circle cx="306.6" cy="280.4" r="4.5"/>
<circle cx="273.6" cy="285.4" r="4.5"/>
<circle cx="278.4" cy="287.1" r="4.5"/>
<circle cx="284.1" cy="285.4" r="4.5"/>
<circle cx="290.4" cy="287.4" r="4.5"/>
<circle cx="298.6" cy="286.6" r="4.5"/>
<circle cx="263.6" cy="288.4" r="4.5"/>
<circle cx="276.6" cy="290.9" r="4.5"/>
<circle cx="282.9" cy="294.1" r="4.5"/>
<circle cx="288.4" cy="294.1" r="4.5"/>
<circle cx="302.1" cy="297.4" r="4.5"/>
<circle cx="266.1" cy="299.9" r="4.5"/>
<circle cx="136.7" cy="287.4" r="4.5"/>
<circle cx="108.4" cy="295.4" r="4.5"/>
<circle cx="103.4" cy="299.9" r="4.5"/>
<circle cx="54.9" cy="299.9" r="4.5"/>
<circle cx="325.9" cy="189.9" r="4.5"/>
<circle cx="352.4" cy="190.4" r="4.5"/>
<circle cx="351.6" cy="195.9" r="4.5"/>
<circle cx="373.6" cy="199.9" r="4.5"/>
<circle cx="339.9" cy="203.7" r="4.5"/>
<circle cx="343.6" cy="213.7" r="4.5"/>
<circle cx="397.4" cy="230.4" r="4.5"/>
<circle cx="397.4" cy="228.4" r="4.5"/>
<circle cx="353.4" cy="240.9" r="4.5"/>
<circle cx="378.6" cy="248.4" r="4.5"/>
<circle cx="452.9" cy="208.4" r="4.5"/>
<circle cx="445.4" cy="214.2" r="4.5"/>
<circle cx="449.6" cy="213.4" r="4.5"/>
<circle cx="453.6" cy="215.4" r="4.5"/>
<circle cx="451.1" cy="224.9" r="4.5"/>
<circle cx="481.6" cy="238.7" r="4.5"/>
<circle cx="457.4" cy="248.7" r="4.5"/>
<circle cx="435.9" cy="257.9" r="4.5"/>
<circle cx="512.4" cy="186.2" r="4.5"/>
<circle cx="512.9" cy="269.9" r="4.5"/>
<circle cx="487.1" cy="294.1" r="4.5"/>
<circle cx="498.4" cy="293.4" r="4.5"/>
<circle cx="451.1" cy="297.4" r="4.5"/>
<circle cx="406.1" cy="295.4" r="4.5"/>
<circle cx="354.1" cy="293.6" r="4.5"/>
<circle cx="361.6" cy="292.4" r="4.5"/>
<circle cx="365.4" cy="296.6" r="4.5"/>
<circle cx="49.9" cy="303.4" r="4.5"/>
<circle cx="47.1" cy="306.6" r="4.5"/>
<circle cx="56.6" cy="307.9" r="4.5"/>
<circle cx="51.6" cy="306.1" r="4.5"/>
<circle cx="56.6" cy="312.1" r="4.5"/>
<circle cx="128.4" cy="388.4" r="4.5"/>
<circle cx="274.9" cy="303.6" r="4.5"/>
<circle cx="288.6" cy="308.6" r="4.5"/>
<circle cx="300.4" cy="312.9" r="4.5"/>
<circle cx="283.6" cy="324.6" r="4.5"/>
<circle cx="267.9" cy="340.9" r="4.5"/>
<circle cx="274.9" cy="339.9" r="4.5"/>
<circle cx="263.6" cy="358.6" r="4.5"/>
<circle cx="266.6" cy="362.1" r="4.5"/>
<circle cx="244.2" cy="387.1" r="4.5"/>
<circle cx="245.9" cy="383.4" r="4.5"/>
<circle cx="252.2" cy="394.1" r="4.5"/>
<circle cx="285.4" cy="407.4" r="4.5"/>
<circle cx="324.1" cy="303.6" r="4.5"/>
<circle cx="341.6" cy="302.4" r="4.5"/>
<circle cx="343.6" cy="351.6" r="4.5"/>
<circle cx="324.9" cy="362.1" r="4.5"/>
<circle cx="318.6" cy="371.6" r="4.5"/>
<circle cx="340.4" cy="381.6" r="4.5"/>
<circle cx="324.1" cy="375.9" r="4.5"/>
<circle cx="329.1" cy="376.6" r="4.5"/>
<circle cx="335.9" cy="377.4" r="4.5"/>
<circle cx="320.4" cy="381.1" r="4.5"/>
<circle cx="325.4" cy="381.6" r="4.5"/>
<circle cx="329.9" cy="380.4" r="4.5"/>
<circle cx="334.1" cy="382.4" r="4.5"/>
<circle cx="327.9" cy="384.9" r="4.5"/>
<circle cx="335.9" cy="385.4" r="4.5"/>
<circle cx="326.1" cy="387.9" r="4.5"/>
<circle cx="339.9" cy="394.6" r="4.5"/>
<circle cx="324.6" cy="400.9" r="4.5"/>
<circle cx="359.1" cy="370.4" r="4.5"/>
<circle cx="366.6" cy="368.6" r="4.5"/>
<circle cx="371.1" cy="364.6" r="4.5"/>
<circle cx="377.1" cy="367.1" r="4.5"/>
<circle cx="361.1" cy="373.4" r="4.5"/>
<circle cx="362.4" cy="376.6" r="4.5"/>
<circle cx="364.1" cy="379.6" r="4.5"/>
<circle cx="409.6" cy="362.4" r="4.5"/>
<circle cx="414.6" cy="366.6" r="4.5"/>
<circle cx="425.9" cy="347.9" r="4.5"/>
<circle cx="433.6" cy="347.1" r="4.5"/>
<circle cx="430.4" cy="354.1" r="4.5"/>
<circle cx="427.9" cy="361.6" r="4.5"/>
<circle cx="432.9" cy="362.1" r="4.5"/>
<circle cx="436.6" cy="360.4" r="4.5"/>
<circle cx="440.9" cy="358.4" r="4.5"/>
<circle cx="441.1" cy="367.1" r="4.5"/>
<circle cx="446.1" cy="365.4" r="4.5"/>
<circle cx="442.9" cy="374.6" r="4.5"/>
<circle cx="455.9" cy="353.6" r="4.5"/>
<circle cx="454.6" cy="365.4" r="4.5"/>
<circle cx="463.6" cy="367.9" r="4.5"/>
<circle cx="476.1" cy="355.4" r="4.5"/>
<circle cx="484.6" cy="352.4" r="4.5"/>
<circle cx="497.1" cy="352.1" r="4.5"/>
<circle cx="506.6" cy="347.9" r="4.5"/>
<circle cx="507.4" cy="339.1" r="4.5"/>
<circle cx="512.9" cy="346.6" r="4.5"/>
<circle cx="271.1" cy="437.1" r="4.5"/>
<circle cx="274.6" cy="439.1" r="4.5"/>
<circle cx="219.9" cy="445.9" r="4.5"/>
<circle cx="266.6" cy="485.9" r="4.5"/>
</g>
<circle cx="86.7" cy="30.9" r="3.6" fill="#b4d24e"/>
<circle cx="117.4" cy="38.4" r="3.6" fill="#b4d24e"/>
<circle cx="122.9" cy="42.1" r="3.6" fill="#eed332"/>
<circle cx="132.7" cy="50.4" r="3.6" fill="#ecca29"/>
<circle cx="80.9" cy="53.4" r="3.6" fill="#5ab861"/>
<circle cx="107.9" cy="54.9" r="3.6" fill="#ecca29"/>
<circle cx="109.7" cy="55.9" r="3.6" fill="#ecca29"/>
<circle cx="116.7" cy="61.6" r="3.6" fill="#f0e442"/>
<circle cx="98.4" cy="63.4" r="3.6" fill="#efdb3a"/>
<circle cx="115.9" cy="67.4" r="3.6" fill="#f0e442"/>
<circle cx="79.7" cy="67.9" r="3.6" fill="#1ea76d"/>
<circle cx="59.6" cy="64.9" r="3.6" fill="#78c15a"/>
<circle cx="38.6" cy="68.7" r="3.6" fill="#78c15a"/>
<circle cx="105.4" cy="69.9" r="3.6" fill="#ecca29"/>
<circle cx="105.4" cy="74.2" r="3.6" fill="#ecca29"/>
<circle cx="92.9" cy="77.2" r="3.6" fill="#f0e442"/>
<circle cx="98.4" cy="78.4" r="3.6" fill="#b4d24e"/>
<circle cx="110.4" cy="77.9" r="3.6" fill="#b4d24e"/>
<circle cx="106.7" cy="80.4" r="3.6" fill="#b4d24e"/>
<circle cx="95.4" cy="82.9" r="3.6" fill="#eed332"/>
<circle cx="101.7" cy="82.9" r="3.6" fill="#b4d24e"/>
<circle cx="109.2" cy="84.9" r="3.6" fill="#f0e442"/>
<circle cx="106.7" cy="86.7" r="3.6" fill="#efdb3a"/>
<circle cx="118.4" cy="84.2" r="3.6" fill="#efdb3a"/>
<circle cx="91.7" cy="87.9" r="3.6" fill="#eed332"/>
<circle cx="47.4" cy="79.4" r="3.6" fill="#0072b2"/>
<circle cx="41.6" cy="81.7" r="3.6" fill="#00987b"/>
<circle cx="55.4" cy="84.2" r="3.6" fill="#efdb3a"/>
<circle cx="59.1" cy="84.9" r="3.6" fill="#78c15a"/>
<circle cx="34.1" cy="89.7" r="3.6" fill="#00987b"/>
<circle cx="35.4" cy="96.2" r="3.6" fill="#96ca54"/>
<circle cx="57.9" cy="94.2" r="3.6" fill="#96ca54"/>
<circle cx="62.9" cy="98.7" r="3.6" fill="#3cb067"/>
<circle cx="84.9" cy="102.2" r="3.6" fill="#eed332"/>
<circle cx="110.9" cy="102.9" r="3.6" fill="#96ca54"/>
<circle cx="108.7" cy="106.2" r="3.6" fill="#96ca54"/>
<circle cx="111.7" cy="122.4" r="3.6" fill="#d2db48"/>
<circle cx="30.4" cy="118.7" r="3.6" fill="#78c15a"/>
<circle cx="36.6" cy="149.9" r="3.6" fill="#78c15a"/>
<circle cx="42.9" cy="149.7" r="3.6" fill="#5ab861"/>
<circle cx="51.1" cy="148.4" r="3.6" fill="#0075ae"/>
<circle cx="32.9" cy="159.7" r="3.6" fill="#78c15a"/>
<circle cx="40.9" cy="158.7" r="3.6" fill="#5ab861"/>
<circle cx="223.7" cy="115.4" r="3.6" fill="#eed332"/>
<circle cx="292.4" cy="51.9" r="3.6" fill="#96ca54"/>
<circle cx="307.9" cy="44.1" r="3.6" fill="#eab919"/>
<circle cx="307.9" cy="27.9" r="3.6" fill="#e8b010"/>
<circle cx="314.1" cy="108.7" r="3.6" fill="#00987b"/>
<circle cx="274.1" cy="141.7" r="3.6" fill="#ebc221"/>
<circle cx="278.4" cy="147.4" r="3.6" fill="#f0e442"/>
<circle cx="277.1" cy="154.2" r="3.6" fill="#ecca29"/>
<circle cx="319.1" cy="147.9" r="3.6" fill="#96ca54"/>
<circle cx="316.6" cy="169.7" r="3.6" fill="#ecca29"/>
<circle cx="327.9" cy="51.9" r="3.6" fill="#b4d24e"/>
<circle cx="357.9" cy="32.4" r="3.6" fill="#f0e442"/>
<circle cx="424.1" cy="30.9" r="3.6" fill="#eab919"/>
<circle cx="475.4" cy="35.4" r="3.6" fill="#009e73"/>
<circle cx="394.1" cy="57.1" r="3.6" fill="#009e73"/>
<circle cx="446.6" cy="52.9" r="3.6" fill="#d3652a"/>
<circle cx="459.6" cy="57.9" r="3.6" fill="#e7a808"/>
<circle cx="478.4" cy="63.6" r="3.6" fill="#efdb3a"/>
<circle cx="474.9" cy="69.9" r="3.6" fill="#e28f00"/>
<circle cx="463.6" cy="75.9" r="3.6" fill="#d76600"/>
<circle cx="447.4" cy="78.7" r="3.6" fill="#e08700"/>
<circle cx="409.9" cy="78.7" r="3.6" fill="#efdb3a"/>
<circle cx="332.9" cy="80.9" r="3.6" fill="#ebc221"/>
<circle cx="511.6" cy="51.6" r="3.6" fill="#96ca54"/>
<circle cx="497.4" cy="84.2" r="3.6" fill="#3cb067"/>
<circle cx="499.1" cy="81.2" r="3.6" fill="#b4d24e"/>
<circle cx="492.4" cy="92.9" r="3.6" fill="#e7a808"/>
<circle cx="508.4" cy="97.4" r="3.6" fill="#efdb3a"/>
<circle cx="498.4" cy="105.9" r="3.6" fill="#e7a808"/>
<circle cx="444.9" cy="91.7" r="3.6" fill="#e08700"/>
<circle cx="473.6" cy="98.7" r="3.6" fill="#e49700"/>
<circle cx="400.9" cy="92.4" r="3.6" fill="#009e73"/>
<circle cx="389.6" cy="104.7" r="3.6" fill="#009e73"/>
<circle cx="395.4" cy="114.9" r="3.6" fill="#009e73"/>
<circle cx="339.6" cy="93.4" r="3.6" fill="#5ab861"/>
<circle cx="346.6" cy="96.2" r="3.6" fill="#0078aa"/>
<circle cx="331.1" cy="99.4" r="3.6" fill="#78c15a"/>
<circle cx="340.4" cy="99.9" r="3.6" fill="#78c15a"/>
<circle cx="344.1" cy="100.4" r="3.6" fill="#008e8b"/>
<circle cx="337.9" cy="105.4" r="3.6" fill="#78c15a"/>
<circle cx="335.9" cy="113.7" r="3.6" fill="#3cb067"/>
<circle cx="340.4" cy="115.9" r="3.6" fill="#009e73"/>
<circle cx="422.4" cy="103.4" r="3.6" fill="#d96e00"/>
<circle cx="433.4" cy="100.9" r="3.6" fill="#a52a2a"/>
<circle cx="431.6" cy="106.7" r="3.6" fill="#db7600"/>
<circle cx="437.9" cy="107.4" r="3.6" fill="#d06c54"/>
<circle cx="444.1" cy="110.9" r="3.6" fill="#de7e00"/>
<circle cx="439.9" cy="113.4" r="3.6" fill="#de7e00"/>
<circle cx="431.1" cy="112.9" r="3.6" fill="#de7e00"/>
<circle cx="426.6" cy="119.7" r="3.6" fill="#e7a808"/>
<circle cx="434.1" cy="120.4" r="3.6" fill="#e7a808"/>
<circle cx="448.4" cy="127.2" r="3.6" fill="#e69f00"/>
<circle cx="474.6" cy="127.4" r="3.6" fill="#eed332"/>
<circle cx="434.6" cy="135.9" r="3.6" fill="#eab919"/>
<circle cx="451.1" cy="140.9" r="3.6" fill="#e7a808"/>
<circle cx="495.4" cy="126.7" r="3.6" fill="#efdb3a"/>
<circle cx="499.1" cy="123.4" r="3.6" fill="#eed332"/>
<circle cx="505.4" cy="124.9" r="3.6" fill="#efdb3a"/>
<circle cx="504.1" cy="128.4" r="3.6" fill="#f0e442"/>
<circle cx="510.4" cy="132.9" r="3.6" fill="#b4d24e"/>
<circle cx="482.4" cy="153.7" r="3.6" fill="#efdb3a"/>
<circle cx="477.4" cy="156.7" r="3.6" fill="#d2db48"/>
<circle cx="507.4" cy="158.4" r="3.6" fill="#009383"/>
<circle cx="352.9" cy="146.2" r="3.6" fill="#1ea76d"/>
<circle cx="344.6" cy="159.7" r="3.6" fill="#1ea76d"/>
<circle cx="370.4" cy="157.9" r="3.6" fill="#0078aa"/>
<circle cx="372.1" cy="156.7" r="3.6" fill="#007da2"/>
<circle cx="334.9" cy="169.2" r="3.6" fill="#5ab861"/>
<circle cx="32.9" cy="180.9" r="3.6" fill="#efdb3a"/>
<circle cx="60.9" cy="179.7" r="3.6" fill="#008e8b"/>
<circle cx="73.4" cy="197.2" r="3.6" fill="#78c15a"/>
<circle cx="61.6" cy="205.4" r="3.6" fill="#5ab861"/>
<circle cx="62.4" cy="209.2" r="3.6" fill="#3cb067"/>
<circle cx="58.4" cy="212.2" r="3.6" fill="#009383"/>
<circle cx="55.9" cy="219.2" r="3.6" fill="#78c15a"/>
<circle cx="175.4" cy="226.7" r="3.6" fill="#b4d24e"/>
<circle cx="240.4" cy="191.7" r="3.6" fill="#ecca29"/>
<circle cx="300.4" cy="194.2" r="3.6" fill="#5ab861"/>
<circle cx="309.1" cy="190.4" r="3.6" fill="#ebc221"/>
<circle cx="314.6" cy="192.9" r="3.6" fill="#96ca54"/>
<circle cx="308.6" cy="198.4" r="3.6" fill="#b4d24e"/>
<circle cx="274.6" cy="208.4" r="3.6" fill="#f0e442"/>
<circle cx="267.9" cy="212.2" r="3.6" fill="#d2db48"/>
<circle cx="279.1" cy="212.2" r="3.6" fill="#f0e442"/>
<circle cx="274.1" cy="217.2" r="3.6" fill="#efdb3a"/>
<circle cx="273.4" cy="226.7" r="3.6" fill="#ecca29"/>
<circle cx="292.9" cy="232.4" r="3.6" fill="#96ca54"/>
<circle cx="314.6" cy="229.7" r="3.6" fill="#b4d24e"/>
<circle cx="251.7" cy="236.7" r="3.6" fill="#eed332"/>
<circle cx="260.9" cy="248.7" r="3.6" fill="#ebc221"/>
<circle cx="274.6" cy="248.2" r="3.6" fill="#eab919"/>
<circle cx="293.4" cy="249.2" r="3.6" fill="#ebc221"/>
<circle cx="286.6" cy="272.9" r="3.6" fill="#e7a808"/>
<circle cx="280.9" cy="278.4" r="3.6" fill="#cf6f68"/>
<circle cx="290.9" cy="280.4" r="3.6" fill="#e7a808"/>
<circle cx="306.6" cy="280.4" r="3.6" fill="#009e73"/>
<circle cx="273.6" cy="285.4" r="3.6" fill="#e8b010"/>
<circle cx="278.4" cy="287.1" r="3.6" fill="#eab919"/>
<circle cx="284.1" cy="285.4" r="3.6" fill="#e8b010"/>
<circle cx="290.4" cy="287.4" r="3.6" fill="#efdb3a"/>
<circle cx="298.6" cy="286.6" r="3.6" fill="#009383"/>
<circle cx="263.6" cy="288.4" r="3.6" fill="#96ca54"/>
<circle cx="276.6" cy="290.9" r="3.6" fill="#ebc221"/>
<circle cx="282.9" cy="294.1" r="3.6" fill="#efdb3a"/>
<circle cx="288.4" cy="294.1" r="3.6" fill="#efdb3a"/>
<circle cx="302.1" cy="297.4" r="3.6" fill="#efdb3a"/>
<circle cx="266.1" cy="299.9" r="3.6" fill="#efdb3a"/>
<circle cx="136.7" cy="287.4" r="3.6" fill="#96ca54"/>
<circle cx="108.4" cy="295.4" r="3.6" fill="#b4d24e"/>
<circle cx="103.4" cy="299.9" r="3.6" fill="#b4d24e"/>
<circle cx="54.9" cy="299.9" r="3.6" fill="#009e73"/>
<circle cx="325.9" cy="189.9" r="3.6" fill="#b4d24e"/>
<circle cx="352.4" cy="190.4" r="3.6" fill="#eed332"/>
<circle cx="351.6" cy="195.9" r="3.6" fill="#efdb3a"/>
<circle cx="373.6" cy="199.9" r="3.6" fill="#eab919"/>
<circle cx="339.9" cy="203.7" r="3.6" fill="#eed332"/>
<circle cx="343.6" cy="213.7" r="3.6" fill="#96ca54"/>
<circle cx="397.4" cy="230.4" r="3.6" fill="#6faacb"/>
<circle cx="397.4" cy="228.4" r="3.6" fill="#d76600"/>
<circle cx="353.4" cy="240.9" r="3.6" fill="#009383"/>
<circle cx="378.6" cy="248.4" r="3.6" fill="#ecca29"/>
<circle cx="452.9" cy="208.4" r="3.6" fill="#96ca54"/>
<circle cx="445.4" cy="214.2" r="3.6" fill="#ebc221"/>
<circle cx="449.6" cy="213.4" r="3.6" fill="#5ab861"/>
<circle cx="453.6" cy="215.4" r="3.6" fill="#96ca54"/>
<circle cx="451.1" cy="224.9" r="3.6" fill="#5ab861"/>
<circle cx="481.6" cy="238.7" r="3.6" fill="#009e73"/>
<circle cx="457.4" cy="248.7" r="3.6" fill="#009383"/>
<circle cx="435.9" cy="257.9" r="3.6" fill="#3cb067"/>
<circle cx="512.4" cy="186.2" r="3.6" fill="#00829a"/>
<circle cx="512.9" cy="269.9" r="3.6" fill="#00829a"/>
<circle cx="487.1" cy="294.1" r="3.6" fill="#0072b2"/>
<circle cx="498.4" cy="293.4" r="3.6" fill="#369bd4"/>
<circle cx="451.1" cy="297.4" r="3.6" fill="#5ab861"/>
<circle cx="406.1" cy="295.4" r="3.6" fill="#ebc221"/>
<circle cx="354.1" cy="293.6" r="3.6" fill="#ebc221"/>
<circle cx="361.6" cy="292.4" r="3.6" fill="#eab919"/>
<circle cx="365.4" cy="296.6" r="3.6" fill="#efdb3a"/>
<circle cx="49.9" cy="303.4" r="3.6" fill="#1ea76d"/>
<circle cx="47.1" cy="306.6" r="3.6" fill="#1ea76d"/>
<circle cx="56.6" cy="307.9" r="3.6" fill="#00829a"/>
<circle cx="51.6" cy="306.1" r="3.6" fill="#009e73"/>
<circle cx="56.6" cy="312.1" r="3.6" fill="#5ab861"/>
<circle cx="128.4" cy="388.4" r="3.6" fill="#5ab861"/>
<circle cx="274.9" cy="303.6" r="3.6" fill="#efdb3a"/>
<circle cx="288.6" cy="308.6" r="3.6" fill="#96ca54"/>
<circle cx="300.4" cy="312.9" r="3.6" fill="#b4d24e"/>
<circle cx="283.6" cy="324.6" r="3.6" fill="#ecca29"/>
<circle cx="267.9" cy="340.9" r="3.6" fill="#3cb067"/>
<circle cx="274.9" cy="339.9" r="3.6" fill="#1ea76d"/>
<circle cx="263.6" cy="358.6" r="3.6" fill="#00987b"/>
<circle cx="266.6" cy="362.1" r="3.6" fill="#009e73"/>
<circle cx="244.2" cy="387.1" r="3.6" fill="#3cb067"/>
<circle cx="245.9" cy="383.4" r="3.6" fill="#1ea76d"/>
<circle cx="252.2" cy="394.1" r="3.6" fill="#008e8b"/>
<circle cx="285.4" cy="407.4" r="3.6" fill="#0078aa"/>
<circle cx="324.1" cy="303.6" r="3.6" fill="#b4d24e"/>
<circle cx="341.6" cy="302.4" r="3.6" fill="#ebc221"/>
<circle cx="343.6" cy="351.6" r="3.6" fill="#008892"/>
<circle cx="324.9" cy="362.1" r="3.6" fill="#ebc221"/>
<circle cx="318.6" cy="371.6" r="3.6" fill="#a52a2a"/>
<circle cx="340.4" cy="381.6" r="3.6" fill="#f0e442"/>
<circle cx="324.1" cy="375.9" r="3.6" fill="#efdb3a"/>
<circle cx="329.1" cy="376.6" r="3.6" fill="#f0e442"/>
<circle cx="335.9" cy="377.4" r="3.6" fill="#f0e442"/>
<circle cx="320.4" cy="381.1" r="3.6" fill="#009e73"/>
<circle cx="325.4" cy="381.6" r="3.6" fill="#ecca29"/>
<circle cx="329.9" cy="380.4" r="3.6" fill="#78c15a"/>
<circle cx="334.1" cy="382.4" r="3.6" fill="#009383"/>
<circle cx="327.9" cy="384.9" r="3.6" fill="#3cb067"/>
<circle cx="335.9" cy="385.4" r="3.6" fill="#009383"/>
<circle cx="326.1" cy="387.9" r="3.6" fill="#5ab861"/>
<circle cx="339.9" cy="394.6" r="3.6" fill="#b4d24e"/>
<circle cx="324.6" cy="400.9" r="3.6" fill="#96ca54"/>
<circle cx="359.1" cy="370.4" r="3.6" fill="#b4d24e"/>
<circle cx="366.6" cy="368.6" r="3.6" fill="#96ca54"/>
<circle cx="371.1" cy="364.6" r="3.6" fill="#b4d24e"/>
<circle cx="377.1" cy="367.1" r="3.6" fill="#e8b010"/>
<circle cx="361.1" cy="373.4" r="3.6" fill="#5ab861"/>
<circle cx="362.4" cy="376.6" r="3.6" fill="#00987b"/>
<circle cx="364.1" cy="379.6" r="3.6" fill="#009383"/>
<circle cx="409.6" cy="362.4" r="3.6" fill="#b4d24e"/>
<circle cx="414.6" cy="366.6" r="3.6" fill="#96ca54"/>
<circle cx="425.9" cy="347.9" r="3.6" fill="#f0e442"/>
<circle cx="433.6" cy="347.1" r="3.6" fill="#d2db48"/>
<circle cx="430.4" cy="354.1" r="3.6" fill="#e69f00"/>
<circle cx="427.9" cy="361.6" r="3.6" fill="#f0e442"/>
<circle cx="432.9" cy="362.1" r="3.6" fill="#d2683f"/>
<circle cx="436.6" cy="360.4" r="3.6" fill="#e7a808"/>
<circle cx="440.9" cy="358.4" r="3.6" fill="#eab919"/>
<circle cx="441.1" cy="367.1" r="3.6" fill="#ebc221"/>
<circle cx="446.1" cy="365.4" r="3.6" fill="#f0e442"/>
<circle cx="442.9" cy="374.6" r="3.6" fill="#ecca29"/>
<circle cx="455.9" cy="353.6" r="3.6" fill="#b4d24e"/>
<circle cx="454.6" cy="365.4" r="3.6" fill="#efdb3a"/>
<circle cx="463.6" cy="367.9" r="3.6" fill="#f0e442"/>
<circle cx="476.1" cy="355.4" r="3.6" fill="#78c15a"/>
<circle cx="484.6" cy="352.4" r="3.6" fill="#96ca54"/>
<circle cx="497.1" cy="352.1" r="3.6" fill="#3cb067"/>
<circle cx="506.6" cy="347.9" r="3.6" fill="#009e73"/>
<circle cx="507.4" cy="339.1" r="3.6" fill="#00987b"/>
<circle cx="512.9" cy="346.6" r="3.6" fill="#009e73"/>
<circle cx="271.1" cy="437.1" r="3.6" fill="#0072b2"/>
<circle cx="274.6" cy="439.1" r="3.6" fill="#0b7ab9"/>
<circle cx="219.9" cy="445.9" r="3.6" fill="#0078aa"/>
<circle cx="266.6" cy="485.9" r="3.6" fill="#0b7ab9"/>
</g>
<g clip-path="url(#cr)">
<g fill="#000">
<circle cx="686.6" cy="30.9" r="4.5"/>
<circle cx="717.4" cy="38.4" r="4.5"/>
<circle cx="722.9" cy="42.1" r="4.5"/>
<circle cx="732.6" cy="50.4" r="4.5"/>
<circle cx="680.9" cy="53.4" r="4.5"/>
<circle cx="707.9" cy="54.9" r="4.5"/>
<circle cx="709.6" cy="55.9" r="4.5"/>
<circle cx="716.6" cy="61.6" r="4.5"/>
<circle cx="698.4" cy="63.4" r="4.5"/>
<circle cx="715.9" cy="67.4" r="4.5"/>
<circle cx="679.6" cy="67.9" r="4.5"/>
<circle cx="659.6" cy="64.9" r="4.5"/>
<circle cx="638.6" cy="68.7" r="4.5"/>
<circle cx="705.4" cy="69.9" r="4.5"/>
<circle cx="705.4" cy="74.2" r="4.5"/>
<circle cx="692.9" cy="77.2" r="4.5"/>
<circle cx="698.4" cy="78.4" r="4.5"/>
<circle cx="710.4" cy="77.9" r="4.5"/>
<circle cx="706.6" cy="80.4" r="4.5"/>
<circle cx="695.4" cy="82.9" r="4.5"/>
<circle cx="701.6" cy="82.9" r="4.5"/>
<circle cx="709.1" cy="84.9" r="4.5"/>
<circle cx="706.6" cy="86.7" r="4.5"/>
<circle cx="718.4" cy="84.2" r="4.5"/>
<circle cx="691.6" cy="87.9" r="4.5"/>
<circle cx="647.4" cy="79.4" r="4.5"/>
<circle cx="641.6" cy="81.7" r="4.5"/>
<circle cx="655.4" cy="84.2" r="4.5"/>
<circle cx="659.1" cy="84.9" r="4.5"/>
<circle cx="634.1" cy="89.7" r="4.5"/>
<circle cx="635.4" cy="96.2" r="4.5"/>
<circle cx="657.9" cy="94.2" r="4.5"/>
<circle cx="662.9" cy="98.7" r="4.5"/>
<circle cx="684.9" cy="102.2" r="4.5"/>
<circle cx="710.9" cy="102.9" r="4.5"/>
<circle cx="708.6" cy="106.2" r="4.5"/>
<circle cx="711.6" cy="122.4" r="4.5"/>
<circle cx="630.4" cy="118.7" r="4.5"/>
<circle cx="636.6" cy="149.9" r="4.5"/>
<circle cx="642.9" cy="149.7" r="4.5"/>
<circle cx="651.1" cy="148.4" r="4.5"/>
<circle cx="632.9" cy="159.7" r="4.5"/>
<circle cx="640.9" cy="158.7" r="4.5"/>
<circle cx="823.6" cy="115.4" r="4.5"/>
<circle cx="892.4" cy="51.9" r="4.5"/>
<circle cx="907.9" cy="44.1" r="4.5"/>
<circle cx="907.9" cy="27.9" r="4.5"/>
<circle cx="914.1" cy="108.7" r="4.5"/>
<circle cx="874.1" cy="141.7" r="4.5"/>
<circle cx="878.4" cy="147.4" r="4.5"/>
<circle cx="877.1" cy="154.2" r="4.5"/>
<circle cx="919.1" cy="147.9" r="4.5"/>
<circle cx="916.6" cy="169.7" r="4.5"/>
<circle cx="927.9" cy="51.9" r="4.5"/>
<circle cx="957.9" cy="32.4" r="4.5"/>
<circle cx="1024.2" cy="30.9" r="4.5"/>
<circle cx="1075.4" cy="35.4" r="4.5"/>
<circle cx="994.1" cy="57.1" r="4.5"/>
<circle cx="1046.7" cy="52.9" r="4.5"/>
<circle cx="1059.7" cy="57.9" r="4.5"/>
<circle cx="1078.4" cy="63.6" r="4.5"/>
<circle cx="1074.9" cy="69.9" r="4.5"/>
<circle cx="1063.7" cy="75.9" r="4.5"/>
<circle cx="1047.4" cy="78.7" r="4.5"/>
<circle cx="1009.9" cy="78.7" r="4.5"/>
<circle cx="932.9" cy="80.9" r="4.5"/>
<circle cx="1111.7" cy="51.6" r="4.5"/>
<circle cx="1097.4" cy="84.2" r="4.5"/>
<circle cx="1099.2" cy="81.2" r="4.5"/>
<circle cx="1092.4" cy="92.9" r="4.5"/>
<circle cx="1108.4" cy="97.4" r="4.5"/>
<circle cx="1098.4" cy="105.9" r="4.5"/>
<circle cx="1044.9" cy="91.7" r="4.5"/>
<circle cx="1073.7" cy="98.7" r="4.5"/>
<circle cx="1000.9" cy="92.4" r="4.5"/>
<circle cx="989.6" cy="104.7" r="4.5"/>
<circle cx="995.4" cy="114.9" r="4.5"/>
<circle cx="939.6" cy="93.4" r="4.5"/>
<circle cx="946.6" cy="96.2" r="4.5"/>
<circle cx="931.1" cy="99.4" r="4.5"/>
<circle cx="940.4" cy="99.9" r="4.5"/>
<circle cx="944.1" cy="100.4" r="4.5"/>
<circle cx="937.9" cy="105.4" r="4.5"/>
<circle cx="935.9" cy="113.7" r="4.5"/>
<circle cx="940.4" cy="115.9" r="4.5"/>
<circle cx="1022.4" cy="103.4" r="4.5"/>
<circle cx="1033.4" cy="100.9" r="4.5"/>
<circle cx="1031.7" cy="106.7" r="4.5"/>
<circle cx="1037.9" cy="107.4" r="4.5"/>
<circle cx="1044.2" cy="110.9" r="4.5"/>
<circle cx="1039.9" cy="113.4" r="4.5"/>
<circle cx="1031.2" cy="112.9" r="4.5"/>
<circle cx="1026.7" cy="119.7" r="4.5"/>
<circle cx="1034.2" cy="120.4" r="4.5"/>
<circle cx="1048.4" cy="127.2" r="4.5"/>
<circle cx="1074.7" cy="127.4" r="4.5"/>
<circle cx="1034.7" cy="135.9" r="4.5"/>
<circle cx="1051.2" cy="140.9" r="4.5"/>
<circle cx="1095.4" cy="126.7" r="4.5"/>
<circle cx="1099.2" cy="123.4" r="4.5"/>
<circle cx="1105.4" cy="124.9" r="4.5"/>
<circle cx="1104.2" cy="128.4" r="4.5"/>
<circle cx="1110.4" cy="132.9" r="4.5"/>
<circle cx="1082.4" cy="153.7" r="4.5"/>
<circle cx="1077.4" cy="156.7" r="4.5"/>
<circle cx="1107.4" cy="158.4" r="4.5"/>
<circle cx="952.9" cy="146.2" r="4.5"/>
<circle cx="944.6" cy="159.7" r="4.5"/>
<circle cx="970.4" cy="157.9" r="4.5"/>
<circle cx="972.1" cy="156.7" r="4.5"/>
<circle cx="934.9" cy="169.2" r="4.5"/>
<circle cx="632.9" cy="180.9" r="4.5"/>
<circle cx="660.9" cy="179.7" r="4.5"/>
<circle cx="673.4" cy="197.2" r="4.5"/>
<circle cx="661.6" cy="205.4" r="4.5"/>
<circle cx="662.4" cy="209.2" r="4.5"/>
<circle cx="658.4" cy="212.2" r="4.5"/>
<circle cx="655.9" cy="219.2" r="4.5"/>
<circle cx="775.4" cy="226.7" r="4.5"/>
<circle cx="840.4" cy="191.7" r="4.5"/>
<circle cx="900.4" cy="194.2" r="4.5"/>
<circle cx="909.1" cy="190.4" r="4.5"/>
<circle cx="914.6" cy="192.9" r="4.5"/>
<circle cx="908.6" cy="198.4" r="4.5"/>
<circle cx="874.6" cy="208.4" r="4.5"/>
<circle cx="867.9" cy="212.2" r="4.5"/>
<circle cx="879.1" cy="212.2" r="4.5"/>
<circle cx="874.1" cy="217.2" r="4.5"/>
<circle cx="873.4" cy="226.7" r="4.5"/>
<circle cx="892.9" cy="232.4" r="4.5"/>
<circle cx="914.6" cy="229.7" r="4.5"/>
<circle cx="851.6" cy="236.7" r="4.5"/>
<circle cx="860.9" cy="248.7" r="4.5"/>
<circle cx="874.6" cy="248.2" r="4.5"/>
<circle cx="893.4" cy="249.2" r="4.5"/>
<circle cx="886.6" cy="272.9" r="4.5"/>
<circle cx="880.9" cy="278.4" r="4.5"/>
<circle cx="890.9" cy="280.4" r="4.5"/>
<circle cx="906.6" cy="280.4" r="4.5"/>
<circle cx="873.6" cy="285.4" r="4.5"/>
<circle cx="878.4" cy="287.1" r="4.5"/>
<circle cx="884.1" cy="285.4" r="4.5"/>
<circle cx="890.4" cy="287.4" r="4.5"/>
<circle cx="898.6" cy="286.6" r="4.5"/>
<circle cx="863.6" cy="288.4" r="4.5"/>
<circle cx="876.6" cy="290.9" r="4.5"/>
<circle cx="882.9" cy="294.1" r="4.5"/>
<circle cx="888.4" cy="294.1" r="4.5"/>
<circle cx="902.1" cy="297.4" r="4.5"/>
<circle cx="866.1" cy="299.9" r="4.5"/>
<circle cx="736.6" cy="287.4" r="4.5"/>
<circle cx="708.4" cy="295.4" r="4.5"/>
<circle cx="703.4" cy="299.9" r="4.5"/>
<circle cx="654.9" cy="299.9" r="4.5"/>
<circle cx="925.9" cy="189.9" r="4.5"/>
<circle cx="952.4" cy="190.4" r="4.5"/>
<circle cx="951.6" cy="195.9" r="4.5"/>
<circle cx="973.6" cy="199.9" r="4.5"/>
<circle cx="939.9" cy="203.7" r="4.5"/>
<circle cx="943.6" cy="213.7" r="4.5"/>
<circle cx="997.4" cy="230.4" r="4.5"/>
<circle cx="997.4" cy="228.4" r="4.5"/>
<circle cx="953.4" cy="240.9" r="4.5"/>
<circle cx="978.6" cy="248.4" r="4.5"/>
<circle cx="1052.9" cy="208.4" r="4.5"/>
<circle cx="1045.4" cy="214.2" r="4.5"/>
<circle cx="1049.7" cy="213.4" r="4.5"/>
<circle cx="1053.7" cy="215.4" r="4.5"/>
<circle cx="1051.2" cy="224.9" r="4.5"/>
<circle cx="1081.7" cy="238.7" r="4.5"/>
<circle cx="1057.4" cy="248.7" r="4.5"/>
<circle cx="1035.9" cy="257.9" r="4.5"/>
<circle cx="1112.4" cy="186.2" r="4.5"/>
<circle cx="1112.9" cy="269.9" r="4.5"/>
<circle cx="1087.2" cy="294.1" r="4.5"/>
<circle cx="1098.4" cy="293.4" r="4.5"/>
<circle cx="1051.2" cy="297.4" r="4.5"/>
<circle cx="1006.1" cy="295.4" r="4.5"/>
<circle cx="954.1" cy="293.6" r="4.5"/>
<circle cx="961.6" cy="292.4" r="4.5"/>
<circle cx="965.4" cy="296.6" r="4.5"/>
<circle cx="649.9" cy="303.4" r="4.5"/>
<circle cx="647.1" cy="306.6" r="4.5"/>
<circle cx="656.6" cy="307.9" r="4.5"/>
<circle cx="651.6" cy="306.1" r="4.5"/>
<circle cx="656.6" cy="312.1" r="4.5"/>
<circle cx="728.4" cy="388.4" r="4.5"/>
<circle cx="874.9" cy="303.6" r="4.5"/>
<circle cx="888.6" cy="308.6" r="4.5"/>
<circle cx="900.4" cy="312.9" r="4.5"/>
<circle cx="883.6" cy="324.6" r="4.5"/>
<circle cx="867.9" cy="340.9" r="4.5"/>
<circle cx="874.9" cy="339.9" r="4.5"/>
<circle cx="863.6" cy="358.6" r="4.5"/>
<circle cx="866.6" cy="362.1" r="4.5"/>
<circle cx="844.1" cy="387.1" r="4.5"/>
<circle cx="845.9" cy="383.4" r="4.5"/>
<circle cx="852.1" cy="394.1" r="4.5"/>
<circle cx="885.4" cy="407.4" r="4.5"/>
<circle cx="924.1" cy="303.6" r="4.5"/>
<circle cx="941.6" cy="302.4" r="4.5"/>
<circle cx="943.6" cy="351.6" r="4.5"/>
<circle cx="924.9" cy="362.1" r="4.5"/>
<circle cx="918.6" cy="371.6" r="4.5"/>
<circle cx="940.4" cy="381.6" r="4.5"/>
<circle cx="924.1" cy="375.9" r="4.5"/>
<circle cx="929.1" cy="376.6" r="4.5"/>
<circle cx="935.9" cy="377.4" r="4.5"/>
<circle cx="920.4" cy="381.1" r="4.5"/>
<circle cx="925.4" cy="381.6" r="4.5"/>
<circle cx="929.9" cy="380.4" r="4.5"/>
<circle cx="934.1" cy="382.4" r="4.5"/>
<circle cx="927.9" cy="384.9" r="4.5"/>
<circle cx="935.9" cy="385.4" r="4.5"/>
<circle cx="926.1" cy="387.9" r="4.5"/>
<circle cx="939.9" cy="394.6" r="4.5"/>
<circle cx="924.6" cy="400.9" r="4.5"/>
<circle cx="959.1" cy="370.4" r="4.5"/>
<circle cx="966.6" cy="368.6" r="4.5"/>
<circle cx="971.1" cy="364.6" r="4.5"/>
<circle cx="977.1" cy="367.1" r="4.5"/>
<circle cx="961.1" cy="373.4" r="4.5"/>
<circle cx="962.4" cy="376.6" r="4.5"/>
<circle cx="964.1" cy="379.6" r="4.5"/>
<circle cx="1009.6" cy="362.4" r="4.5"/>
<circle cx="1014.6" cy="366.6" r="4.5"/>
<circle cx="1025.9" cy="347.9" r="4.5"/>
<circle cx="1033.7" cy="347.1" r="4.5"/>
<circle cx="1030.4" cy="354.1" r="4.5"/>
<circle cx="1027.9" cy="361.6" r="4.5"/>
<circle cx="1032.9" cy="362.1" r="4.5"/>
<circle cx="1036.7" cy="360.4" r="4.5"/>
<circle cx="1040.9" cy="358.4" r="4.5"/>
<circle cx="1041.2" cy="367.1" r="4.5"/>
<circle cx="1046.2" cy="365.4" r="4.5"/>
<circle cx="1042.9" cy="374.6" r="4.5"/>
<circle cx="1055.9" cy="353.6" r="4.5"/>
<circle cx="1054.7" cy="365.4" r="4.5"/>
<circle cx="1063.7" cy="367.9" r="4.5"/>
<circle cx="1076.2" cy="355.4" r="4.5"/>
<circle cx="1084.7" cy="352.4" r="4.5"/>
<circle cx="1097.2" cy="352.1" r="4.5"/>
<circle cx="1106.7" cy="347.9" r="4.5"/>
<circle cx="1107.4" cy="339.1" r="4.5"/>
<circle cx="1112.9" cy="346.6" r="4.5"/>
<circle cx="871.1" cy="437.1" r="4.5"/>
<circle cx="874.6" cy="439.1" r="4.5"/>
<circle cx="819.9" cy="445.9" r="4.5"/>
<circle cx="866.6" cy="485.9" r="4.5"/>
</g>
<circle cx="686.6" cy="30.9" r="3.6" fill="#97d297"/>
<circle cx="717.4" cy="38.4" r="3.6" fill="#bedbbe"/>
<circle cx="722.9" cy="42.1" r="3.6" fill="#aad7aa"/>
<circle cx="732.6" cy="50.4" r="3.6" fill="#97d297"/>
<circle cx="680.9" cy="53.4" r="3.6" fill="#97d297"/>
<circle cx="707.9" cy="54.9" r="3.6" fill="#83cd83"/>
<circle cx="709.6" cy="55.9" r="3.6" fill="#e5e5e5"/>
<circle cx="716.6" cy="61.6" r="3.6" fill="#e5e5e5"/>
<circle cx="698.4" cy="63.4" r="3.6" fill="#e8e5b6"/>
<circle cx="715.9" cy="67.4" r="3.6" fill="#e5e5e5"/>
<circle cx="679.6" cy="67.9" r="3.6" fill="#aad7aa"/>
<circle cx="659.6" cy="64.9" r="3.6" fill="#97d297"/>
<circle cx="638.6" cy="68.7" r="3.6" fill="#97d297"/>
<circle cx="705.4" cy="69.9" r="3.6" fill="#ebe487"/>
<circle cx="705.4" cy="74.2" r="3.6" fill="#97d297"/>
<circle cx="692.9" cy="77.2" r="3.6" fill="#97d297"/>
<circle cx="698.4" cy="78.4" r="3.6" fill="#e5e5e5"/>
<circle cx="710.4" cy="77.9" r="3.6" fill="#ebe487"/>
<circle cx="706.6" cy="80.4" r="3.6" fill="#e5e5e5"/>
<circle cx="695.4" cy="82.9" r="3.6" fill="#39b378"/>
<circle cx="701.6" cy="82.9" r="3.6" fill="#bedbbe"/>
<circle cx="709.1" cy="84.9" r="3.6" fill="#d1e0d1"/>
<circle cx="706.6" cy="86.7" r="3.6" fill="#aad7aa"/>
<circle cx="718.4" cy="84.2" r="3.6" fill="#97d297"/>
<circle cx="691.6" cy="87.9" r="3.6" fill="#39b378"/>
<circle cx="647.4" cy="79.4" r="3.6" fill="#ebbe1e"/>
<circle cx="641.6" cy="81.7" r="3.6" fill="#e5e5e5"/>
<circle cx="655.4" cy="84.2" r="3.6" fill="#52bc7b"/>
<circle cx="659.1" cy="84.9" r="3.6" fill="#97d297"/>
<circle cx="634.1" cy="89.7" r="3.6" fill="#e5e5e5"/>
<circle cx="635.4" cy="96.2" r="3.6" fill="#83cd83"/>
<circle cx="657.9" cy="94.2" r="3.6" fill="#83cd83"/>
<circle cx="662.9" cy="98.7" r="3.6" fill="#e5e5e5"/>
<circle cx="684.9" cy="102.2" r="3.6" fill="#20aa76"/>
<circle cx="710.9" cy="102.9" r="3.6" fill="#e8e5b6"/>
<circle cx="708.6" cy="106.2" r="3.6" fill="#e5e5e5"/>
<circle cx="711.6" cy="122.4" r="3.6" fill="#97d297"/>
<circle cx="630.4" cy="118.7" r="3.6" fill="#bedbbe"/>
<circle cx="636.6" cy="149.9" r="3.6" fill="#97d297"/>
<circle cx="642.9" cy="149.7" r="3.6" fill="#97d297"/>
<circle cx="651.1" cy="148.4" r="3.6" fill="#ebbe1e"/>
<circle cx="632.9" cy="159.7" r="3.6" fill="#83cd83"/>
<circle cx="640.9" cy="158.7" r="3.6" fill="#97d297"/>
<circle cx="823.6" cy="115.4" r="3.6" fill="#20aa76"/>
<circle cx="892.4" cy="51.9" r="3.6" fill="#e5e5e5"/>
<circle cx="907.9" cy="44.1" r="3.6" fill="#6bc57d"/>
<circle cx="907.9" cy="27.9" r="3.6" fill="#20aa76"/>
<circle cx="914.1" cy="108.7" r="3.6" fill="#f0e448"/>
<circle cx="874.1" cy="141.7" r="3.6" fill="#52bc7b"/>
<circle cx="878.4" cy="147.4" r="3.6" fill="#e5e5e5"/>
<circle cx="877.1" cy="154.2" r="3.6" fill="#aad7aa"/>
<circle cx="919.1" cy="147.9" r="3.6" fill="#ece477"/>
<circle cx="916.6" cy="169.7" r="3.6" fill="#e5e5e5"/>
<circle cx="927.9" cy="51.9" r="3.6" fill="#e5e5e5"/>
<circle cx="957.9" cy="32.4" r="3.6" fill="#97d297"/>
<circle cx="1024.2" cy="30.9" r="3.6" fill="#e8e5b6"/>
<circle cx="1075.4" cy="35.4" r="3.6" fill="#efe458"/>
<circle cx="994.1" cy="57.1" r="3.6" fill="#eae597"/>
<circle cx="1046.7" cy="52.9" r="3.6" fill="#20aa76"/>
<circle cx="1059.7" cy="57.9" r="3.6" fill="#97d297"/>
<circle cx="1078.4" cy="63.6" r="3.6" fill="#97d297"/>
<circle cx="1074.9" cy="69.9" r="3.6" fill="#0072b2"/>
<circle cx="1063.7" cy="75.9" r="3.6" fill="#2222ff"/>
<circle cx="1047.4" cy="78.7" r="3.6" fill="#07a174"/>
<circle cx="1009.9" cy="78.7" r="3.6" fill="#e8e5b6"/>
<circle cx="932.9" cy="80.9" r="3.6" fill="#ece477"/>
<circle cx="1111.7" cy="51.6" r="3.6" fill="#83cd83"/>
<circle cx="1097.4" cy="84.2" r="3.6" fill="#f0e448"/>
<circle cx="1099.2" cy="81.2" r="3.6" fill="#e5e5e5"/>
<circle cx="1092.4" cy="92.9" r="3.6" fill="#83cd83"/>
<circle cx="1108.4" cy="97.4" r="3.6" fill="#97d297"/>
<circle cx="1098.4" cy="105.9" r="3.6" fill="#83cd83"/>
<circle cx="1044.9" cy="91.7" r="3.6" fill="#009088"/>
<circle cx="1073.7" cy="98.7" r="3.6" fill="#00987b"/>
<circle cx="1000.9" cy="92.4" r="3.6" fill="#ece477"/>
<circle cx="989.6" cy="104.7" r="3.6" fill="#ebe487"/>
<circle cx="995.4" cy="114.9" r="3.6" fill="#e9e5a6"/>
<circle cx="939.6" cy="93.4" r="3.6" fill="#eab717"/>
<circle cx="946.6" cy="96.2" r="3.6" fill="#dd7d00"/>
<circle cx="931.1" cy="99.4" r="3.6" fill="#eae597"/>
<circle cx="940.4" cy="99.9" r="3.6" fill="#eab717"/>
<circle cx="944.1" cy="100.4" r="3.6" fill="#eab717"/>
<circle cx="937.9" cy="105.4" r="3.6" fill="#efe03e"/>
<circle cx="935.9" cy="113.7" r="3.6" fill="#eccc2b"/>
<circle cx="940.4" cy="115.9" r="3.6" fill="#eccc2b"/>
<circle cx="1022.4" cy="103.4" r="3.6" fill="#07a174"/>
<circle cx="1033.4" cy="100.9" r="3.6" fill="#1d2df5"/>
<circle cx="1031.7" cy="106.7" r="3.6" fill="#6bc57d"/>
<circle cx="1037.9" cy="107.4" r="3.6" fill="#007fa0"/>
<circle cx="1044.2" cy="110.9" r="3.6" fill="#97d297"/>
<circle cx="1039.9" cy="113.4" r="3.6" fill="#97d297"/>
<circle cx="1031.2" cy="112.9" r="3.6" fill="#20aa76"/>
<circle cx="1026.7" cy="119.7" r="3.6" fill="#20aa76"/>
<circle cx="1034.2" cy="120.4" r="3.6" fill="#07a174"/>
<circle cx="1048.4" cy="127.2" r="3.6" fill="#39b378"/>
<circle cx="1074.7" cy="127.4" r="3.6" fill="#bedbbe"/>
<circle cx="1034.7" cy="135.9" r="3.6" fill="#07a174"/>
<circle cx="1051.2" cy="140.9" r="3.6" fill="#07a174"/>
<circle cx="1095.4" cy="126.7" r="3.6" fill="#e5e5e5"/>
<circle cx="1099.2" cy="123.4" r="3.6" fill="#e5e5e5"/>
<circle cx="1105.4" cy="124.9" r="3.6" fill="#97d297"/>
<circle cx="1104.2" cy="128.4" r="3.6" fill="#eae597"/>
<circle cx="1110.4" cy="132.9" r="3.6" fill="#e5e5e5"/>
<circle cx="1082.4" cy="153.7" r="3.6" fill="#52bc7b"/>
<circle cx="1077.4" cy="156.7" r="3.6" fill="#bedbbe"/>
<circle cx="1107.4" cy="158.4" r="3.6" fill="#f0e448"/>
<circle cx="952.9" cy="146.2" r="3.6" fill="#e5e5e5"/>
<circle cx="944.6" cy="159.7" r="3.6" fill="#e9e5a6"/>
<circle cx="970.4" cy="157.9" r="3.6" fill="#d76400"/>
<circle cx="972.1" cy="156.7" r="3.6" fill="#e59c00"/>
<circle cx="934.9" cy="169.2" r="3.6" fill="#bedbbe"/>
<circle cx="632.9" cy="180.9" r="3.6" fill="#07a174"/>
<circle cx="660.9" cy="179.7" r="3.6" fill="#e8e5b6"/>
<circle cx="673.4" cy="197.2" r="3.6" fill="#6bc57d"/>
<circle cx="661.6" cy="205.4" r="3.6" fill="#83cd83"/>
<circle cx="662.4" cy="209.2" r="3.6" fill="#97d297"/>
<circle cx="658.4" cy="212.2" r="3.6" fill="#e5e5e5"/>
<circle cx="655.9" cy="219.2" r="3.6" fill="#83cd83"/>
<circle cx="775.4" cy="226.7" r="3.6" fill="#6bc57d"/>
<circle cx="840.4" cy="191.7" r="3.6" fill="#6bc57d"/>
<circle cx="900.4" cy="194.2" r="3.6" fill="#eae597"/>
<circle cx="909.1" cy="190.4" r="3.6" fill="#e8e5b6"/>
<circle cx="914.6" cy="192.9" r="3.6" fill="#e8e5b6"/>
<circle cx="908.6" cy="198.4" r="3.6" fill="#eae597"/>
<circle cx="874.6" cy="208.4" r="3.6" fill="#e5e5e5"/>
<circle cx="867.9" cy="212.2" r="3.6" fill="#e8e5b6"/>
<circle cx="879.1" cy="212.2" r="3.6" fill="#bedbbe"/>
<circle cx="874.1" cy="217.2" r="3.6" fill="#bedbbe"/>
<circle cx="873.4" cy="226.7" r="3.6" fill="#83cd83"/>
<circle cx="892.9" cy="232.4" r="3.6" fill="#aad7aa"/>
<circle cx="914.6" cy="229.7" r="3.6" fill="#97d297"/>
<circle cx="851.6" cy="236.7" r="3.6" fill="#aad7aa"/>
<circle cx="860.9" cy="248.7" r="3.6" fill="#83cd83"/>
<circle cx="874.6" cy="248.2" r="3.6" fill="#6bc57d"/>
<circle cx="893.4" cy="249.2" r="3.6" fill="#83cd83"/>
<circle cx="886.6" cy="272.9" r="3.6" fill="#83cd83"/>
<circle cx="880.9" cy="278.4" r="3.6" fill="#00987b"/>
<circle cx="890.9" cy="280.4" r="3.6" fill="#97d297"/>
<circle cx="906.6" cy="280.4" r="3.6" fill="#eed938"/>
<circle cx="873.6" cy="285.4" r="3.6" fill="#97d297"/>
<circle cx="878.4" cy="287.1" r="3.6" fill="#e8e5b6"/>
<circle cx="884.1" cy="285.4" r="3.6" fill="#bedbbe"/>
<circle cx="890.4" cy="287.4" r="3.6" fill="#ebe487"/>
<circle cx="898.6" cy="286.6" r="3.6" fill="#eccc2b"/>
<circle cx="863.6" cy="288.4" r="3.6" fill="#ebe487"/>
<circle cx="876.6" cy="290.9" r="3.6" fill="#aad7aa"/>
<circle cx="882.9" cy="294.1" r="3.6" fill="#e5e5e5"/>
<circle cx="888.4" cy="294.1" r="3.6" fill="#e5e5e5"/>
<circle cx="902.1" cy="297.4" r="3.6" fill="#bedbbe"/>
<circle cx="866.1" cy="299.9" r="3.6" fill="#97d297"/>
<circle cx="736.6" cy="287.4" r="3.6" fill="#bedbbe"/>
<circle cx="708.4" cy="295.4" r="3.6" fill="#6bc57d"/>
<circle cx="703.4" cy="299.9" r="3.6" fill="#39b378"/>
<circle cx="654.9" cy="299.9" r="3.6" fill="#bedbbe"/>
<circle cx="925.9" cy="189.9" r="3.6" fill="#e8e5b6"/>
<circle cx="952.4" cy="190.4" r="3.6" fill="#52bc7b"/>
<circle cx="951.6" cy="195.9" r="3.6" fill="#39b378"/>
<circle cx="973.6" cy="199.9" r="3.6" fill="#008794"/>
<circle cx="939.9" cy="203.7" r="3.6" fill="#52bc7b"/>
<circle cx="943.6" cy="213.7" r="3.6" fill="#e5e5e5"/>
<circle cx="997.4" cy="230.4" r="3.6" fill="#f7131a"/>
<circle cx="997.4" cy="228.4" r="3.6" fill="#07a174"/>
<circle cx="953.4" cy="240.9" r="3.6" fill="#ece477"/>
<circle cx="978.6" cy="248.4" r="3.6" fill="#6bc57d"/>
<circle cx="1052.9" cy="208.4" r="3.6" fill="#ece477"/>
<circle cx="1045.4" cy="214.2" r="3.6" fill="#d1e0d1"/>
<circle cx="1049.7" cy="213.4" r="3.6" fill="#ebbe1e"/>
<circle cx="1053.7" cy="215.4" r="3.6" fill="#eab717"/>
<circle cx="1051.2" cy="224.9" r="3.6" fill="#eae597"/>
<circle cx="1081.7" cy="238.7" r="3.6" fill="#ede468"/>
<circle cx="1057.4" cy="248.7" r="3.6" fill="#ede468"/>
<circle cx="1035.9" cy="257.9" r="3.6" fill="#ebe487"/>
<circle cx="1112.4" cy="186.2" r="3.6" fill="#ede468"/>
<circle cx="1112.9" cy="269.9" r="3.6" fill="#eae597"/>
<circle cx="1087.2" cy="294.1" r="3.6" fill="#e9b111"/>
<circle cx="1098.4" cy="293.4" r="3.6" fill="#e7a304"/>
<circle cx="1051.2" cy="297.4" r="3.6" fill="#efe03e"/>
<circle cx="1006.1" cy="295.4" r="3.6" fill="#83cd83"/>
<circle cx="954.1" cy="293.6" r="3.6" fill="#6bc57d"/>
<circle cx="961.6" cy="292.4" r="3.6" fill="#20aa76"/>
<circle cx="965.4" cy="296.6" r="3.6" fill="#e5e5e5"/>
<circle cx="649.9" cy="303.4" r="3.6" fill="#52bc7b"/>
<circle cx="647.1" cy="306.6" r="3.6" fill="#39b378"/>
<circle cx="656.6" cy="307.9" r="3.6" fill="#eae597"/>
<circle cx="651.6" cy="306.1" r="3.6" fill="#52bc7b"/>
<circle cx="656.6" cy="312.1" r="3.6" fill="#83cd83"/>
<circle cx="728.4" cy="388.4" r="3.6" fill="#83cd83"/>
<circle cx="874.9" cy="303.6" r="3.6" fill="#97d297"/>
<circle cx="888.6" cy="308.6" r="3.6" fill="#e5e5e5"/>
<circle cx="900.4" cy="312.9" r="3.6" fill="#e8e5b6"/>
<circle cx="883.6" cy="324.6" r="3.6" fill="#83cd83"/>
<circle cx="867.9" cy="340.9" r="3.6" fill="#ece477"/>
<circle cx="874.9" cy="339.9" r="3.6" fill="#f0e448"/>
<circle cx="863.6" cy="358.6" r="3.6" fill="#ebbe1e"/>
<circle cx="866.6" cy="362.1" r="3.6" fill="#eed938"/>
<circle cx="844.1" cy="387.1" r="3.6" fill="#e5e5e5"/>
<circle cx="845.9" cy="383.4" r="3.6" fill="#efe03e"/>
<circle cx="852.1" cy="394.1" r="3.6" fill="#e5e5e5"/>
<circle cx="885.4" cy="407.4" r="3.6" fill="#efe03e"/>
<circle cx="924.1" cy="303.6" r="3.6" fill="#ece477"/>
<circle cx="941.6" cy="302.4" r="3.6" fill="#e5e5e5"/>
<circle cx="943.6" cy="351.6" r="3.6" fill="#ece477"/>
<circle cx="924.9" cy="362.1" r="3.6" fill="#83cd83"/>
<circle cx="918.6" cy="371.6" r="3.6" fill="#2222ff"/>
<circle cx="940.4" cy="381.6" r="3.6" fill="#ffffff"/>
<circle cx="924.1" cy="375.9" r="3.6" fill="#ede468"/>
<circle cx="929.1" cy="376.6" r="3.6" fill="#eccc2b"/>
<circle cx="935.9" cy="377.4" r="3.6" fill="#eed938"/>
<circle cx="920.4" cy="381.1" r="3.6" fill="#e49600"/>
<circle cx="925.4" cy="381.6" r="3.6" fill="#e7a304"/>
<circle cx="929.9" cy="380.4" r="3.6" fill="#dd7d00"/>
<circle cx="934.1" cy="382.4" r="3.6" fill="#e7a304"/>
<circle cx="927.9" cy="384.9" r="3.6" fill="#e49600"/>
<circle cx="935.9" cy="385.4" r="3.6" fill="#e7a304"/>
<circle cx="926.1" cy="387.9" r="3.6" fill="#eed938"/>
<circle cx="939.9" cy="394.6" r="3.6" fill="#e5e5e5"/>
<circle cx="924.6" cy="400.9" r="3.6" fill="#e5e5e5"/>
<circle cx="959.1" cy="370.4" r="3.6" fill="#ede468"/>
<circle cx="966.6" cy="368.6" r="3.6" fill="#e49600"/>
<circle cx="971.1" cy="364.6" r="3.6" fill="#e49600"/>
<circle cx="977.1" cy="367.1" r="3.6" fill="#6bc57d"/>
<circle cx="961.1" cy="373.4" r="3.6" fill="#e49600"/>
<circle cx="962.4" cy="376.6" r="3.6" fill="#dd7d00"/>
<circle cx="964.1" cy="379.6" r="3.6" fill="#da7100"/>
<circle cx="1009.6" cy="362.4" r="3.6" fill="#e5e5e5"/>
<circle cx="1014.6" cy="366.6" r="3.6" fill="#ece477"/>
<circle cx="1025.9" cy="347.9" r="3.6" fill="#e8e5b6"/>
<circle cx="1033.7" cy="347.1" r="3.6" fill="#e9e5a6"/>
<circle cx="1030.4" cy="354.1" r="3.6" fill="#39b378"/>
<circle cx="1027.9" cy="361.6" r="3.6" fill="#ebe487"/>
<circle cx="1032.9" cy="362.1" r="3.6" fill="#007fa0"/>
<circle cx="1036.7" cy="360.4" r="3.6" fill="#20aa76"/>
<circle cx="1040.9" cy="358.4" r="3.6" fill="#52bc7b"/>
<circle cx="1041.2" cy="367.1" r="3.6" fill="#e5e5e5"/>
<circle cx="1046.2" cy="365.4" r="3.6" fill="#eed938"/>
<circle cx="1042.9" cy="374.6" r="3.6" fill="#ebe487"/>
<circle cx="1055.9" cy="353.6" r="3.6" fill="#97d297"/>
<circle cx="1054.7" cy="365.4" r="3.6" fill="#ede468"/>
<circle cx="1063.7" cy="367.9" r="3.6" fill="#e9e5a6"/>
<circle cx="1076.2" cy="355.4" r="3.6" fill="#e7a304"/>
<circle cx="1084.7" cy="352.4" r="3.6" fill="#ece477"/>
<circle cx="1097.2" cy="352.1" r="3.6" fill="#eed938"/>
<circle cx="1106.7" cy="347.9" r="3.6" fill="#ebbe1e"/>
<circle cx="1107.4" cy="339.1" r="3.6" fill="#ebbe1e"/>
<circle cx="1112.9" cy="346.6" r="3.6" fill="#ebbe1e"/>
<circle cx="871.1" cy="437.1" r="3.6" fill="#ece477"/>
<circle cx="874.6" cy="439.1" r="3.6" fill="#f0e448"/>
<circle cx="819.9" cy="445.9" r="3.6" fill="#ece477"/>
<circle cx="866.6" cy="485.9" r="3.6" fill="#ebe487"/>
</g>
<rect x="28.5" y="28.5" width="485" height="492" fill="none" stroke="#000" stroke-width="1"/>
<path d="M46.70 520.5V528 M96.93 520.5V528 M147.16 520.5V528 M197.39 520.5V528 M247.62 520.5V528 M297.85 520.5V528 M348.08 520.5V528 M398.31 520.5V528 M448.54 520.5V528 M498.77 520.5V528 M28.5 37.70H21.0 M28.5 95.70H21.0 M28.5 153.70H21.0 M28.5 212.00H21.0 M28.5 270.20H21.0 M28.5 329.30H21.0 M28.5 387.70H21.0 M28.5 446.70H21.0 M28.5 506.00H21.0 " stroke="#000" stroke-width="0.9" fill="none"/>
<text x="46.4" y="546.7" font-size="12.2" text-anchor="middle" font-family="Liberation Sans, sans-serif">-106.5</text>
<text x="96.6" y="546.7" font-size="12.2" text-anchor="middle" font-family="Liberation Sans, sans-serif">-104.5</text>
<text x="146.9" y="546.7" font-size="12.2" text-anchor="middle" font-family="Liberation Sans, sans-serif">-102.5</text>
<text x="197.1" y="546.7" font-size="12.2" text-anchor="middle" font-family="Liberation Sans, sans-serif">-100.5</text>
<text x="247.3" y="546.7" font-size="12.2" text-anchor="middle" font-family="Liberation Sans, sans-serif">-98.5</text>
<text x="297.5" y="546.7" font-size="12.2" text-anchor="middle" font-family="Liberation Sans, sans-serif">-96.5</text>
<text x="347.8" y="546.7" font-size="12.2" text-anchor="middle" font-family="Liberation Sans, sans-serif">-94.5</text>
<text x="398.0" y="546.7" font-size="12.2" text-anchor="middle" font-family="Liberation Sans, sans-serif">-92.5</text>
<text x="448.2" y="546.7" font-size="12.2" text-anchor="middle" font-family="Liberation Sans, sans-serif">-90.5</text>
<text x="498.5" y="546.7" font-size="12.2" text-anchor="middle" font-family="Liberation Sans, sans-serif">-88.5</text>
<text transform="translate(12.3 38.0) rotate(-90)" font-size="12.3" text-anchor="middle" font-family="Liberation Sans, sans-serif">41.25</text>
<text transform="translate(12.3 96.0) rotate(-90)" font-size="12.3" text-anchor="middle" font-family="Liberation Sans, sans-serif">39.25</text>
<text transform="translate(12.3 154.0) rotate(-90)" font-size="12.3" text-anchor="middle" font-family="Liberation Sans, sans-serif">37.25</text>
<text transform="translate(12.3 212.3) rotate(-90)" font-size="12.3" text-anchor="middle" font-family="Liberation Sans, sans-serif">35.25</text>
<text transform="translate(12.3 270.5) rotate(-90)" font-size="12.3" text-anchor="middle" font-family="Liberation Sans, sans-serif">33.25</text>
<text transform="translate(12.3 329.6) rotate(-90)" font-size="12.3" text-anchor="middle" font-family="Liberation Sans, sans-serif">31.25</text>
<text transform="translate(12.3 388.0) rotate(-90)" font-size="12.3" text-anchor="middle" font-family="Liberation Sans, sans-serif">29.25</text>
<text transform="translate(12.3 447.0) rotate(-90)" font-size="12.3" text-anchor="middle" font-family="Liberation Sans, sans-serif">27.25</text>
<text transform="translate(12.3 506.3) rotate(-90)" font-size="12.3" text-anchor="middle" font-family="Liberation Sans, sans-serif">25.25</text>
<circle cx="472.5" cy="506.3" r="2.6" fill="#000"/>
<text x="483.0" y="510.6" font-size="12" font-family="Liberation Sans, sans-serif">AQS</text>
<text x="535.0" y="50.5" font-size="12" font-family="Liberation Sans, sans-serif">ppbV</text>
<rect x="628.5" y="28.5" width="485" height="492" fill="none" stroke="#000" stroke-width="1"/>
<path d="M646.70 520.5V528 M696.93 520.5V528 M747.16 520.5V528 M797.39 520.5V528 M847.62 520.5V528 M897.85 520.5V528 M948.08 520.5V528 M998.31 520.5V528 M1048.54 520.5V528 M1098.77 520.5V528 M628.5 37.70H621.0 M628.5 95.70H621.0 M628.5 153.70H621.0 M628.5 212.00H621.0 M628.5 270.20H621.0 M628.5 329.30H621.0 M628.5 387.70H621.0 M628.5 446.70H621.0 M628.5 506.00H621.0 " stroke="#000" stroke-width="0.9" fill="none"/>
<text x="646.4" y="546.7" font-size="12.2" text-anchor="middle" font-family="Liberation Sans, sans-serif">-106.5</text>
<text x="696.6" y="546.7" font-size="12.2" text-anchor="middle" font-family="Liberation Sans, sans-serif">-104.5</text>
<text x="746.9" y="546.7" font-size="12.2" text-anchor="middle" font-family="Liberation Sans, sans-serif">-102.5</text>
<text x="797.1" y="546.7" font-size="12.2" text-anchor="middle" font-family="Liberation Sans, sans-serif">-100.5</text>
<text x="847.3" y="546.7" font-size="12.2" text-anchor="middle" font-family="Liberation Sans, sans-serif">-98.5</text>
<text x="897.5" y="546.7" font-size="12.2" text-anchor="middle" font-family="Liberation Sans, sans-serif">-96.5</text>
<text x="947.8" y="546.7" font-size="12.2" text-anchor="middle" font-family="Liberation Sans, sans-serif">-94.5</text>
<text x="998.0" y="546.7" font-size="12.2" text-anchor="middle" font-family="Liberation Sans, sans-serif">-92.5</text>
<text x="1048.2" y="546.7" font-size="12.2" text-anchor="middle" font-family="Liberation Sans, sans-serif">-90.5</text>
<text x="1098.5" y="546.7" font-size="12.2" text-anchor="middle" font-family="Liberation Sans, sans-serif">-88.5</text>
<text transform="translate(612.3 38.0) rotate(-90)" font-size="12.3" text-anchor="middle" font-family="Liberation Sans, sans-serif">41.25</text>
<text transform="translate(612.3 96.0) rotate(-90)" font-size="12.3" text-anchor="middle" font-family="Liberation Sans, sans-serif">39.25</text>
<text transform="translate(612.3 154.0) rotate(-90)" font-size="12.3" text-anchor="middle" font-family="Liberation Sans, sans-serif">37.25</text>
<text transform="translate(612.3 212.3) rotate(-90)" font-size="12.3" text-anchor="middle" font-family="Liberation Sans, sans-serif">35.25</text>
<text transform="translate(612.3 270.5) rotate(-90)" font-size="12.3" text-anchor="middle" font-family="Liberation Sans, sans-serif">33.25</text>
<text transform="translate(612.3 329.6) rotate(-90)" font-size="12.3" text-anchor="middle" font-family="Liberation Sans, sans-serif">31.25</text>
<text transform="translate(612.3 388.0) rotate(-90)" font-size="12.3" text-anchor="middle" font-family="Liberation Sans, sans-serif">29.25</text>
<text transform="translate(612.3 447.0) rotate(-90)" font-size="12.3" text-anchor="middle" font-family="Liberation Sans, sans-serif">27.25</text>
<text transform="translate(612.3 506.3) rotate(-90)" font-size="12.3" text-anchor="middle" font-family="Liberation Sans, sans-serif">25.25</text>
<circle cx="1072.5" cy="506.3" r="2.6" fill="#000"/>
<text x="1083.0" y="510.6" font-size="12" font-family="Liberation Sans, sans-serif">AQS</text>
<text x="1135.0" y="50.5" font-size="12" font-family="Liberation Sans, sans-serif">ppbV</text>
<text x="271.2" y="19.5" font-size="14.4" font-weight="bold" text-anchor="middle" font-family="Liberation Sans, sans-serif">EMBER 36km: O3_MDA8 on 05/31/2023</text>
<text x="871.2" y="19.5" font-size="14.4" font-weight="bold" text-anchor="middle" font-family="Liberation Sans, sans-serif">EMBER bias: O3_MDA8 on 05/31/2023</text>
<text x="271.6" y="568" font-size="12.2" text-anchor="middle" font-family="Liberation Sans, sans-serif">Domain size: 49x49 | Max Model = 73 at (1, 16)</text>
<text x="271.2" y="583" font-size="12" text-anchor="middle" font-family="Liberation Sans, sans-serif">Max Obs: 85</text>
<text x="871.2" y="568" font-size="12.06" text-anchor="middle" font-family="Liberation Sans, sans-serif">Bias Summary: [ min, 25th %, 50th %, 75th %, max ]</text>
<text x="815.0" y="583" font-size="12" font-family="Liberation Sans, sans-serif">[</text>
<text x="821.0" y="583" font-size="12" font-family="Liberation Sans, sans-serif">-22,</text>
<text x="850.3" y="583" font-size="12" font-family="Liberation Sans, sans-serif">-5.1,</text>
<text x="883.7" y="583" font-size="12" font-family="Liberation Sans, sans-serif">0.47,</text>
<text x="919.5" y="583" font-size="12" font-family="Liberation Sans, sans-serif">3.8,</text>
<text x="948.7" y="583" font-size="12" font-family="Liberation Sans, sans-serif">32</text>
<text x="965.4" y="583" font-size="12" font-family="Liberation Sans, sans-serif">]</text>
<g shape-rendering="crispEdges">
<rect x="545.7" y="53.30" width="8" height="7.01" fill="#a52a2a"/>
<rect x="545.7" y="60.01" width="8" height="7.01" fill="#cc79a7"/>
<rect x="545.7" y="66.72" width="8" height="7.01" fill="#cd7692"/>
<rect x="545.7" y="73.43" width="8" height="7.01" fill="#ce727d"/>
<rect x="545.7" y="80.14" width="8" height="7.01" fill="#cf6f68"/>
<rect x="545.7" y="86.85" width="8" height="7.01" fill="#d06c54"/>
<rect x="545.7" y="93.56" width="8" height="7.01" fill="#d2683f"/>
<rect x="545.7" y="100.27" width="8" height="7.01" fill="#d3652a"/>
<rect x="545.7" y="106.98" width="8" height="7.01" fill="#d46115"/>
<rect x="545.7" y="113.70" width="8" height="7.01" fill="#d55e00"/>
<rect x="545.7" y="120.41" width="8" height="7.01" fill="#d76600"/>
<rect x="545.7" y="127.12" width="8" height="7.01" fill="#d96e00"/>
<rect x="545.7" y="133.83" width="8" height="7.01" fill="#db7600"/>
<rect x="545.7" y="140.54" width="8" height="7.01" fill="#de7e00"/>
<rect x="545.7" y="147.25" width="8" height="7.01" fill="#e08700"/>
<rect x="545.7" y="153.96" width="8" height="7.01" fill="#e28f00"/>
<rect x="545.7" y="160.67" width="8" height="7.01" fill="#e49700"/>
<rect x="545.7" y="167.38" width="8" height="7.01" fill="#e69f00"/>
<rect x="545.7" y="174.09" width="8" height="7.01" fill="#e7a808"/>
<rect x="545.7" y="180.80" width="8" height="7.01" fill="#e8b010"/>
<rect x="545.7" y="187.51" width="8" height="7.01" fill="#eab919"/>
<rect x="545.7" y="194.22" width="8" height="7.01" fill="#ebc221"/>
<rect x="545.7" y="200.93" width="8" height="7.01" fill="#ecca29"/>
<rect x="545.7" y="207.64" width="8" height="7.01" fill="#eed332"/>
<rect x="545.7" y="214.35" width="8" height="7.01" fill="#efdb3a"/>
<rect x="545.7" y="221.07" width="8" height="7.01" fill="#f0e442"/>
<rect x="545.7" y="227.78" width="8" height="7.01" fill="#d2db48"/>
<rect x="545.7" y="234.49" width="8" height="7.01" fill="#b4d24e"/>
<rect x="545.7" y="241.20" width="8" height="7.01" fill="#96ca54"/>
<rect x="545.7" y="247.91" width="8" height="7.01" fill="#78c15a"/>
<rect x="545.7" y="254.62" width="8" height="7.01" fill="#5ab861"/>
<rect x="545.7" y="261.33" width="8" height="7.01" fill="#3cb067"/>
<rect x="545.7" y="268.04" width="8" height="7.01" fill="#1ea76d"/>
<rect x="545.7" y="274.75" width="8" height="7.01" fill="#009e73"/>
<rect x="545.7" y="281.46" width="8" height="7.01" fill="#00987b"/>
<rect x="545.7" y="288.17" width="8" height="7.01" fill="#009383"/>
<rect x="545.7" y="294.88" width="8" height="7.01" fill="#008e8b"/>
<rect x="545.7" y="301.59" width="8" height="7.01" fill="#008892"/>
<rect x="545.7" y="308.30" width="8" height="7.01" fill="#00829a"/>
<rect x="545.7" y="315.01" width="8" height="7.01" fill="#007da2"/>
<rect x="545.7" y="321.72" width="8" height="7.01" fill="#0078aa"/>
<rect x="545.7" y="328.43" width="8" height="7.01" fill="#0072b2"/>
<rect x="545.7" y="335.15" width="8" height="7.01" fill="#0b7ab9"/>
<rect x="545.7" y="341.86" width="8" height="7.01" fill="#1682c0"/>
<rect x="545.7" y="348.57" width="8" height="7.01" fill="#208bc7"/>
<rect x="545.7" y="355.28" width="8" height="7.01" fill="#2b93ce"/>
<rect x="545.7" y="361.99" width="8" height="7.01" fill="#369bd4"/>
<rect x="545.7" y="368.70" width="8" height="7.01" fill="#40a4db"/>
<rect x="545.7" y="375.41" width="8" height="7.01" fill="#4bace2"/>
<rect x="545.7" y="382.12" width="8" height="7.01" fill="#56b4e9"/>
<rect x="545.7" y="388.83" width="8" height="7.01" fill="#5eb1df"/>
<rect x="545.7" y="395.54" width="8" height="7.01" fill="#67add5"/>
<rect x="545.7" y="402.25" width="8" height="7.01" fill="#6faacb"/>
<rect x="545.7" y="408.96" width="8" height="7.01" fill="#78a6c1"/>
<rect x="545.7" y="415.67" width="8" height="7.01" fill="#80a3b7"/>
<rect x="545.7" y="422.38" width="8" height="7.01" fill="#88a0ad"/>
<rect x="545.7" y="429.09" width="8" height="7.01" fill="#919ca3"/>
<rect x="545.7" y="435.80" width="8" height="7.01" fill="#999999"/>
<rect x="545.7" y="442.52" width="8" height="7.01" fill="#a6a6a6"/>
<rect x="545.7" y="449.23" width="8" height="7.01" fill="#b2b2b2"/>
<rect x="545.7" y="455.94" width="8" height="7.01" fill="#bfbfbf"/>
<rect x="545.7" y="462.65" width="8" height="7.01" fill="#cccccc"/>
<rect x="545.7" y="469.36" width="8" height="7.01" fill="#d9d9d9"/>
<rect x="545.7" y="476.07" width="8" height="7.01" fill="#e6e6e6"/>
<rect x="545.7" y="482.78" width="8" height="7.01" fill="#f2f2f2"/>
<rect x="545.7" y="489.49" width="8" height="7.01" fill="#ffffff"/>
<rect x="1145.7" y="53.30" width="8" height="7.11" fill="#a52a2a"/>
<rect x="1145.7" y="60.11" width="8" height="7.11" fill="#a52a2a"/>
<rect x="1145.7" y="66.93" width="8" height="7.11" fill="#b62222"/>
<rect x="1145.7" y="73.74" width="8" height="7.11" fill="#c81a1a"/>
<rect x="1145.7" y="80.56" width="8" height="7.11" fill="#d91212"/>
<rect x="1145.7" y="87.37" width="8" height="7.11" fill="#ea0a0a"/>
<rect x="1145.7" y="94.18" width="8" height="7.11" fill="#fc0202"/>
<rect x="1145.7" y="101.00" width="8" height="7.11" fill="#f7131a"/>
<rect x="1145.7" y="107.81" width="8" height="7.11" fill="#ed2b3b"/>
<rect x="1145.7" y="114.62" width="8" height="7.11" fill="#e3425c"/>
<rect x="1145.7" y="121.44" width="8" height="7.11" fill="#d95a7c"/>
<rect x="1145.7" y="128.25" width="8" height="7.11" fill="#cf729d"/>
<rect x="1145.7" y="135.07" width="8" height="7.11" fill="#cd7591"/>
<rect x="1145.7" y="141.88" width="8" height="7.11" fill="#cf7070"/>
<rect x="1145.7" y="148.69" width="8" height="7.11" fill="#d16b50"/>
<rect x="1145.7" y="155.51" width="8" height="7.11" fill="#d26630"/>
<rect x="1145.7" y="162.32" width="8" height="7.11" fill="#d46110"/>
<rect x="1145.7" y="169.14" width="8" height="7.11" fill="#d76400"/>
<rect x="1145.7" y="175.95" width="8" height="7.11" fill="#da7100"/>
<rect x="1145.7" y="182.76" width="8" height="7.11" fill="#dd7d00"/>
<rect x="1145.7" y="189.58" width="8" height="7.11" fill="#e08a00"/>
<rect x="1145.7" y="196.39" width="8" height="7.11" fill="#e49600"/>
<rect x="1145.7" y="203.20" width="8" height="7.11" fill="#e7a304"/>
<rect x="1145.7" y="210.02" width="8" height="7.11" fill="#e9b111"/>
<rect x="1145.7" y="216.83" width="8" height="7.11" fill="#ebbe1e"/>
<rect x="1145.7" y="223.65" width="8" height="7.11" fill="#eccc2b"/>
<rect x="1145.7" y="230.46" width="8" height="7.11" fill="#eed938"/>
<rect x="1145.7" y="237.27" width="8" height="7.11" fill="#f0e448"/>
<rect x="1145.7" y="244.09" width="8" height="7.11" fill="#ede468"/>
<rect x="1145.7" y="250.90" width="8" height="7.11" fill="#ebe487"/>
<rect x="1145.7" y="257.72" width="8" height="7.11" fill="#e9e5a6"/>
<rect x="1145.7" y="264.53" width="8" height="7.11" fill="#e7e5c6"/>
<rect x="1145.7" y="271.34" width="8" height="7.11" fill="#e5e5e5"/>
<rect x="1145.7" y="278.16" width="8" height="7.11" fill="#d1e0d1"/>
<rect x="1145.7" y="284.97" width="8" height="7.11" fill="#bedbbe"/>
<rect x="1145.7" y="291.78" width="8" height="7.11" fill="#aad7aa"/>
<rect x="1145.7" y="298.60" width="8" height="7.11" fill="#97d297"/>
<rect x="1145.7" y="305.41" width="8" height="7.11" fill="#83cd83"/>
<rect x="1145.7" y="312.23" width="8" height="7.11" fill="#6bc57d"/>
<rect x="1145.7" y="319.04" width="8" height="7.11" fill="#52bc7b"/>
<rect x="1145.7" y="325.85" width="8" height="7.11" fill="#39b378"/>
<rect x="1145.7" y="332.67" width="8" height="7.11" fill="#20aa76"/>
<rect x="1145.7" y="339.48" width="8" height="7.11" fill="#07a174"/>
<rect x="1145.7" y="346.30" width="8" height="7.11" fill="#00987b"/>
<rect x="1145.7" y="353.11" width="8" height="7.11" fill="#009088"/>
<rect x="1145.7" y="359.92" width="8" height="7.11" fill="#008794"/>
<rect x="1145.7" y="366.74" width="8" height="7.11" fill="#007fa0"/>
<rect x="1145.7" y="373.55" width="8" height="7.11" fill="#0076ac"/>
<rect x="1145.7" y="380.36" width="8" height="7.11" fill="#036ab9"/>
<rect x="1145.7" y="387.18" width="8" height="7.11" fill="#0a5bc8"/>
<rect x="1145.7" y="393.99" width="8" height="7.11" fill="#104cd7"/>
<rect x="1145.7" y="400.81" width="8" height="7.11" fill="#173ce6"/>
<rect x="1145.7" y="407.62" width="8" height="7.11" fill="#1d2df5"/>
<rect x="1145.7" y="414.43" width="8" height="7.11" fill="#2922fe"/>
<rect x="1145.7" y="421.25" width="8" height="7.11" fill="#4221fb"/>
<rect x="1145.7" y="428.06" width="8" height="7.11" fill="#5b21f8"/>
<rect x="1145.7" y="434.88" width="8" height="7.11" fill="#7421f5"/>
<rect x="1145.7" y="441.69" width="8" height="7.11" fill="#8c20f2"/>
<rect x="1145.7" y="448.50" width="8" height="7.11" fill="#9d20ec"/>
<rect x="1145.7" y="455.32" width="8" height="7.11" fill="#9123da"/>
<rect x="1145.7" y="462.13" width="8" height="7.11" fill="#8426c8"/>
<rect x="1145.7" y="468.94" width="8" height="7.11" fill="#7728b6"/>
<rect x="1145.7" y="475.76" width="8" height="7.11" fill="#6b2aa3"/>
<rect x="1145.7" y="482.57" width="8" height="7.11" fill="#5e2d91"/>
<rect x="1145.7" y="489.39" width="8" height="7.11" fill="#5e2d91"/>
</g>
<rect x="545.7" y="53.3" width="8" height="442.9" fill="none" stroke="#bbb" stroke-width="0.6"/>
<path d="M553.7 56.7V492.8" stroke="#000" stroke-width="1"/>
<path d="M553.7 56.66H561.0" stroke="#000" stroke-width="1"/>
<text x="567.5" y="61.0" font-size="12.2" font-family="Liberation Sans, sans-serif">140</text>
<path d="M553.7 70.08H561.0" stroke="#000" stroke-width="1"/>
<text x="567.5" y="74.4" font-size="12.2" font-family="Liberation Sans, sans-serif">80</text>
<path d="M553.7 137.18H561.0" stroke="#000" stroke-width="1"/>
<text x="567.5" y="141.5" font-size="12.2" font-family="Liberation Sans, sans-serif">70</text>
<path d="M553.7 204.29H561.0" stroke="#000" stroke-width="1"/>
<text x="567.5" y="208.6" font-size="12.2" font-family="Liberation Sans, sans-serif">60</text>
<path d="M553.7 271.39H561.0" stroke="#000" stroke-width="1"/>
<text x="567.5" y="275.7" font-size="12.2" font-family="Liberation Sans, sans-serif">50</text>
<path d="M553.7 338.50H561.0" stroke="#000" stroke-width="1"/>
<text x="567.5" y="342.9" font-size="12.2" font-family="Liberation Sans, sans-serif">40</text>
<path d="M553.7 405.61H561.0" stroke="#000" stroke-width="1"/>
<text x="567.5" y="410.0" font-size="12.2" font-family="Liberation Sans, sans-serif">30</text>
<path d="M553.7 472.71H561.0" stroke="#000" stroke-width="1"/>
<text x="567.5" y="477.1" font-size="12.2" font-family="Liberation Sans, sans-serif">20</text>
<path d="M553.7 492.84H561.0" stroke="#000" stroke-width="1"/>
<text x="567.5" y="497.2" font-size="12.2" font-family="Liberation Sans, sans-serif">0</text>
<rect x="1145.7" y="53.3" width="8" height="442.9" fill="none" stroke="#bbb" stroke-width="0.6"/>
<path d="M1153.7 56.7V492.8" stroke="#000" stroke-width="1"/>
<path d="M1153.7 56.71H1161.0" stroke="#000" stroke-width="1"/>
<text x="1167.5" y="61.1" font-size="12.2" font-family="Liberation Sans, sans-serif">90</text>
<path d="M1153.7 70.33H1161.0" stroke="#000" stroke-width="1"/>
<text x="1167.5" y="74.7" font-size="12.2" font-family="Liberation Sans, sans-serif">30</text>
<path d="M1153.7 138.47H1161.0" stroke="#000" stroke-width="1"/>
<text x="1167.5" y="142.8" font-size="12.2" font-family="Liberation Sans, sans-serif">20</text>
<path d="M1153.7 206.61H1161.0" stroke="#000" stroke-width="1"/>
<text x="1167.5" y="211.0" font-size="12.2" font-family="Liberation Sans, sans-serif">10</text>
<path d="M1153.7 274.75H1161.0" stroke="#000" stroke-width="1"/>
<text x="1167.5" y="279.1" font-size="12.2" font-family="Liberation Sans, sans-serif">0</text>
<path d="M1153.7 342.89H1161.0" stroke="#000" stroke-width="1"/>
<text x="1167.5" y="347.2" font-size="12.2" font-family="Liberation Sans, sans-serif">-10</text>
<path d="M1153.7 411.03H1161.0" stroke="#000" stroke-width="1"/>
<text x="1167.5" y="415.4" font-size="12.2" font-family="Liberation Sans, sans-serif">-20</text>
<path d="M1153.7 479.17H1161.0" stroke="#000" stroke-width="1"/>
<text x="1167.5" y="483.5" font-size="12.2" font-family="Liberation Sans, sans-serif">-30</text>
<path d="M1153.7 492.79H1161.0" stroke="#000" stroke-width="1"/>
<text x="1167.5" y="497.1" font-size="12.2" font-family="Liberation Sans, sans-serif">-50</text>
</svg>
</body></html>
